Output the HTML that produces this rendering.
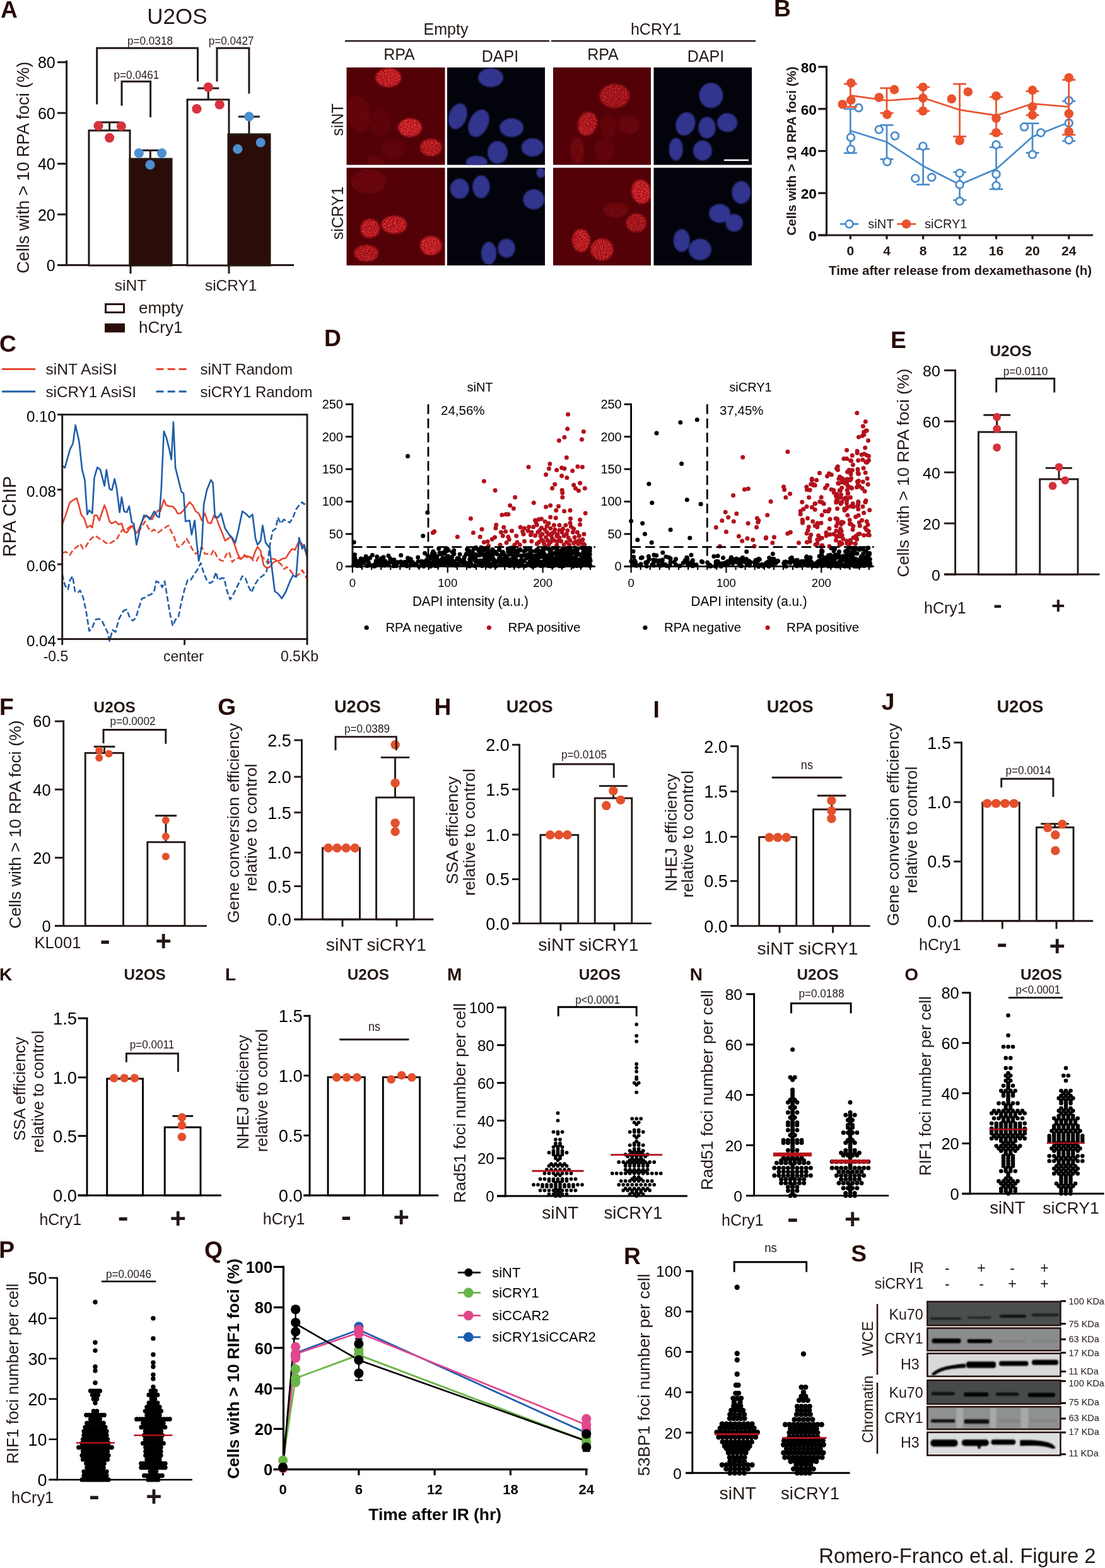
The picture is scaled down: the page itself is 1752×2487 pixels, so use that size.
<!DOCTYPE html>
<html><head><meta charset="utf-8"><title>Romero-Franco et al. Figure 2</title>
<style>html,body{margin:0;padding:0;background:#fff;}body{width:1752px;height:2487px;overflow:hidden;}
svg{display:block;font-family:'Liberation Sans',Arial,Helvetica,sans-serif;fill:#231815;}</style></head>
<body><svg xmlns="http://www.w3.org/2000/svg" width="1752" height="2487" viewBox="0 0 1752 2487">
<defs><filter id="blurN" x="-5%" y="-5%" width="110%" height="110%"><feGaussianBlur stdDeviation="1.6"/></filter><filter id="blurB" x="-5%" y="-5%" width="110%" height="110%"><feGaussianBlur stdDeviation="1.1"/></filter><filter id="speck" x="0" y="0" width="100%" height="100%"><feTurbulence type="fractalNoise" baseFrequency="0.9" numOctaves="1" seed="7"/><feColorMatrix type="matrix" values="0 0 0 0 0.55  0 0 0 0 0.05  0 0 0 0 0.05  3 0 0 0 -1.6"/></filter></defs>
<rect width="1752" height="2487" fill="#fff"/>
<text x="0.88" y="27.8" font-size="37.2" font-weight="bold" fill="#260a05">A</text>
<text x="281" y="38.08" font-size="35" text-anchor="middle">U2OS</text>
<line x1="105.6" y1="95.7" x2="105.6" y2="422.1" stroke="#231815" stroke-width="3"/>
<line x1="91" y1="98.7" x2="105.6" y2="98.7" stroke="#231815" stroke-width="3"/>
<text x="87.7" y="108.33" font-size="25" text-anchor="end" fill="#000">80</text>
<line x1="91" y1="179.2" x2="105.6" y2="179.2" stroke="#231815" stroke-width="3"/>
<text x="87.7" y="188.82" font-size="25" text-anchor="end" fill="#000">60</text>
<line x1="91" y1="259.7" x2="105.6" y2="259.7" stroke="#231815" stroke-width="3"/>
<text x="87.7" y="269.32" font-size="25" text-anchor="end" fill="#000">40</text>
<line x1="91" y1="340.1" x2="105.6" y2="340.1" stroke="#231815" stroke-width="3"/>
<text x="87.7" y="349.73" font-size="25" text-anchor="end" fill="#000">20</text>
<line x1="91" y1="420.6" x2="105.6" y2="420.6" stroke="#231815" stroke-width="3"/>
<text x="87.7" y="430.23" font-size="25" text-anchor="end" fill="#000">0</text>
<line x1="91" y1="420.6" x2="466" y2="420.6" stroke="#231815" stroke-width="3"/>
<rect x="141" y="207" width="65" height="214" fill="#fff" stroke="#231815" stroke-width="3"/>
<rect x="206" y="252" width="66" height="169" fill="#2a0d08" stroke="#231815" stroke-width="3"/>
<rect x="297" y="158" width="66" height="263" fill="#fff" stroke="#231815" stroke-width="3"/>
<rect x="362" y="213" width="66" height="208" fill="#2a0d08" stroke="#231815" stroke-width="3"/>
<line x1="207" y1="421" x2="207" y2="434" stroke="#231815" stroke-width="3"/>
<line x1="363" y1="421" x2="363" y2="434" stroke="#231815" stroke-width="3"/>
<line x1="173.6" y1="207" x2="173.6" y2="194" stroke="#231815" stroke-width="3"/>
<line x1="157.6" y1="194" x2="189.6" y2="194" stroke="#231815" stroke-width="3"/>
<line x1="238.3" y1="252" x2="238.3" y2="238.6" stroke="#231815" stroke-width="3"/>
<line x1="221.8" y1="238.6" x2="254.8" y2="238.6" stroke="#231815" stroke-width="3"/>
<line x1="330.2" y1="158" x2="330.2" y2="139.9" stroke="#231815" stroke-width="3"/>
<line x1="313.2" y1="139.9" x2="347.2" y2="139.9" stroke="#231815" stroke-width="3"/>
<line x1="394.9" y1="213" x2="394.9" y2="184.9" stroke="#231815" stroke-width="3"/>
<line x1="377.9" y1="184.9" x2="411.9" y2="184.9" stroke="#231815" stroke-width="3"/>
<circle cx="156" cy="199.4" r="7.6" fill="#d9313e"/>
<circle cx="192.3" cy="200" r="7.6" fill="#d9313e"/>
<circle cx="173.6" cy="218.6" r="7.6" fill="#d9313e"/>
<circle cx="330.2" cy="138.3" r="7.6" fill="#d9313e"/>
<circle cx="311.9" cy="172.7" r="7.6" fill="#d9313e"/>
<circle cx="348.2" cy="165.9" r="7.6" fill="#d9313e"/>
<circle cx="220.3" cy="242.8" r="7.6" fill="#4b8fce"/>
<circle cx="256.6" cy="242.8" r="7.6" fill="#4b8fce"/>
<circle cx="238" cy="261.4" r="7.6" fill="#4b8fce"/>
<circle cx="394.9" cy="184.9" r="7.6" fill="#4b8fce"/>
<circle cx="376.8" cy="236.3" r="7.6" fill="#4b8fce"/>
<circle cx="413.2" cy="226" r="7.6" fill="#4b8fce"/>
<path d="M153.7 165.6V76.2H313.5V129.3" fill="none" stroke="#231815" stroke-width="3"/>
<path d="M344 129.3V76.2H394.9V148.6" fill="none" stroke="#231815" stroke-width="3"/>
<path d="M193 167.8V129.3H238.6V185.9" fill="none" stroke="#231815" stroke-width="3"/>
<text x="238" y="70.74" font-size="18.4" text-anchor="middle" textLength="71.85" lengthAdjust="spacingAndGlyphs">p=0.0318</text>
<text x="366.6" y="70.74" font-size="18.4" text-anchor="middle" textLength="71.85" lengthAdjust="spacingAndGlyphs">p=0.0427</text>
<text x="216.4" y="124.74" font-size="18.4" text-anchor="middle" textLength="71.85" lengthAdjust="spacingAndGlyphs">p=0.0461</text>
<text x="207" y="460.55" font-size="24.5" text-anchor="middle">siNT</text>
<text x="366.2" y="460.55" font-size="24.5" text-anchor="middle">siCRY1</text>
<text x="45.9" y="265.7" font-size="27.3" text-anchor="middle" transform="rotate(-90 45.9 265.7)" textLength="336" lengthAdjust="spacingAndGlyphs">Cells with &gt; 10 RPA foci (%)</text>
<rect x="167.5" y="482.5" width="29" height="13" fill="#fff" stroke="#2a0d08" stroke-width="3"/>
<rect x="166" y="513" width="32" height="14.3" fill="#2a0d08"/>
<text x="220" y="497" font-size="26">empty</text>
<text x="220" y="527.5" font-size="26">hCry1</text>
<text x="707" y="54.62" font-size="25" text-anchor="middle">Empty</text>
<text x="1040" y="54.62" font-size="25" text-anchor="middle">hCRY1</text>
<line x1="547" y1="65" x2="871" y2="65" stroke="#231815" stroke-width="2.6"/>
<line x1="874" y1="65" x2="1198" y2="65" stroke="#231815" stroke-width="2.6"/>
<text x="633" y="94.62" font-size="25" text-anchor="middle">RPA</text>
<text x="956" y="94.62" font-size="25" text-anchor="middle">RPA</text>
<text x="793" y="97.62" font-size="25" text-anchor="middle">DAPI</text>
<text x="1119" y="97.62" font-size="25" text-anchor="middle">DAPI</text>
<text x="543.62" y="190" font-size="25" text-anchor="middle" transform="rotate(-90 543.62 190)">siNT</text>
<text x="543.62" y="338" font-size="25" text-anchor="middle" transform="rotate(-90 543.62 338)">siCRY1</text>
<rect x="549.5" y="107" width="156" height="154.5" fill="#530007"/>
<rect x="709" y="107" width="155" height="154.5" fill="#03030c"/>
<rect x="877" y="107" width="155" height="154.5" fill="#530007"/>
<rect x="1036.5" y="107" width="155.5" height="154.5" fill="#03030c"/>
<rect x="549.5" y="266" width="156" height="155" fill="#530007"/>
<rect x="709" y="266" width="155" height="155" fill="#03030c"/>
<rect x="877" y="266" width="155" height="155" fill="#530007"/>
<rect x="1036.5" y="266" width="155.5" height="155" fill="#03030c"/>
<filter id="nspeck00" x="-10%" y="-10%" width="120%" height="120%" color-interpolation-filters="sRGB"><feGaussianBlur in="SourceGraphic" stdDeviation="1.5" result="b"/><feTurbulence type="fractalNoise" baseFrequency="0.6" numOctaves="2" seed="3" result="n"/><feColorMatrix in="n" type="matrix" values="0 0 0 0 1  0 0 0 0 0.27  0 0 0 0 0.27  6 0 0 0 -2.9" result="s"/><feComposite in="s" in2="b" operator="in" result="s2"/><feMerge><feMergeNode in="b"/><feMergeNode in="s2"/></feMerge></filter>
<filter id="nspeck01" x="-10%" y="-10%" width="120%" height="120%" color-interpolation-filters="sRGB"><feGaussianBlur in="SourceGraphic" stdDeviation="1.5" result="b"/><feTurbulence type="fractalNoise" baseFrequency="0.6" numOctaves="2" seed="16" result="n"/><feColorMatrix in="n" type="matrix" values="0 0 0 0 1  0 0 0 0 0.27  0 0 0 0 0.27  6 0 0 0 -2.9" result="s"/><feComposite in="s" in2="b" operator="in" result="s2"/><feMerge><feMergeNode in="b"/><feMergeNode in="s2"/></feMerge></filter>
<filter id="nspeck20" x="-10%" y="-10%" width="120%" height="120%" color-interpolation-filters="sRGB"><feGaussianBlur in="SourceGraphic" stdDeviation="1.5" result="b"/><feTurbulence type="fractalNoise" baseFrequency="0.6" numOctaves="2" seed="17" result="n"/><feColorMatrix in="n" type="matrix" values="0 0 0 0 1  0 0 0 0 0.27  0 0 0 0 0.27  6 0 0 0 -2.9" result="s"/><feComposite in="s" in2="b" operator="in" result="s2"/><feMerge><feMergeNode in="b"/><feMergeNode in="s2"/></feMerge></filter>
<filter id="nspeck21" x="-10%" y="-10%" width="120%" height="120%" color-interpolation-filters="sRGB"><feGaussianBlur in="SourceGraphic" stdDeviation="1.5" result="b"/><feTurbulence type="fractalNoise" baseFrequency="0.6" numOctaves="2" seed="30" result="n"/><feColorMatrix in="n" type="matrix" values="0 0 0 0 1  0 0 0 0 0.27  0 0 0 0 0.27  6 0 0 0 -2.9" result="s"/><feComposite in="s" in2="b" operator="in" result="s2"/><feMerge><feMergeNode in="b"/><feMergeNode in="s2"/></feMerge></filter>
<clipPath id="mc00"><rect x="549.5" y="107" width="156" height="154.5"/></clipPath>
<clipPath id="mc10"><rect x="709" y="107" width="155" height="154.5"/></clipPath>
<clipPath id="mc20"><rect x="877" y="107" width="155" height="154.5"/></clipPath>
<clipPath id="mc30"><rect x="1036.5" y="107" width="155.5" height="154.5"/></clipPath>
<clipPath id="mc01"><rect x="549.5" y="266" width="156" height="155"/></clipPath>
<clipPath id="mc11"><rect x="709" y="266" width="155" height="155"/></clipPath>
<clipPath id="mc21"><rect x="877" y="266" width="155" height="155"/></clipPath>
<clipPath id="mc31"><rect x="1036.5" y="266" width="155.5" height="155"/></clipPath>
<g clip-path="url(#mc00)"><g filter="url(#nspeck00)">
<ellipse cx="615.9" cy="123.1" rx="20" ry="15" fill="#b0141c" fill-opacity="0.89" transform="rotate(0 615.9 123.1)"/>
<ellipse cx="650" cy="202.5" rx="18.6" ry="14.6" fill="#b0141c" fill-opacity="0.95" transform="rotate(0 650 202.5)"/>
<ellipse cx="683.2" cy="233.7" rx="17" ry="13.5" fill="#b0141c" fill-opacity="0.79" transform="rotate(0 683.2 233.7)"/>
<ellipse cx="568.6" cy="180.4" rx="18" ry="30" fill="#b0141c" fill-opacity="0.12" transform="rotate(-10 568.6 180.4)"/>
<ellipse cx="602.8" cy="194.5" rx="16" ry="22" fill="#b0141c" fill-opacity="0.08" transform="rotate(0 602.8 194.5)"/>
<ellipse cx="622.9" cy="236.7" rx="18" ry="16" fill="#b0141c" fill-opacity="0.09" transform="rotate(0 622.9 236.7)"/>
<ellipse cx="594.8" cy="254.8" rx="14" ry="9" fill="#b0141c" fill-opacity="0.10" transform="rotate(0 594.8 254.8)"/>
</g></g>
<g clip-path="url(#mc01)"><g filter="url(#nspeck01)">
<ellipse cx="584.7" cy="288.1" rx="28" ry="19" fill="#b0141c" fill-opacity="0.15" transform="rotate(0 584.7 288.1)"/>
<ellipse cx="586.7" cy="362.5" rx="15" ry="15" fill="#b0141c" fill-opacity="0.84" transform="rotate(0 586.7 362.5)"/>
<ellipse cx="624.9" cy="356.5" rx="20" ry="14" fill="#b0141c" fill-opacity="0.84" transform="rotate(0 624.9 356.5)"/>
<ellipse cx="683.2" cy="389.6" rx="17" ry="15" fill="#b0141c" fill-opacity="0.89" transform="rotate(0 683.2 389.6)"/>
<ellipse cx="580.7" cy="401.7" rx="19" ry="13" fill="#b0141c" fill-opacity="0.73" transform="rotate(0 580.7 401.7)"/>
</g></g>
<g clip-path="url(#mc20)"><g filter="url(#nspeck20)">
<ellipse cx="974.5" cy="152.3" rx="23.6" ry="19" fill="#b0141c" fill-opacity="0.63" transform="rotate(0 974.5 152.3)"/>
<ellipse cx="931.3" cy="196.5" rx="15" ry="19" fill="#b0141c" fill-opacity="0.73" transform="rotate(15 931.3 196.5)"/>
<ellipse cx="964.5" cy="200.5" rx="13" ry="19" fill="#b0141c" fill-opacity="0.11" transform="rotate(0 964.5 200.5)"/>
<ellipse cx="996.6" cy="198.5" rx="17" ry="15" fill="#b0141c" fill-opacity="0.14" transform="rotate(0 996.6 198.5)"/>
<ellipse cx="915.2" cy="238.7" rx="11" ry="22" fill="#b0141c" fill-opacity="0.19" transform="rotate(0 915.2 238.7)"/>
<ellipse cx="958.4" cy="238.7" rx="16" ry="19" fill="#b0141c" fill-opacity="0.11" transform="rotate(0 958.4 238.7)"/>
</g></g>
<g clip-path="url(#mc21)"><g filter="url(#nspeck21)">
<ellipse cx="1016.7" cy="304.2" rx="15" ry="19" fill="#b0141c" fill-opacity="0.89" transform="rotate(-10 1016.7 304.2)"/>
<ellipse cx="976.5" cy="333.4" rx="20" ry="12" fill="#b0141c" fill-opacity="0.19" transform="rotate(0 976.5 333.4)"/>
<ellipse cx="1008.7" cy="353.5" rx="16" ry="15" fill="#b0141c" fill-opacity="0.63" transform="rotate(0 1008.7 353.5)"/>
<ellipse cx="921.2" cy="381.6" rx="14" ry="18" fill="#b0141c" fill-opacity="0.84" transform="rotate(0 921.2 381.6)"/>
<ellipse cx="954.4" cy="395.7" rx="18" ry="17" fill="#b0141c" fill-opacity="0.79" transform="rotate(0 954.4 395.7)"/>
</g></g>
<g clip-path="url(#mc10)"><g filter="url(#blurB)">
<ellipse cx="778" cy="123.1" rx="20" ry="15" fill="#31348e" transform="rotate(0 778 123.1)"/>
<ellipse cx="725.7" cy="184.4" rx="14" ry="21" fill="#31348e" transform="rotate(20 725.7 184.4)"/>
<ellipse cx="759" cy="195.5" rx="15" ry="23" fill="#31348e" transform="rotate(25 759 195.5)"/>
<ellipse cx="811.1" cy="202.5" rx="19" ry="15" fill="#31348e" transform="rotate(0 811.1 202.5)"/>
<ellipse cx="789" cy="241.7" rx="16" ry="18" fill="#31348e" transform="rotate(0 789 241.7)"/>
<ellipse cx="844.3" cy="233.7" rx="17.7" ry="14.5" fill="#31348e" transform="rotate(0 844.3 233.7)"/>
<ellipse cx="755.8" cy="257" rx="17" ry="10" fill="#31348e" transform="rotate(0 755.8 257)"/>
</g></g>
<g clip-path="url(#mc11)"><g filter="url(#blurB)">
<ellipse cx="728.7" cy="299.2" rx="15" ry="16" fill="#31348e" transform="rotate(0 728.7 299.2)"/>
<ellipse cx="762.9" cy="296.2" rx="13.7" ry="18" fill="#31348e" transform="rotate(0 762.9 296.2)"/>
<ellipse cx="846.3" cy="316.3" rx="17" ry="16" fill="#31348e" transform="rotate(0 846.3 316.3)"/>
<ellipse cx="857.4" cy="274.1" rx="7" ry="8" fill="#31348e" transform="rotate(0 857.4 274.1)"/>
<ellipse cx="775" cy="401.7" rx="12" ry="18" fill="#31348e" transform="rotate(0 775 401.7)"/>
<ellipse cx="803.1" cy="393.7" rx="13.7" ry="15" fill="#31348e" transform="rotate(0 803.1 393.7)"/>
</g></g>
<g clip-path="url(#mc30)"><g filter="url(#blurB)">
<ellipse cx="1127.4" cy="151.3" rx="19" ry="20" fill="#31348e" transform="rotate(0 1127.4 151.3)"/>
<ellipse cx="1086.8" cy="196.5" rx="15" ry="19" fill="#31348e" transform="rotate(20 1086.8 196.5)"/>
<ellipse cx="1120.9" cy="202.5" rx="13.7" ry="17" fill="#31348e" transform="rotate(0 1120.9 202.5)"/>
<ellipse cx="1153.1" cy="194.5" rx="16" ry="15" fill="#31348e" transform="rotate(0 1153.1 194.5)"/>
<ellipse cx="1071.7" cy="236.7" rx="11" ry="18" fill="#31348e" transform="rotate(0 1071.7 236.7)"/>
<ellipse cx="1113.9" cy="238.7" rx="15" ry="16" fill="#31348e" transform="rotate(0 1113.9 238.7)"/>
</g></g>
<g clip-path="url(#mc31)"><g filter="url(#blurB)">
<ellipse cx="1175.2" cy="305.2" rx="15" ry="18" fill="#31348e" transform="rotate(0 1175.2 305.2)"/>
<ellipse cx="1141" cy="338.4" rx="17" ry="15" fill="#31348e" transform="rotate(0 1141 338.4)"/>
<ellipse cx="1164.2" cy="353.5" rx="13.7" ry="14" fill="#31348e" transform="rotate(0 1164.2 353.5)"/>
<ellipse cx="1080.7" cy="381.6" rx="13" ry="18" fill="#31348e" transform="rotate(0 1080.7 381.6)"/>
<ellipse cx="1109.9" cy="395.7" rx="18" ry="17" fill="#31348e" transform="rotate(0 1109.9 395.7)"/>
</g></g>
<line x1="1148" y1="254" x2="1187" y2="254" stroke="#ffffff" stroke-width="2.5"/>
<text x="1227.1" y="25.6" font-size="37.2" font-weight="bold" fill="#260a05">B</text>
<line x1="1310.5" y1="104.4" x2="1310.5" y2="374.6" stroke="#231815" stroke-width="3.2"/>
<line x1="1297.3" y1="106" x2="1310.5" y2="106" stroke="#231815" stroke-width="3.2"/>
<text x="1294.9" y="114.8" font-size="22.6" text-anchor="end" font-weight="bold" fill="#000">80</text>
<line x1="1297.3" y1="172.75" x2="1310.5" y2="172.75" stroke="#231815" stroke-width="3.2"/>
<text x="1294.9" y="181.55" font-size="22.6" text-anchor="end" font-weight="bold" fill="#000">60</text>
<line x1="1297.3" y1="239.5" x2="1310.5" y2="239.5" stroke="#231815" stroke-width="3.2"/>
<text x="1294.9" y="248.3" font-size="22.6" text-anchor="end" font-weight="bold" fill="#000">40</text>
<line x1="1297.3" y1="306.25" x2="1310.5" y2="306.25" stroke="#231815" stroke-width="3.2"/>
<text x="1294.9" y="315.05" font-size="22.6" text-anchor="end" font-weight="bold" fill="#000">20</text>
<line x1="1297.3" y1="373" x2="1310.5" y2="373" stroke="#231815" stroke-width="3.2"/>
<text x="1294.9" y="381.8" font-size="22.6" text-anchor="end" font-weight="bold" fill="#000">0</text>
<line x1="1297.3" y1="373" x2="1733" y2="373" stroke="#231815" stroke-width="3.2"/>
<line x1="1348.3" y1="373" x2="1348.3" y2="379.5" stroke="#231815" stroke-width="3.2"/>
<text x="1348.3" y="405.25" font-size="21" text-anchor="middle" font-weight="bold">0</text>
<line x1="1406" y1="373" x2="1406" y2="379.5" stroke="#231815" stroke-width="3.2"/>
<text x="1406" y="405.25" font-size="21" text-anchor="middle" font-weight="bold">4</text>
<line x1="1463.6" y1="373" x2="1463.6" y2="379.5" stroke="#231815" stroke-width="3.2"/>
<text x="1463.6" y="405.25" font-size="21" text-anchor="middle" font-weight="bold">8</text>
<line x1="1521.6" y1="373" x2="1521.6" y2="379.5" stroke="#231815" stroke-width="3.2"/>
<text x="1521.6" y="405.25" font-size="21" text-anchor="middle" font-weight="bold">12</text>
<line x1="1579.5" y1="373" x2="1579.5" y2="379.5" stroke="#231815" stroke-width="3.2"/>
<text x="1579.5" y="405.25" font-size="21" text-anchor="middle" font-weight="bold">16</text>
<line x1="1637" y1="373" x2="1637" y2="379.5" stroke="#231815" stroke-width="3.2"/>
<text x="1637" y="405.25" font-size="21" text-anchor="middle" font-weight="bold">20</text>
<line x1="1694.7" y1="373" x2="1694.7" y2="379.5" stroke="#231815" stroke-width="3.2"/>
<text x="1694.7" y="405.25" font-size="21" text-anchor="middle" font-weight="bold">24</text>
<text x="1522.5" y="436.25" font-size="21" text-anchor="middle" font-weight="bold" textLength="417" lengthAdjust="spacingAndGlyphs">Time after release from dexamethasone (h)</text>
<text x="1261.74" y="239.5" font-size="21" text-anchor="middle" font-weight="bold" transform="rotate(-90 1261.74 239.5)" textLength="268" lengthAdjust="spacingAndGlyphs">Cells with &gt; 10 RPA foci (%)</text>
<polyline points="1348.3,207.2 1406,225.3 1463.6,263.2 1521.6,292.8 1579.5,268.1 1637,217.1 1694.7,194.1" fill="none" stroke="#4a8bcb" stroke-width="2.7" stroke-linejoin="round"/>
<line x1="1348.3" y1="172.7" x2="1348.3" y2="242.8" stroke="#4a8bcb" stroke-width="2.7"/>
<line x1="1337.8" y1="172.7" x2="1358.8" y2="172.7" stroke="#4a8bcb" stroke-width="2.7"/>
<line x1="1337.8" y1="242.8" x2="1358.8" y2="242.8" stroke="#4a8bcb" stroke-width="2.7"/>
<line x1="1406" y1="198.4" x2="1406" y2="252.6" stroke="#4a8bcb" stroke-width="2.7"/>
<line x1="1395.5" y1="198.4" x2="1416.5" y2="198.4" stroke="#4a8bcb" stroke-width="2.7"/>
<line x1="1395.5" y1="252.6" x2="1416.5" y2="252.6" stroke="#4a8bcb" stroke-width="2.7"/>
<line x1="1463.6" y1="236.2" x2="1463.6" y2="292.8" stroke="#4a8bcb" stroke-width="2.7"/>
<line x1="1453.1" y1="236.2" x2="1474.1" y2="236.2" stroke="#4a8bcb" stroke-width="2.7"/>
<line x1="1453.1" y1="292.8" x2="1474.1" y2="292.8" stroke="#4a8bcb" stroke-width="2.7"/>
<line x1="1521.6" y1="273" x2="1521.6" y2="317.4" stroke="#4a8bcb" stroke-width="2.7"/>
<line x1="1511.1" y1="273" x2="1532.1" y2="273" stroke="#4a8bcb" stroke-width="2.7"/>
<line x1="1511.1" y1="317.4" x2="1532.1" y2="317.4" stroke="#4a8bcb" stroke-width="2.7"/>
<line x1="1579.5" y1="233.6" x2="1579.5" y2="300" stroke="#4a8bcb" stroke-width="2.7"/>
<line x1="1569" y1="233.6" x2="1590" y2="233.6" stroke="#4a8bcb" stroke-width="2.7"/>
<line x1="1569" y1="300" x2="1590" y2="300" stroke="#4a8bcb" stroke-width="2.7"/>
<line x1="1637" y1="195.7" x2="1637" y2="242.4" stroke="#4a8bcb" stroke-width="2.7"/>
<line x1="1626.5" y1="195.7" x2="1647.5" y2="195.7" stroke="#4a8bcb" stroke-width="2.7"/>
<line x1="1626.5" y1="242.4" x2="1647.5" y2="242.4" stroke="#4a8bcb" stroke-width="2.7"/>
<line x1="1694.7" y1="160.5" x2="1694.7" y2="223.7" stroke="#4a8bcb" stroke-width="2.7"/>
<line x1="1684.2" y1="160.5" x2="1705.2" y2="160.5" stroke="#4a8bcb" stroke-width="2.7"/>
<line x1="1684.2" y1="223.7" x2="1705.2" y2="223.7" stroke="#4a8bcb" stroke-width="2.7"/>
<circle cx="1361.4" cy="171.1" r="5.9" fill="#fff" stroke="#4a8bcb" stroke-width="2.7"/>
<circle cx="1349" cy="217.8" r="5.9" fill="#fff" stroke="#4a8bcb" stroke-width="2.7"/>
<circle cx="1349" cy="236.8" r="5.9" fill="#fff" stroke="#4a8bcb" stroke-width="2.7"/>
<circle cx="1393.7" cy="205.6" r="5.9" fill="#fff" stroke="#4a8bcb" stroke-width="2.7"/>
<circle cx="1419" cy="215.5" r="5.9" fill="#fff" stroke="#4a8bcb" stroke-width="2.7"/>
<circle cx="1406.5" cy="256.6" r="5.9" fill="#fff" stroke="#4a8bcb" stroke-width="2.7"/>
<circle cx="1463.4" cy="231.9" r="5.9" fill="#fff" stroke="#4a8bcb" stroke-width="2.7"/>
<circle cx="1451.3" cy="282.9" r="5.9" fill="#fff" stroke="#4a8bcb" stroke-width="2.7"/>
<circle cx="1477.2" cy="281.3" r="5.9" fill="#fff" stroke="#4a8bcb" stroke-width="2.7"/>
<circle cx="1521.6" cy="274.7" r="5.9" fill="#fff" stroke="#4a8bcb" stroke-width="2.7"/>
<circle cx="1521.6" cy="292.8" r="5.9" fill="#fff" stroke="#4a8bcb" stroke-width="2.7"/>
<circle cx="1521.6" cy="319.1" r="5.9" fill="#fff" stroke="#4a8bcb" stroke-width="2.7"/>
<circle cx="1579.5" cy="229.6" r="5.9" fill="#fff" stroke="#4a8bcb" stroke-width="2.7"/>
<circle cx="1579.5" cy="276.3" r="5.9" fill="#fff" stroke="#4a8bcb" stroke-width="2.7"/>
<circle cx="1579.5" cy="294.4" r="5.9" fill="#fff" stroke="#4a8bcb" stroke-width="2.7"/>
<circle cx="1624" cy="201.3" r="5.9" fill="#fff" stroke="#4a8bcb" stroke-width="2.7"/>
<circle cx="1637" cy="245.1" r="5.9" fill="#fff" stroke="#4a8bcb" stroke-width="2.7"/>
<circle cx="1650.3" cy="210.5" r="5.9" fill="#fff" stroke="#4a8bcb" stroke-width="2.7"/>
<circle cx="1694.7" cy="159.5" r="5.9" fill="#fff" stroke="#4a8bcb" stroke-width="2.7"/>
<circle cx="1694.7" cy="195.1" r="5.9" fill="#fff" stroke="#4a8bcb" stroke-width="2.7"/>
<circle cx="1694.7" cy="222" r="5.9" fill="#fff" stroke="#4a8bcb" stroke-width="2.7"/>
<polyline points="1348.3,151.3 1406,159.5 1463.6,155.3 1521.6,174.3 1579.5,183.2 1637,164.5 1694.7,169.4" fill="none" stroke="#e9522c" stroke-width="2.7" stroke-linejoin="round"/>
<line x1="1348.3" y1="133.2" x2="1348.3" y2="169.4" stroke="#e9522c" stroke-width="2.7"/>
<line x1="1337.8" y1="133.2" x2="1358.8" y2="133.2" stroke="#e9522c" stroke-width="2.7"/>
<line x1="1337.8" y1="169.4" x2="1358.8" y2="169.4" stroke="#e9522c" stroke-width="2.7"/>
<line x1="1406" y1="139.8" x2="1406" y2="179.3" stroke="#e9522c" stroke-width="2.7"/>
<line x1="1395.5" y1="139.8" x2="1416.5" y2="139.8" stroke="#e9522c" stroke-width="2.7"/>
<line x1="1395.5" y1="179.3" x2="1416.5" y2="179.3" stroke="#e9522c" stroke-width="2.7"/>
<line x1="1463.6" y1="138.2" x2="1463.6" y2="176" stroke="#e9522c" stroke-width="2.7"/>
<line x1="1453.1" y1="138.2" x2="1474.1" y2="138.2" stroke="#e9522c" stroke-width="2.7"/>
<line x1="1453.1" y1="176" x2="1474.1" y2="176" stroke="#e9522c" stroke-width="2.7"/>
<line x1="1521.6" y1="133.2" x2="1521.6" y2="216.4" stroke="#e9522c" stroke-width="2.7"/>
<line x1="1511.1" y1="133.2" x2="1532.1" y2="133.2" stroke="#e9522c" stroke-width="2.7"/>
<line x1="1511.1" y1="216.4" x2="1532.1" y2="216.4" stroke="#e9522c" stroke-width="2.7"/>
<line x1="1579.5" y1="154" x2="1579.5" y2="212.2" stroke="#e9522c" stroke-width="2.7"/>
<line x1="1569" y1="154" x2="1590" y2="154" stroke="#e9522c" stroke-width="2.7"/>
<line x1="1569" y1="212.2" x2="1590" y2="212.2" stroke="#e9522c" stroke-width="2.7"/>
<line x1="1637" y1="144.7" x2="1637" y2="182.6" stroke="#e9522c" stroke-width="2.7"/>
<line x1="1626.5" y1="144.7" x2="1647.5" y2="144.7" stroke="#e9522c" stroke-width="2.7"/>
<line x1="1626.5" y1="182.6" x2="1647.5" y2="182.6" stroke="#e9522c" stroke-width="2.7"/>
<line x1="1694.7" y1="126.6" x2="1694.7" y2="213.8" stroke="#e9522c" stroke-width="2.7"/>
<line x1="1684.2" y1="126.6" x2="1705.2" y2="126.6" stroke="#e9522c" stroke-width="2.7"/>
<line x1="1684.2" y1="213.8" x2="1705.2" y2="213.8" stroke="#e9522c" stroke-width="2.7"/>
<circle cx="1335.8" cy="165.5" r="7.3" fill="#e9522c"/>
<circle cx="1349.3" cy="131.6" r="7.3" fill="#e9522c"/>
<circle cx="1349.3" cy="158.9" r="7.3" fill="#e9522c"/>
<circle cx="1393.7" cy="154.6" r="7.3" fill="#e9522c"/>
<circle cx="1418" cy="142.1" r="7.3" fill="#e9522c"/>
<circle cx="1406.5" cy="181.6" r="7.3" fill="#e9522c"/>
<circle cx="1463.4" cy="138.2" r="7.3" fill="#e9522c"/>
<circle cx="1463.4" cy="155.6" r="7.3" fill="#e9522c"/>
<circle cx="1463.4" cy="176" r="7.3" fill="#e9522c"/>
<circle cx="1508.8" cy="156.9" r="7.3" fill="#e9522c"/>
<circle cx="1534.8" cy="145.7" r="7.3" fill="#e9522c"/>
<circle cx="1521.6" cy="223" r="7.3" fill="#e9522c"/>
<circle cx="1579.5" cy="152.3" r="7.3" fill="#e9522c"/>
<circle cx="1579.5" cy="187.5" r="7.3" fill="#e9522c"/>
<circle cx="1579.5" cy="210.5" r="7.3" fill="#e9522c"/>
<circle cx="1637" cy="143.1" r="7.3" fill="#e9522c"/>
<circle cx="1637" cy="169.4" r="7.3" fill="#e9522c"/>
<circle cx="1637" cy="182.6" r="7.3" fill="#e9522c"/>
<circle cx="1694.7" cy="123.4" r="7.3" fill="#e9522c"/>
<circle cx="1694.7" cy="180.3" r="7.3" fill="#e9522c"/>
<circle cx="1694.7" cy="208.9" r="7.3" fill="#e9522c"/>
<line x1="1331.8" y1="355.3" x2="1361.4" y2="355.3" stroke="#4a8bcb" stroke-width="2.7"/>
<circle cx="1346.6" cy="355.3" r="5.9" fill="#fff" stroke="#4a8bcb" stroke-width="2.7"/>
<text x="1376.3" y="362.2" font-size="20">siNT</text>
<line x1="1422.3" y1="355.3" x2="1451.9" y2="355.3" stroke="#e9522c" stroke-width="2.7"/>
<circle cx="1437.1" cy="355.3" r="7.3" fill="#e9522c"/>
<text x="1466" y="362.2" font-size="20">siCRY1</text>
<text x="-0.99" y="557.5" font-size="37.2" font-weight="bold" fill="#260a05">C</text>
<line x1="3" y1="585.5" x2="56" y2="585.5" stroke="#e7462f" stroke-width="3"/>
<line x1="3" y1="621" x2="56" y2="621" stroke="#1f5ea8" stroke-width="3"/>
<line x1="247.6" y1="585.5" x2="296" y2="585.5" stroke="#e7462f" stroke-width="3" stroke-dasharray="12 6"/>
<line x1="247.6" y1="621" x2="296" y2="621" stroke="#1f5ea8" stroke-width="3" stroke-dasharray="12 6"/>
<text x="72.5" y="594" font-size="24.6" textLength="113" lengthAdjust="spacingAndGlyphs">siNT AsiSI</text>
<text x="317.5" y="594" font-size="24.6" textLength="146.5" lengthAdjust="spacingAndGlyphs">siNT Random</text>
<text x="72.5" y="629.5" font-size="24.6" textLength="143.5" lengthAdjust="spacingAndGlyphs">siCRY1 AsiSI</text>
<text x="317.5" y="629.5" font-size="24.6" textLength="178" lengthAdjust="spacingAndGlyphs">siCRY1 Random</text>
<clipPath id="clipC"><rect x="98.7" y="640" width="388.3" height="380"/></clipPath>
<g clip-path="url(#clipC)">
<polyline points="98.71,876.91 104.5,875.31 110.93,880.13 115.76,872.09 122.19,867.27 127.01,862.44 131.83,870.48 135.05,868.87 141.48,857.62 146.3,852.8 151.13,849.58 157.56,854.41 162.38,856.01 167.2,860.84 173.63,862.44 178.46,859.23 184.89,856.01 189.71,846.37 194.53,839.94 199.36,841.54 204.18,836.72 209,833.5 213.83,841.54 218.65,844.76 225.08,835.11 229.9,827.07 234.73,836.72 239.55,843.15 244.37,839.94 250.8,844.76 257.23,839.94 262.06,836.72 266.88,833.5 271.7,843.15 276.53,852.8 281.35,867.27 286.17,867.27 291,860.84 295.82,854.41 300.64,862.44 305.47,872.09 310.29,878.52 315.11,873.7 319.94,867.27 324.76,878.52 329.58,878.52 334.41,880.13 339.23,872.09 344.05,883.34 348.87,888.17 353.7,889.77 358.52,880.13 363.34,875.31 368.17,891.38 372.99,886.56 377.81,884.95 382.64,886.56 387.46,880.13 392.28,884.95 397.11,883.34 401.93,889.77 406.75,889.77 411.58,880.13 416.4,883.34 421.22,889.77 426.05,892.99 430.87,886.56 435.69,886.56 440.51,891.38 445.34,894.6 450.16,902.64 454.98,899.42 459.81,904.24 464.63,910.68 469.45,913.89 474.28,910.68 479.1,904.24 483.92,912.28 487.14,918.71" fill="none" stroke="#e7462f" stroke-width="2.6" stroke-linejoin="round" stroke-dasharray="9 4"/>
<polyline points="98.71,910.68 102.89,928.36 107.72,934.79 110.93,920.32 115.11,913.89 118.97,938.01 123.79,939.61 127.01,936.4 131.83,947.65 136.66,970.16 141.48,1000.71 146.3,995.88 151.13,983.02 155.95,981.41 160.77,983.02 165.59,992.67 170.42,1002.32 173.63,1016.78 178.46,999.1 183.28,1002.32 188.1,983.02 192.93,973.38 196.14,968.55 200.96,966.95 205.79,979.81 210.61,984.63 215.43,979.81 220.26,963.73 225.08,949.26 229.9,947.65 234.73,944.44 239.55,942.83 244.37,938.01 247.59,921.93 254.02,925.14 257.23,931.58 261.09,921.93 265.27,947.65 270.1,976.59 273.95,992.67 278.14,983.02 282.96,978.2 287.78,954.08 292.6,934.79 297.43,920.32 302.25,920.32 307.07,912.28 313.5,902.64 318.33,892.99 323.15,909.07 327.97,920.32 332.8,925.14 337.62,921.93 342.44,907.46 345.66,920.32 350.48,917.11 355.31,917.11 360.13,938.01 364.95,950.87 369.77,942.83 374.6,933.18 379.42,923.54 384.24,913.89 389.07,917.11 393.89,929.97 398.71,939.61 403.54,928.36 408.36,920.32 413.18,915.5 418.01,912.28 422.83,905.85 427.65,865.66 432.48,841.54 437.3,838.33 440.51,820.64 445.34,830.29 450.16,823.86 454.98,827.07 459.81,828.68 464.63,820.64 469.45,807.78 474.28,801.35 479.1,796.53 482.32,799.74 487.14,796.53" fill="none" stroke="#1f5ea8" stroke-width="2.6" stroke-linejoin="round" stroke-dasharray="9 4"/>
<polyline points="98.71,831.9 104.5,815.82 110.93,796.53 115.76,793.31 121.54,790.1 125.4,802.96 128.62,815.82 133.44,822.25 138.26,836.72 143.09,833.5 146.3,836.72 149.52,817.43 153.7,817.43 157.56,825.47 162.38,811 165.59,801.35 168.81,809.39 173.63,827.07 176.85,830.29 183.28,827.07 188.1,831.9 192.93,830.29 196.78,843.15 200.96,844.76 205.79,838.33 210.61,833.5 215.43,846.37 218.65,843.15 221.86,835.11 226.69,823.86 231.51,817.43 236.33,820.64 241.16,823.86 245.98,814.21 250.8,809.39 254.02,811 257.23,801.35 259.81,792.67 263.67,801.35 268.49,802.96 273.31,802.96 278.14,807.78 281.35,814.21 286.17,814.21 291,809.39 295.82,802.96 300.64,796.53 305.47,801.35 310.29,811 315.11,814.21 319.94,825.47 324.76,814.21 329.58,828.68 334.41,830.29 339.23,817.43 342.44,819.04 347.27,833.5 352.09,844.76 356.91,857.62 361.74,854.41 366.56,851.19 371.38,862.44 376.21,876.91 381.03,886.56 385.85,883.34 390.68,881.74 395.5,883.34 400.32,886.56 405.14,873.7 408.36,867.27 413.18,873.7 418.01,896.21 422.83,901.03 427.65,899.42 432.48,892.99 437.3,889.77 442.12,889.77 446.95,886.56 453.38,884.95 458.2,876.91 463.02,870.48 467.85,872.09 472.67,860.84 477.49,860.84 482.32,868.87 487.14,883.34" fill="none" stroke="#e7462f" stroke-width="2.6" stroke-linejoin="round"/>
<polyline points="98.71,738.65 102.89,741.86 110.93,712.93 115.76,703.28 119.61,674.34 125.4,700.06 130.23,745.08 134.41,761.16 138.26,815.82 141.48,809.39 146.3,814.21 149.52,757.94 154.34,741.22 159.16,745.08 162.38,757.94 165.59,770.8 168.81,745.08 173.63,775.63 177.49,777.23 181.67,759.55 184.89,774.02 189.71,812.6 192.93,788.49 196.78,811 200.96,812.6 204.82,802.96 209,828.68 212.22,830.29 216.4,864.05 221.86,838.33 228.3,817.43 233.12,819.04 237.94,823.86 244.37,811 249.2,819.04 252.41,820.64 255.63,777.23 259.81,683.99 263.67,693.63 268.49,712.93 271.7,729 274.92,669.52 278.14,741.86 282.96,761.16 287.78,780.45 291,782.06 294.21,827.07 300.64,825.47 303.86,847.97 308.68,825.47 311.9,860.84 315.11,889.77 319.94,867.27 323.15,799.74 327.97,777.23 334.41,761.16 337.62,765.98 340.84,820.64 345.66,820.64 350.48,814.21 356.91,838.33 363.34,847.97 368.17,852.8 372.99,860.84 377.81,841.54 384.24,811 389.07,814.21 395.5,820.64 400.32,815.82 405.14,854.41 408.36,864.05 413.18,857.62 416.4,833.5 421.22,860.84 427.65,868.87 430.87,899.42 435.69,938.01 440.51,941.22 446.95,949.26 453.38,938.01 459.81,921.93 464.63,912.28 469.45,915.5 474.28,852.8 479.1,870.48 482.32,864.05 487.14,883.34" fill="none" stroke="#1f5ea8" stroke-width="2.6" stroke-linejoin="round"/>
</g>
<rect x="98.7" y="657.6" width="388.3" height="356" fill="none" stroke="#231815" stroke-width="2.9"/>
<line x1="91" y1="657.6" x2="98.7" y2="657.6" stroke="#231815" stroke-width="2.9"/>
<text x="89" y="668.65" font-size="24.2" text-anchor="end" fill="#000">0.10</text>
<line x1="91" y1="776.6" x2="98.7" y2="776.6" stroke="#231815" stroke-width="2.9"/>
<text x="89" y="787.65" font-size="24.2" text-anchor="end" fill="#000">0.08</text>
<line x1="91" y1="895" x2="98.7" y2="895" stroke="#231815" stroke-width="2.9"/>
<text x="89" y="906.05" font-size="24.2" text-anchor="end" fill="#000">0.06</text>
<line x1="91" y1="1013.6" x2="98.7" y2="1013.6" stroke="#231815" stroke-width="2.9"/>
<text x="89" y="1024.65" font-size="24.2" text-anchor="end" fill="#000">0.04</text>
<line x1="98.7" y1="1013.6" x2="98.7" y2="1023" stroke="#231815" stroke-width="2.9"/>
<line x1="292.6" y1="1013.6" x2="292.6" y2="1023" stroke="#231815" stroke-width="2.9"/>
<line x1="487" y1="1013.6" x2="487" y2="1023" stroke="#231815" stroke-width="2.9"/>
<text x="88.5" y="1048.93" font-size="23" text-anchor="middle">-0.5</text>
<text x="291" y="1048.93" font-size="23" text-anchor="middle">center</text>
<text x="475" y="1048.93" font-size="23" text-anchor="middle">0.5Kb</text>
<text x="25.3" y="819" font-size="29" text-anchor="middle" transform="rotate(-90 25.3 819)">RPA ChIP</text>
<text x="514.1" y="548.8" font-size="37.2" font-weight="bold" fill="#260a05">D</text>
<g fill="#000"><circle cx="811.86" cy="887.63" r="3.5"/><circle cx="904.98" cy="879.61" r="3.5"/><circle cx="922.66" cy="895.69" r="3.5"/><circle cx="773.75" cy="869.1" r="3.5"/><circle cx="785.22" cy="896.04" r="3.5"/><circle cx="560.71" cy="895.92" r="3.5"/><circle cx="892.51" cy="884.56" r="3.5"/><circle cx="729.05" cy="879.3" r="3.5"/><circle cx="782.76" cy="890.1" r="3.5"/><circle cx="680.96" cy="897.82" r="3.5"/><circle cx="875.44" cy="889.78" r="3.5"/><circle cx="651.38" cy="887.1" r="3.5"/><circle cx="692.96" cy="887.9" r="3.5"/><circle cx="584.21" cy="891.54" r="3.5"/><circle cx="855.1" cy="879.62" r="3.5"/><circle cx="886.17" cy="888.48" r="3.5"/><circle cx="754.64" cy="891.05" r="3.5"/><circle cx="566.13" cy="894.06" r="3.5"/><circle cx="906.44" cy="885.05" r="3.5"/><circle cx="762.42" cy="879.19" r="3.5"/><circle cx="609.68" cy="897.08" r="3.5"/><circle cx="740.97" cy="872" r="3.5"/><circle cx="855.9" cy="891.26" r="3.5"/><circle cx="921.54" cy="896.76" r="3.5"/><circle cx="872.14" cy="896.21" r="3.5"/><circle cx="629.22" cy="892.98" r="3.5"/><circle cx="800.24" cy="884.88" r="3.5"/><circle cx="832.57" cy="872.55" r="3.5"/><circle cx="911.26" cy="895.5" r="3.5"/><circle cx="760.19" cy="892.01" r="3.5"/><circle cx="695.46" cy="890.69" r="3.5"/><circle cx="563.57" cy="893.84" r="3.5"/><circle cx="893.3" cy="897.64" r="3.5"/><circle cx="880.64" cy="876.91" r="3.5"/><circle cx="586.46" cy="885" r="3.5"/><circle cx="725.99" cy="894.5" r="3.5"/><circle cx="934.5" cy="885.1" r="3.5"/><circle cx="580.17" cy="882.61" r="3.5"/><circle cx="808.41" cy="887.6" r="3.5"/><circle cx="685.82" cy="893.97" r="3.5"/><circle cx="563.13" cy="889.5" r="3.5"/><circle cx="668.74" cy="892.8" r="3.5"/><circle cx="635.67" cy="880.79" r="3.5"/><circle cx="762.84" cy="868.58" r="3.5"/><circle cx="624.8" cy="897.14" r="3.5"/><circle cx="770.74" cy="878.59" r="3.5"/><circle cx="866.54" cy="883.18" r="3.5"/><circle cx="744.87" cy="887.46" r="3.5"/><circle cx="793.53" cy="881.02" r="3.5"/><circle cx="925.08" cy="879.36" r="3.5"/><circle cx="857.38" cy="897.6" r="3.5"/><circle cx="843.99" cy="885.07" r="3.5"/><circle cx="631.46" cy="892.37" r="3.5"/><circle cx="895.13" cy="885.62" r="3.5"/><circle cx="889.37" cy="889.42" r="3.5"/><circle cx="901.17" cy="871.38" r="3.5"/><circle cx="843.62" cy="898.18" r="3.5"/><circle cx="781.76" cy="885.54" r="3.5"/><circle cx="706.78" cy="889.24" r="3.5"/><circle cx="914.81" cy="873.43" r="3.5"/><circle cx="768.53" cy="890.27" r="3.5"/><circle cx="908.21" cy="890.19" r="3.5"/><circle cx="850.87" cy="890.35" r="3.5"/><circle cx="685.33" cy="896.17" r="3.5"/><circle cx="664.23" cy="898.16" r="3.5"/><circle cx="644.42" cy="892.81" r="3.5"/><circle cx="934.2" cy="884.83" r="3.5"/><circle cx="659.02" cy="895.74" r="3.5"/><circle cx="913.89" cy="879.63" r="3.5"/><circle cx="792.1" cy="890.16" r="3.5"/><circle cx="901.87" cy="893.07" r="3.5"/><circle cx="615.89" cy="881.4" r="3.5"/><circle cx="906.15" cy="888.08" r="3.5"/><circle cx="822.67" cy="898.04" r="3.5"/><circle cx="709.28" cy="870.58" r="3.5"/><circle cx="916.02" cy="879.74" r="3.5"/><circle cx="860.32" cy="872.17" r="3.5"/><circle cx="697.32" cy="878.97" r="3.5"/><circle cx="765.37" cy="889.15" r="3.5"/><circle cx="766.63" cy="871.55" r="3.5"/><circle cx="686.82" cy="874.81" r="3.5"/><circle cx="708.1" cy="896.17" r="3.5"/><circle cx="814.48" cy="895.27" r="3.5"/><circle cx="933.03" cy="883.12" r="3.5"/><circle cx="870.67" cy="891.89" r="3.5"/><circle cx="576.84" cy="886.91" r="3.5"/><circle cx="774.94" cy="896.86" r="3.5"/><circle cx="695.77" cy="891.79" r="3.5"/><circle cx="881.41" cy="891.16" r="3.5"/><circle cx="811.8" cy="887.03" r="3.5"/><circle cx="711.06" cy="873.02" r="3.5"/><circle cx="821.63" cy="892.4" r="3.5"/><circle cx="827.35" cy="889.77" r="3.5"/><circle cx="675.89" cy="891.15" r="3.5"/><circle cx="811" cy="877.78" r="3.5"/><circle cx="623.91" cy="897.67" r="3.5"/><circle cx="693.33" cy="897.14" r="3.5"/><circle cx="611.24" cy="890.31" r="3.5"/><circle cx="711.05" cy="888.94" r="3.5"/><circle cx="795.54" cy="887.34" r="3.5"/><circle cx="582.32" cy="889.3" r="3.5"/><circle cx="775.62" cy="887.8" r="3.5"/><circle cx="920.72" cy="890.47" r="3.5"/><circle cx="902.21" cy="885.37" r="3.5"/><circle cx="851.02" cy="893.63" r="3.5"/><circle cx="791.71" cy="890.68" r="3.5"/><circle cx="726.34" cy="894.21" r="3.5"/><circle cx="738.81" cy="893.12" r="3.5"/><circle cx="875.51" cy="891.81" r="3.5"/><circle cx="915.25" cy="876.72" r="3.5"/><circle cx="922.14" cy="868.56" r="3.5"/><circle cx="745.05" cy="886.38" r="3.5"/><circle cx="934.36" cy="878.04" r="3.5"/><circle cx="689.68" cy="883.31" r="3.5"/><circle cx="827.45" cy="897.08" r="3.5"/><circle cx="563.42" cy="895.85" r="3.5"/><circle cx="824.19" cy="894.03" r="3.5"/><circle cx="900.88" cy="877.26" r="3.5"/><circle cx="566.38" cy="897.4" r="3.5"/><circle cx="838.33" cy="893.58" r="3.5"/><circle cx="846.71" cy="889.2" r="3.5"/><circle cx="643.5" cy="895.86" r="3.5"/><circle cx="760.21" cy="892.58" r="3.5"/><circle cx="824.81" cy="871.75" r="3.5"/><circle cx="770.46" cy="893.54" r="3.5"/><circle cx="853.3" cy="883.35" r="3.5"/><circle cx="740.54" cy="871.21" r="3.5"/><circle cx="748.65" cy="882.04" r="3.5"/><circle cx="773.35" cy="887.38" r="3.5"/><circle cx="852.98" cy="890.75" r="3.5"/><circle cx="935.15" cy="879.34" r="3.5"/><circle cx="894.71" cy="894.77" r="3.5"/><circle cx="869.98" cy="888.05" r="3.5"/><circle cx="679.62" cy="893.56" r="3.5"/><circle cx="753.53" cy="885.73" r="3.5"/><circle cx="889.18" cy="896.89" r="3.5"/><circle cx="860.6" cy="890.91" r="3.5"/><circle cx="814.55" cy="869.55" r="3.5"/><circle cx="681.15" cy="896.57" r="3.5"/><circle cx="925.76" cy="875.75" r="3.5"/><circle cx="671.15" cy="894.04" r="3.5"/><circle cx="829.41" cy="889.57" r="3.5"/><circle cx="672.98" cy="890.66" r="3.5"/><circle cx="863.13" cy="878.85" r="3.5"/><circle cx="882.97" cy="892.99" r="3.5"/><circle cx="934.79" cy="897.12" r="3.5"/><circle cx="649.97" cy="886.56" r="3.5"/><circle cx="929.94" cy="885.8" r="3.5"/><circle cx="926.21" cy="888.87" r="3.5"/><circle cx="892.11" cy="870.44" r="3.5"/><circle cx="836.67" cy="893.88" r="3.5"/><circle cx="799.58" cy="879.78" r="3.5"/><circle cx="900.94" cy="882.64" r="3.5"/><circle cx="612.34" cy="894.48" r="3.5"/><circle cx="805.6" cy="875.19" r="3.5"/><circle cx="680.34" cy="889.52" r="3.5"/><circle cx="893.3" cy="871.77" r="3.5"/><circle cx="793.52" cy="890.3" r="3.5"/><circle cx="810.44" cy="879.51" r="3.5"/><circle cx="903.9" cy="869.17" r="3.5"/><circle cx="717.83" cy="896.59" r="3.5"/><circle cx="847.98" cy="889.15" r="3.5"/><circle cx="569.33" cy="893" r="3.5"/><circle cx="814.39" cy="891.01" r="3.5"/><circle cx="868.54" cy="890.84" r="3.5"/><circle cx="926.07" cy="874.26" r="3.5"/><circle cx="751.43" cy="885.74" r="3.5"/><circle cx="739" cy="878.9" r="3.5"/><circle cx="873" cy="876.14" r="3.5"/><circle cx="847.34" cy="895.51" r="3.5"/><circle cx="925.37" cy="881.57" r="3.5"/><circle cx="776.12" cy="875.26" r="3.5"/><circle cx="584.64" cy="896.84" r="3.5"/><circle cx="764.47" cy="895.15" r="3.5"/><circle cx="913.49" cy="876.74" r="3.5"/><circle cx="918.41" cy="879.6" r="3.5"/><circle cx="707.04" cy="874.44" r="3.5"/><circle cx="874.88" cy="870.51" r="3.5"/><circle cx="891.08" cy="887.49" r="3.5"/><circle cx="855.57" cy="892.58" r="3.5"/><circle cx="742.88" cy="873.45" r="3.5"/><circle cx="906.67" cy="889.66" r="3.5"/><circle cx="883.45" cy="883.02" r="3.5"/><circle cx="809.72" cy="888.67" r="3.5"/><circle cx="624.89" cy="887.82" r="3.5"/><circle cx="924.42" cy="876.41" r="3.5"/><circle cx="924.31" cy="888.92" r="3.5"/><circle cx="891.72" cy="875.57" r="3.5"/><circle cx="752.64" cy="888.32" r="3.5"/><circle cx="779.88" cy="882.37" r="3.5"/><circle cx="769.44" cy="886.36" r="3.5"/><circle cx="734.02" cy="888.25" r="3.5"/><circle cx="714.76" cy="885.06" r="3.5"/><circle cx="821.73" cy="895.28" r="3.5"/><circle cx="912.84" cy="889.23" r="3.5"/><circle cx="860.64" cy="892.3" r="3.5"/><circle cx="880.97" cy="890.99" r="3.5"/><circle cx="637.1" cy="896.15" r="3.5"/><circle cx="906.08" cy="884.71" r="3.5"/><circle cx="708.32" cy="895.16" r="3.5"/><circle cx="897.96" cy="877" r="3.5"/><circle cx="896.52" cy="890.01" r="3.5"/><circle cx="754.8" cy="882.04" r="3.5"/><circle cx="833.7" cy="871.92" r="3.5"/><circle cx="868.94" cy="869.85" r="3.5"/><circle cx="897.17" cy="870.13" r="3.5"/><circle cx="858.26" cy="883.01" r="3.5"/><circle cx="682.7" cy="898.29" r="3.5"/><circle cx="861.63" cy="897.03" r="3.5"/><circle cx="798.89" cy="893.72" r="3.5"/><circle cx="888.55" cy="885.29" r="3.5"/><circle cx="886.92" cy="893.91" r="3.5"/><circle cx="935.96" cy="897.07" r="3.5"/><circle cx="735.28" cy="890.35" r="3.5"/><circle cx="922.11" cy="884.42" r="3.5"/><circle cx="804.37" cy="893" r="3.5"/><circle cx="705.98" cy="873.75" r="3.5"/><circle cx="816.39" cy="893.7" r="3.5"/><circle cx="876.37" cy="896.13" r="3.5"/><circle cx="836.96" cy="882.98" r="3.5"/><circle cx="775.6" cy="886.64" r="3.5"/><circle cx="690.14" cy="897.57" r="3.5"/><circle cx="768.89" cy="881.57" r="3.5"/><circle cx="935.17" cy="897.2" r="3.5"/><circle cx="900.28" cy="896.14" r="3.5"/><circle cx="879.51" cy="886.7" r="3.5"/><circle cx="889.23" cy="876.58" r="3.5"/><circle cx="697.08" cy="876.81" r="3.5"/><circle cx="733.82" cy="894.2" r="3.5"/><circle cx="640.68" cy="891.63" r="3.5"/><circle cx="905.99" cy="873.43" r="3.5"/><circle cx="923.37" cy="893.71" r="3.5"/><circle cx="608" cy="883.85" r="3.5"/><circle cx="825.08" cy="889.21" r="3.5"/><circle cx="735.58" cy="888.51" r="3.5"/><circle cx="934.63" cy="877.52" r="3.5"/><circle cx="745.13" cy="897.01" r="3.5"/><circle cx="868.9" cy="897.27" r="3.5"/><circle cx="604.47" cy="885.73" r="3.5"/><circle cx="797.37" cy="875.53" r="3.5"/><circle cx="815.04" cy="883.47" r="3.5"/><circle cx="645" cy="897.65" r="3.5"/><circle cx="823.86" cy="895.26" r="3.5"/><circle cx="792.91" cy="895.92" r="3.5"/><circle cx="807.21" cy="893.13" r="3.5"/><circle cx="702.11" cy="884.59" r="3.5"/><circle cx="676.39" cy="888.13" r="3.5"/><circle cx="811.59" cy="890.51" r="3.5"/><circle cx="682.1" cy="883.31" r="3.5"/><circle cx="917.41" cy="893.66" r="3.5"/><circle cx="808.02" cy="879.23" r="3.5"/><circle cx="815.15" cy="897.44" r="3.5"/><circle cx="683.74" cy="894.08" r="3.5"/><circle cx="760.71" cy="880.74" r="3.5"/><circle cx="934.53" cy="884.44" r="3.5"/><circle cx="605.53" cy="893.22" r="3.5"/><circle cx="907.27" cy="890.53" r="3.5"/><circle cx="871.37" cy="884.98" r="3.5"/><circle cx="674.67" cy="895.87" r="3.5"/><circle cx="836.25" cy="879.79" r="3.5"/><circle cx="754.64" cy="868.59" r="3.5"/><circle cx="725.17" cy="885.45" r="3.5"/><circle cx="709.58" cy="882.74" r="3.5"/><circle cx="709.89" cy="896.77" r="3.5"/><circle cx="711.18" cy="895.73" r="3.5"/><circle cx="756.48" cy="880.69" r="3.5"/><circle cx="573.92" cy="890.36" r="3.5"/><circle cx="929.66" cy="894.82" r="3.5"/><circle cx="893.14" cy="886.6" r="3.5"/><circle cx="927.05" cy="885" r="3.5"/><circle cx="848.96" cy="895.53" r="3.5"/><circle cx="758.05" cy="871.45" r="3.5"/><circle cx="654.52" cy="892.03" r="3.5"/><circle cx="936" cy="889.47" r="3.5"/><circle cx="927.99" cy="890.33" r="3.5"/><circle cx="855.15" cy="880.93" r="3.5"/><circle cx="562.66" cy="893.44" r="3.5"/><circle cx="700.58" cy="893.67" r="3.5"/><circle cx="900.33" cy="870.87" r="3.5"/><circle cx="902.69" cy="892.03" r="3.5"/><circle cx="717.54" cy="890.09" r="3.5"/><circle cx="791.4" cy="872.14" r="3.5"/><circle cx="571.7" cy="897.45" r="3.5"/><circle cx="720.68" cy="890.47" r="3.5"/><circle cx="642.89" cy="891.17" r="3.5"/><circle cx="585.84" cy="895.42" r="3.5"/><circle cx="768.73" cy="893" r="3.5"/><circle cx="782.14" cy="888.91" r="3.5"/><circle cx="803.45" cy="889.42" r="3.5"/><circle cx="781.44" cy="879.31" r="3.5"/><circle cx="677.53" cy="890.78" r="3.5"/><circle cx="820.52" cy="897.05" r="3.5"/><circle cx="882.73" cy="874.44" r="3.5"/><circle cx="593.31" cy="898.21" r="3.5"/><circle cx="815.08" cy="871.64" r="3.5"/><circle cx="932.33" cy="876.01" r="3.5"/><circle cx="702.05" cy="893.03" r="3.5"/><circle cx="787.8" cy="878.76" r="3.5"/><circle cx="823.67" cy="873.18" r="3.5"/><circle cx="822.64" cy="891.45" r="3.5"/><circle cx="748.15" cy="880.26" r="3.5"/><circle cx="844.01" cy="894.67" r="3.5"/><circle cx="831.13" cy="881.09" r="3.5"/><circle cx="932.1" cy="877.08" r="3.5"/><circle cx="719.66" cy="893.87" r="3.5"/><circle cx="618.77" cy="885.99" r="3.5"/><circle cx="843.69" cy="874.58" r="3.5"/><circle cx="668.39" cy="890.22" r="3.5"/><circle cx="893.4" cy="889.12" r="3.5"/><circle cx="596.84" cy="894.62" r="3.5"/><circle cx="821.3" cy="880.84" r="3.5"/><circle cx="657.93" cy="895.79" r="3.5"/><circle cx="642.25" cy="893.53" r="3.5"/><circle cx="746.02" cy="886.15" r="3.5"/><circle cx="898.19" cy="888.04" r="3.5"/><circle cx="684" cy="884.82" r="3.5"/><circle cx="931.55" cy="871.84" r="3.5"/><circle cx="606.32" cy="896.22" r="3.5"/><circle cx="848.17" cy="897.38" r="3.5"/><circle cx="753.07" cy="897.51" r="3.5"/><circle cx="892.57" cy="870.58" r="3.5"/><circle cx="870.17" cy="891.38" r="3.5"/><circle cx="931.48" cy="879.01" r="3.5"/><circle cx="600.32" cy="893.5" r="3.5"/><circle cx="715.47" cy="886.68" r="3.5"/><circle cx="859.23" cy="881" r="3.5"/><circle cx="867.63" cy="882" r="3.5"/><circle cx="900.94" cy="884.45" r="3.5"/><circle cx="842.27" cy="890.46" r="3.5"/><circle cx="858.77" cy="877.77" r="3.5"/><circle cx="885.07" cy="892.97" r="3.5"/><circle cx="856.24" cy="881.74" r="3.5"/><circle cx="886.43" cy="893.82" r="3.5"/><circle cx="864.58" cy="895.05" r="3.5"/><circle cx="597.77" cy="882.92" r="3.5"/><circle cx="924.57" cy="891.16" r="3.5"/><circle cx="929.21" cy="891.29" r="3.5"/><circle cx="577.11" cy="887.4" r="3.5"/><circle cx="932.58" cy="885.75" r="3.5"/><circle cx="914.84" cy="897.43" r="3.5"/><circle cx="912.64" cy="890.04" r="3.5"/><circle cx="853.09" cy="872.56" r="3.5"/><circle cx="880.96" cy="891.96" r="3.5"/><circle cx="561.86" cy="886.84" r="3.5"/><circle cx="810.15" cy="890.7" r="3.5"/><circle cx="705.25" cy="877.84" r="3.5"/><circle cx="693.88" cy="897.21" r="3.5"/><circle cx="791.37" cy="885.64" r="3.5"/><circle cx="928.39" cy="888.61" r="3.5"/><circle cx="883.84" cy="886.39" r="3.5"/><circle cx="908.71" cy="898.14" r="3.5"/><circle cx="848.72" cy="881.02" r="3.5"/><circle cx="813.68" cy="894.32" r="3.5"/><circle cx="606.13" cy="896.69" r="3.5"/><circle cx="929.25" cy="880.92" r="3.5"/><circle cx="872.97" cy="897.7" r="3.5"/><circle cx="713.79" cy="890.59" r="3.5"/><circle cx="904.7" cy="880.04" r="3.5"/><circle cx="863.86" cy="870.28" r="3.5"/><circle cx="792.85" cy="895.89" r="3.5"/><circle cx="850.46" cy="873.65" r="3.5"/><circle cx="859.04" cy="893.54" r="3.5"/><circle cx="877.04" cy="869.25" r="3.5"/><circle cx="582.13" cy="897.48" r="3.5"/><circle cx="777.62" cy="898.37" r="3.5"/><circle cx="856" cy="883.67" r="3.5"/><circle cx="815.08" cy="882.19" r="3.5"/><circle cx="871.03" cy="871.96" r="3.5"/><circle cx="767.14" cy="891.89" r="3.5"/><circle cx="691.1" cy="891.45" r="3.5"/><circle cx="810.74" cy="889.88" r="3.5"/><circle cx="818.97" cy="890.96" r="3.5"/><circle cx="906.42" cy="894.64" r="3.5"/><circle cx="567.19" cy="889.94" r="3.5"/><circle cx="643.95" cy="892.41" r="3.5"/><circle cx="833.38" cy="872.55" r="3.5"/><circle cx="929.44" cy="883.26" r="3.5"/><circle cx="856.41" cy="891.8" r="3.5"/><circle cx="767.2" cy="888.44" r="3.5"/><circle cx="728.97" cy="889.58" r="3.5"/><circle cx="794.09" cy="894.42" r="3.5"/><circle cx="916.92" cy="878.43" r="3.5"/><circle cx="904.99" cy="880.93" r="3.5"/><circle cx="689.02" cy="877.89" r="3.5"/><circle cx="791.67" cy="870.55" r="3.5"/><circle cx="930.16" cy="896.39" r="3.5"/><circle cx="762.62" cy="896.55" r="3.5"/><circle cx="598.73" cy="889.52" r="3.5"/><circle cx="861.16" cy="874.52" r="3.5"/><circle cx="882.92" cy="879.97" r="3.5"/><circle cx="685.66" cy="877.69" r="3.5"/><circle cx="741.95" cy="893.18" r="3.5"/><circle cx="671.56" cy="896.91" r="3.5"/><circle cx="831.36" cy="888.74" r="3.5"/><circle cx="627.2" cy="892.15" r="3.5"/><circle cx="895.72" cy="887.48" r="3.5"/><circle cx="929.77" cy="871.77" r="3.5"/><circle cx="925.38" cy="883.98" r="3.5"/><circle cx="901.25" cy="888.22" r="3.5"/><circle cx="850.72" cy="895.87" r="3.5"/><circle cx="784.37" cy="896.46" r="3.5"/><circle cx="699.02" cy="888.39" r="3.5"/><circle cx="764.47" cy="897.6" r="3.5"/><circle cx="918.14" cy="887.69" r="3.5"/><circle cx="876.7" cy="898.09" r="3.5"/><circle cx="692.57" cy="882.67" r="3.5"/><circle cx="744.34" cy="898.04" r="3.5"/><circle cx="741.07" cy="895.4" r="3.5"/><circle cx="673.59" cy="877.5" r="3.5"/><circle cx="770.28" cy="871.26" r="3.5"/><circle cx="628.51" cy="897.38" r="3.5"/><circle cx="784.35" cy="889.31" r="3.5"/><circle cx="789.79" cy="890.07" r="3.5"/><circle cx="873.91" cy="888.41" r="3.5"/><circle cx="899.28" cy="885" r="3.5"/><circle cx="920.55" cy="887.95" r="3.5"/><circle cx="935.27" cy="886.37" r="3.5"/><circle cx="818.1" cy="894.39" r="3.5"/><circle cx="717.3" cy="875.9" r="3.5"/><circle cx="678.07" cy="881.69" r="3.5"/><circle cx="852.35" cy="888.31" r="3.5"/><circle cx="885.33" cy="890.67" r="3.5"/><circle cx="865.21" cy="895.76" r="3.5"/><circle cx="635.5" cy="890.94" r="3.5"/><circle cx="796" cy="889.18" r="3.5"/><circle cx="792.48" cy="881.46" r="3.5"/><circle cx="659.97" cy="895.48" r="3.5"/><circle cx="849.48" cy="891.54" r="3.5"/><circle cx="808.25" cy="897.44" r="3.5"/><circle cx="842.34" cy="880.66" r="3.5"/><circle cx="911.7" cy="868.78" r="3.5"/><circle cx="876" cy="888.94" r="3.5"/><circle cx="853.91" cy="878.73" r="3.5"/><circle cx="894.26" cy="878.3" r="3.5"/><circle cx="699.39" cy="895.13" r="3.5"/><circle cx="927.64" cy="887.81" r="3.5"/><circle cx="890.53" cy="887.4" r="3.5"/><circle cx="902.58" cy="879.19" r="3.5"/><circle cx="625.88" cy="895.86" r="3.5"/><circle cx="830.69" cy="874.53" r="3.5"/><circle cx="750.81" cy="871.38" r="3.5"/><circle cx="911.73" cy="895.41" r="3.5"/><circle cx="600.63" cy="889.39" r="3.5"/><circle cx="580.83" cy="888.16" r="3.5"/><circle cx="726.97" cy="895.48" r="3.5"/><circle cx="900.28" cy="896.33" r="3.5"/><circle cx="763.68" cy="878.46" r="3.5"/><circle cx="934.64" cy="888.99" r="3.5"/><circle cx="884.13" cy="896.41" r="3.5"/><circle cx="642.62" cy="894.12" r="3.5"/><circle cx="916.18" cy="870.32" r="3.5"/><circle cx="865.12" cy="868.72" r="3.5"/><circle cx="761.13" cy="889.14" r="3.5"/><circle cx="912.83" cy="883.13" r="3.5"/><circle cx="839.72" cy="870.31" r="3.5"/><circle cx="770.76" cy="881.12" r="3.5"/><circle cx="719.73" cy="872.91" r="3.5"/><circle cx="840.21" cy="890.59" r="3.5"/><circle cx="759.04" cy="895.2" r="3.5"/><circle cx="883.49" cy="869.92" r="3.5"/><circle cx="773.32" cy="897.33" r="3.5"/><circle cx="851.5" cy="871.69" r="3.5"/><circle cx="849.15" cy="873.92" r="3.5"/><circle cx="803.22" cy="895.43" r="3.5"/><circle cx="923.67" cy="887.23" r="3.5"/><circle cx="780.81" cy="871.61" r="3.5"/><circle cx="933.7" cy="889.79" r="3.5"/><circle cx="875.26" cy="896.71" r="3.5"/><circle cx="689.03" cy="889.13" r="3.5"/><circle cx="786.37" cy="897.97" r="3.5"/><circle cx="927.36" cy="886.43" r="3.5"/><circle cx="897.81" cy="896.16" r="3.5"/><circle cx="606.53" cy="891.7" r="3.5"/><circle cx="924.51" cy="879.04" r="3.5"/><circle cx="759.41" cy="874.2" r="3.5"/><circle cx="749.25" cy="884.42" r="3.5"/><circle cx="662.65" cy="884" r="3.5"/><circle cx="601.27" cy="893.17" r="3.5"/><circle cx="819.05" cy="874.85" r="3.5"/><circle cx="826.23" cy="881.46" r="3.5"/><circle cx="569.56" cy="892.41" r="3.5"/><circle cx="891.42" cy="896.78" r="3.5"/><circle cx="841.06" cy="884.69" r="3.5"/><circle cx="920.82" cy="897.81" r="3.5"/><circle cx="676" cy="891.13" r="3.5"/><circle cx="722.45" cy="896.92" r="3.5"/><circle cx="935.14" cy="873.98" r="3.5"/><circle cx="768.12" cy="882.56" r="3.5"/><circle cx="572.21" cy="892.52" r="3.5"/><circle cx="727.44" cy="885.98" r="3.5"/><circle cx="590.38" cy="880.6" r="3.5"/><circle cx="669.78" cy="894.44" r="3.5"/><circle cx="715.37" cy="888.96" r="3.5"/><circle cx="827.95" cy="892.25" r="3.5"/><circle cx="888.81" cy="885.59" r="3.5"/><circle cx="864.89" cy="884.95" r="3.5"/><circle cx="659.75" cy="894.66" r="3.5"/><circle cx="622.6" cy="891.45" r="3.5"/><circle cx="921.75" cy="889.02" r="3.5"/><circle cx="895.11" cy="895.65" r="3.5"/><circle cx="935.32" cy="869.57" r="3.5"/><circle cx="630.51" cy="891.74" r="3.5"/><circle cx="862.3" cy="880.22" r="3.5"/><circle cx="875.48" cy="883" r="3.5"/><circle cx="929.5" cy="890.88" r="3.5"/><circle cx="743.32" cy="872.74" r="3.5"/><circle cx="882.44" cy="896.25" r="3.5"/><circle cx="677.66" cy="895.25" r="3.5"/><circle cx="736.11" cy="891.2" r="3.5"/><circle cx="928.92" cy="886.02" r="3.5"/><circle cx="702.66" cy="894.55" r="3.5"/><circle cx="671.65" cy="898.24" r="3.5"/><circle cx="647.83" cy="888.92" r="3.5"/><circle cx="777.77" cy="895.23" r="3.5"/><circle cx="843.99" cy="896.57" r="3.5"/><circle cx="842.12" cy="894.88" r="3.5"/><circle cx="761.59" cy="894.94" r="3.5"/><circle cx="781.66" cy="895.02" r="3.5"/><circle cx="596.32" cy="889.55" r="3.5"/><circle cx="899.32" cy="882.4" r="3.5"/><circle cx="917.28" cy="895.01" r="3.5"/><circle cx="932.64" cy="887.14" r="3.5"/><circle cx="702.39" cy="877.83" r="3.5"/><circle cx="748.47" cy="876.25" r="3.5"/><circle cx="804.59" cy="888.07" r="3.5"/><circle cx="867.05" cy="882.89" r="3.5"/><circle cx="807.82" cy="890.69" r="3.5"/><circle cx="685.78" cy="877.59" r="3.5"/><circle cx="888.12" cy="888.87" r="3.5"/><circle cx="889.09" cy="873.79" r="3.5"/><circle cx="766.98" cy="879.97" r="3.5"/><circle cx="687.33" cy="888.12" r="3.5"/><circle cx="756.11" cy="889.25" r="3.5"/><circle cx="932.13" cy="895.47" r="3.5"/><circle cx="814.15" cy="893.88" r="3.5"/><circle cx="752.63" cy="885.15" r="3.5"/><circle cx="901.88" cy="880.21" r="3.5"/><circle cx="651.21" cy="891.14" r="3.5"/><circle cx="711.42" cy="895.12" r="3.5"/><circle cx="766.37" cy="872.81" r="3.5"/><circle cx="887.33" cy="897.79" r="3.5"/><circle cx="889.88" cy="890.86" r="3.5"/><circle cx="617.41" cy="892.04" r="3.5"/><circle cx="882.61" cy="883.21" r="3.5"/><circle cx="910.05" cy="890.64" r="3.5"/><circle cx="761.82" cy="878.71" r="3.5"/><circle cx="749.49" cy="896.78" r="3.5"/><circle cx="863.85" cy="888.36" r="3.5"/><circle cx="840.76" cy="876.64" r="3.5"/><circle cx="826.68" cy="887.99" r="3.5"/><circle cx="695.55" cy="870.34" r="3.5"/><circle cx="926.5" cy="888.82" r="3.5"/><circle cx="678.23" cy="892.84" r="3.5"/><circle cx="719.9" cy="878.52" r="3.5"/><circle cx="562.48" cy="879.87" r="3.5"/><circle cx="725.09" cy="887.02" r="3.5"/><circle cx="925.59" cy="892.89" r="3.5"/><circle cx="865.94" cy="892.51" r="3.5"/><circle cx="850.02" cy="896.05" r="3.5"/><circle cx="812.47" cy="893.78" r="3.5"/><circle cx="870.51" cy="896.52" r="3.5"/><circle cx="687.24" cy="882.06" r="3.5"/><circle cx="934.07" cy="880.78" r="3.5"/><circle cx="797" cy="890.12" r="3.5"/><circle cx="924.01" cy="869.77" r="3.5"/><circle cx="572.38" cy="886.1" r="3.5"/><circle cx="562.76" cy="885.15" r="3.5"/><circle cx="775.2" cy="881.09" r="3.5"/><circle cx="739.63" cy="896.37" r="3.5"/><circle cx="687.44" cy="891.4" r="3.5"/><circle cx="934.68" cy="893.81" r="3.5"/><circle cx="804.65" cy="888.39" r="3.5"/><circle cx="840.22" cy="872.09" r="3.5"/><circle cx="912.09" cy="884.11" r="3.5"/><circle cx="871.18" cy="878.88" r="3.5"/><circle cx="822.03" cy="872.23" r="3.5"/><circle cx="894.69" cy="888.57" r="3.5"/><circle cx="779.38" cy="894.77" r="3.5"/><circle cx="891.95" cy="886.04" r="3.5"/><circle cx="861.84" cy="871.22" r="3.5"/><circle cx="857.71" cy="874.84" r="3.5"/><circle cx="869.9" cy="897.47" r="3.5"/><circle cx="882.14" cy="876.28" r="3.5"/><circle cx="736.43" cy="883.51" r="3.5"/><circle cx="927.59" cy="894.5" r="3.5"/><circle cx="692.18" cy="893.47" r="3.5"/><circle cx="701.59" cy="877.08" r="3.5"/><circle cx="903.29" cy="878.17" r="3.5"/><circle cx="764.03" cy="889.84" r="3.5"/><circle cx="591.85" cy="896.41" r="3.5"/><circle cx="926.52" cy="888.03" r="3.5"/><circle cx="595.94" cy="896.89" r="3.5"/><circle cx="817.23" cy="875.66" r="3.5"/><circle cx="696.42" cy="891.75" r="3.5"/><circle cx="596.24" cy="895.04" r="3.5"/><circle cx="703.65" cy="893.62" r="3.5"/><circle cx="809.45" cy="874.75" r="3.5"/><circle cx="838.94" cy="892.52" r="3.5"/><circle cx="697.38" cy="889.87" r="3.5"/><circle cx="650.94" cy="896.49" r="3.5"/><circle cx="907.41" cy="896.63" r="3.5"/><circle cx="934.14" cy="874.56" r="3.5"/><circle cx="785.55" cy="892.95" r="3.5"/><circle cx="595.62" cy="892.99" r="3.5"/><circle cx="862.18" cy="879.79" r="3.5"/><circle cx="865.36" cy="896.54" r="3.5"/><circle cx="850.1" cy="884.67" r="3.5"/><circle cx="706.94" cy="870.48" r="3.5"/><circle cx="716.83" cy="883.22" r="3.5"/><circle cx="881.77" cy="876.82" r="3.5"/><circle cx="805.21" cy="870.13" r="3.5"/><circle cx="922.15" cy="891.61" r="3.5"/><circle cx="704.16" cy="887.09" r="3.5"/><circle cx="618.82" cy="890.84" r="3.5"/><circle cx="807.84" cy="894.49" r="3.5"/><circle cx="833.09" cy="897.46" r="3.5"/><circle cx="883.76" cy="895.88" r="3.5"/><circle cx="894.18" cy="896.29" r="3.5"/><circle cx="827.14" cy="881.84" r="3.5"/><circle cx="830.93" cy="889.73" r="3.5"/><circle cx="827.39" cy="892.54" r="3.5"/><circle cx="731.59" cy="891.62" r="3.5"/><circle cx="705.87" cy="894.11" r="3.5"/><circle cx="741.61" cy="874.09" r="3.5"/><circle cx="892.03" cy="884.44" r="3.5"/><circle cx="620.67" cy="891.35" r="3.5"/><circle cx="707.77" cy="884.73" r="3.5"/><circle cx="927.69" cy="878.09" r="3.5"/><circle cx="876.55" cy="877.69" r="3.5"/><circle cx="684.37" cy="881.73" r="3.5"/><circle cx="646.6" cy="884.88" r="3.5"/><circle cx="746.43" cy="891.7" r="3.5"/><circle cx="697.59" cy="889.29" r="3.5"/><circle cx="933.74" cy="874.66" r="3.5"/><circle cx="785.31" cy="897.94" r="3.5"/><circle cx="823.92" cy="890.26" r="3.5"/><circle cx="786.98" cy="890.65" r="3.5"/><circle cx="707.62" cy="870" r="3.5"/><circle cx="691.53" cy="895.45" r="3.5"/><circle cx="883.96" cy="883.84" r="3.5"/><circle cx="662.99" cy="890.45" r="3.5"/><circle cx="890.74" cy="881.07" r="3.5"/><circle cx="872.49" cy="896.84" r="3.5"/><circle cx="820.9" cy="896.08" r="3.5"/><circle cx="850.76" cy="891.38" r="3.5"/><circle cx="692.63" cy="885.48" r="3.5"/><circle cx="753.33" cy="879.27" r="3.5"/><circle cx="710.43" cy="882.25" r="3.5"/><circle cx="820.68" cy="875.54" r="3.5"/><circle cx="577.04" cy="892.95" r="3.5"/><circle cx="763.94" cy="875.52" r="3.5"/><circle cx="770.07" cy="885.5" r="3.5"/><circle cx="616.2" cy="896.58" r="3.5"/><circle cx="714.83" cy="896.28" r="3.5"/><circle cx="773.45" cy="894.59" r="3.5"/><circle cx="808.13" cy="887.4" r="3.5"/><circle cx="796.17" cy="877.2" r="3.5"/><circle cx="565.51" cy="892.43" r="3.5"/><circle cx="934.47" cy="886.73" r="3.5"/><circle cx="920.59" cy="892" r="3.5"/><circle cx="875.36" cy="889.83" r="3.5"/><circle cx="595.61" cy="895.78" r="3.5"/><circle cx="851.78" cy="871.93" r="3.5"/><circle cx="744.64" cy="880.16" r="3.5"/><circle cx="863.07" cy="884.88" r="3.5"/><circle cx="793.85" cy="889.34" r="3.5"/><circle cx="840.16" cy="872.16" r="3.5"/><circle cx="860.52" cy="882.33" r="3.5"/><circle cx="780.24" cy="896" r="3.5"/><circle cx="764.76" cy="890.72" r="3.5"/><circle cx="785.37" cy="875.42" r="3.5"/><circle cx="685.99" cy="877.17" r="3.5"/><circle cx="609.12" cy="889.52" r="3.5"/><circle cx="888.53" cy="896.7" r="3.5"/><circle cx="902.45" cy="889.22" r="3.5"/><circle cx="629.25" cy="892.46" r="3.5"/><circle cx="803.32" cy="882.49" r="3.5"/><circle cx="758.04" cy="890.89" r="3.5"/><circle cx="811.44" cy="868.95" r="3.5"/><circle cx="653.11" cy="893.15" r="3.5"/><circle cx="885.09" cy="882.64" r="3.5"/><circle cx="908.64" cy="885.1" r="3.5"/><circle cx="782.52" cy="874.35" r="3.5"/><circle cx="913.04" cy="887.38" r="3.5"/><circle cx="809.17" cy="895.6" r="3.5"/><circle cx="754.37" cy="889.44" r="3.5"/><circle cx="774.69" cy="893" r="3.5"/><circle cx="818.05" cy="887.23" r="3.5"/><circle cx="912.36" cy="872.37" r="3.5"/><circle cx="890.75" cy="894.89" r="3.5"/><circle cx="654.73" cy="894.46" r="3.5"/><circle cx="887.41" cy="877.65" r="3.5"/><circle cx="657.72" cy="895.25" r="3.5"/><circle cx="772.04" cy="872.19" r="3.5"/><circle cx="835.19" cy="885.22" r="3.5"/><circle cx="809.02" cy="893.47" r="3.5"/><circle cx="896.64" cy="879.91" r="3.5"/><circle cx="675.27" cy="894.19" r="3.5"/><circle cx="733.58" cy="890.02" r="3.5"/><circle cx="907.74" cy="877.32" r="3.5"/><circle cx="646.5" cy="723.4" r="3.5"/><circle cx="677.8" cy="813" r="3.5"/><circle cx="670.7" cy="850" r="3.5"/><circle cx="561.2" cy="860" r="3.5"/></g>
<g fill="#b3111c"><circle cx="900.57" cy="657.13" r="3.5"/><circle cx="899.72" cy="680.17" r="3.5"/><circle cx="886.34" cy="698.66" r="3.5"/><circle cx="894.88" cy="693.54" r="3.5"/><circle cx="925.32" cy="684.44" r="3.5"/><circle cx="922.48" cy="696.96" r="3.5"/><circle cx="898.29" cy="725.69" r="3.5"/><circle cx="837.98" cy="740.77" r="3.5"/><circle cx="871.83" cy="735.65" r="3.5"/><circle cx="870.41" cy="743.33" r="3.5"/><circle cx="882.65" cy="745.6" r="3.5"/><circle cx="890.61" cy="741.91" r="3.5"/><circle cx="894.88" cy="743.33" r="3.5"/><circle cx="907.68" cy="746.74" r="3.5"/><circle cx="915.93" cy="739.91" r="3.5"/><circle cx="923.33" cy="740.77" r="3.5"/><circle cx="865.58" cy="752.72" r="3.5"/><circle cx="890.61" cy="754.71" r="3.5"/><circle cx="898.86" cy="757.84" r="3.5"/><circle cx="767.43" cy="763.24" r="3.5"/><circle cx="879.8" cy="768.36" r="3.5"/><circle cx="909.67" cy="769.22" r="3.5"/><circle cx="919.63" cy="766.37" r="3.5"/><circle cx="912.52" cy="774.62" r="3.5"/><circle cx="917.35" cy="778.32" r="3.5"/><circle cx="927.31" cy="774.62" r="3.5"/><circle cx="875.53" cy="774.62" r="3.5"/><circle cx="785.06" cy="777.75" r="3.5"/><circle cx="891.18" cy="777.47" r="3.5"/><circle cx="891.75" cy="781.74" r="3.5"/><circle cx="891.75" cy="788.85" r="3.5"/><circle cx="816.64" cy="788.85" r="3.5"/><circle cx="846.23" cy="797.38" r="3.5"/><circle cx="865.58" cy="803.93" r="3.5"/><circle cx="872.69" cy="801.65" r="3.5"/><circle cx="885.49" cy="803.07" r="3.5"/><circle cx="808.68" cy="801.65" r="3.5"/><circle cx="814.37" cy="806.49" r="3.5"/><circle cx="881.79" cy="809.62" r="3.5"/><circle cx="894.59" cy="810.75" r="3.5"/><circle cx="903.98" cy="809.62" r="3.5"/><circle cx="928.17" cy="813.88" r="3.5"/><circle cx="746.37" cy="822.42" r="3.5"/><circle cx="795.87" cy="816.73" r="3.5"/><circle cx="802.13" cy="815.87" r="3.5"/><circle cx="805.83" cy="815.87" r="3.5"/><circle cx="854.2" cy="823.84" r="3.5"/><circle cx="848.51" cy="825.26" r="3.5"/><circle cx="858.46" cy="822.99" r="3.5"/><circle cx="872.69" cy="820.14" r="3.5"/><circle cx="881.22" cy="821.56" r="3.5"/><circle cx="904.55" cy="822.42" r="3.5"/><circle cx="919.63" cy="824.41" r="3.5"/><circle cx="786.77" cy="832.38" r="3.5"/><circle cx="798.72" cy="836.36" r="3.5"/><circle cx="785.92" cy="837.78" r="3.5"/><circle cx="764.01" cy="839.49" r="3.5"/><circle cx="811.52" cy="842.05" r="3.5"/><circle cx="825.18" cy="836.36" r="3.5"/><circle cx="831.44" cy="838.07" r="3.5"/><circle cx="838.55" cy="835.79" r="3.5"/><circle cx="845.66" cy="835.79" r="3.5"/><circle cx="851.35" cy="832.38" r="3.5"/><circle cx="858.46" cy="837.21" r="3.5"/><circle cx="867" cy="834.37" r="3.5"/><circle cx="872.69" cy="838.07" r="3.5"/><circle cx="879.8" cy="840.06" r="3.5"/><circle cx="886.91" cy="840.91" r="3.5"/><circle cx="896.87" cy="832.94" r="3.5"/><circle cx="905.41" cy="835.22" r="3.5"/><circle cx="903.98" cy="829.53" r="3.5"/><circle cx="919.63" cy="832.09" r="3.5"/><circle cx="794.45" cy="844.32" r="3.5"/><circle cx="801.56" cy="842.9" r="3.5"/><circle cx="828.59" cy="842.9" r="3.5"/><circle cx="837.13" cy="842.05" r="3.5"/><circle cx="842.82" cy="844.32" r="3.5"/><circle cx="852.77" cy="844.32" r="3.5"/><circle cx="859.89" cy="847.17" r="3.5"/><circle cx="867" cy="844.32" r="3.5"/><circle cx="875.53" cy="845.75" r="3.5"/><circle cx="884.07" cy="847.17" r="3.5"/><circle cx="891.18" cy="844.32" r="3.5"/><circle cx="898.29" cy="847.17" r="3.5"/><circle cx="908.25" cy="844.32" r="3.5"/><circle cx="925.89" cy="847.17" r="3.5"/><circle cx="688.62" cy="842.9" r="3.5"/><circle cx="686.34" cy="844.89" r="3.5"/><circle cx="750.36" cy="844.89" r="3.5"/><circle cx="725.32" cy="851.44" r="3.5"/><circle cx="761.17" cy="851.44" r="3.5"/><circle cx="780.23" cy="855.14" r="3.5"/><circle cx="784.5" cy="852.29" r="3.5"/><circle cx="797.3" cy="850.01" r="3.5"/><circle cx="805.83" cy="851.44" r="3.5"/><circle cx="818.63" cy="850.01" r="3.5"/><circle cx="830.01" cy="847.17" r="3.5"/><circle cx="841.39" cy="848.59" r="3.5"/><circle cx="848.51" cy="849.45" r="3.5"/><circle cx="857.04" cy="850.01" r="3.5"/><circle cx="865.58" cy="852.29" r="3.5"/><circle cx="874.11" cy="849.45" r="3.5"/><circle cx="882.65" cy="850.58" r="3.5"/><circle cx="886.91" cy="852.86" r="3.5"/><circle cx="894.03" cy="850.01" r="3.5"/><circle cx="901.14" cy="852.86" r="3.5"/><circle cx="911.1" cy="852.29" r="3.5"/><circle cx="918.21" cy="850.01" r="3.5"/><circle cx="767.43" cy="859.97" r="3.5"/><circle cx="773.12" cy="859.12" r="3.5"/><circle cx="802.99" cy="860.83" r="3.5"/><circle cx="807.25" cy="855.7" r="3.5"/><circle cx="820.06" cy="859.97" r="3.5"/><circle cx="831.44" cy="858.55" r="3.5"/><circle cx="842.82" cy="858.55" r="3.5"/><circle cx="854.2" cy="859.97" r="3.5"/><circle cx="861.31" cy="858.55" r="3.5"/><circle cx="868.42" cy="857.13" r="3.5"/><circle cx="872.69" cy="859.97" r="3.5"/><circle cx="878.38" cy="857.13" r="3.5"/><circle cx="889.76" cy="858.55" r="3.5"/><circle cx="898.29" cy="859.97" r="3.5"/><circle cx="903.98" cy="857.13" r="3.5"/><circle cx="912.52" cy="859.12" r="3.5"/><circle cx="921.05" cy="860.83" r="3.5"/><circle cx="925.32" cy="862.82" r="3.5"/><circle cx="926.74" cy="864.24" r="3.5"/><circle cx="774.54" cy="865.66" r="3.5"/><circle cx="793.03" cy="864.24" r="3.5"/><circle cx="815.79" cy="864.24" r="3.5"/><circle cx="824.32" cy="864.24" r="3.5"/><circle cx="851.35" cy="862.82" r="3.5"/><circle cx="862.73" cy="862.82" r="3.5"/><circle cx="869.84" cy="864.24" r="3.5"/><circle cx="882.65" cy="864.24" r="3.5"/><circle cx="894.03" cy="864.24" r="3.5"/><circle cx="902.56" cy="864.24" r="3.5"/><circle cx="916.79" cy="862.82" r="3.5"/><circle cx="849.93" cy="828.68" r="3.5"/><circle cx="864.15" cy="827.25" r="3.5"/><circle cx="869.84" cy="830.1" r="3.5"/><circle cx="878.38" cy="832.94" r="3.5"/><circle cx="855.62" cy="841.48" r="3.5"/><circle cx="864.15" cy="840.06" r="3.5"/><circle cx="869.84" cy="847.17" r="3.5"/><circle cx="878.38" cy="844.32" r="3.5"/><circle cx="886.91" cy="832.94" r="3.5"/><circle cx="892.6" cy="838.63" r="3.5"/><circle cx="899.72" cy="841.48" r="3.5"/><circle cx="909.67" cy="838.63" r="3.5"/><circle cx="915.36" cy="844.32" r="3.5"/><circle cx="923.9" cy="855.7" r="3.5"/><circle cx="858.46" cy="855.7" r="3.5"/><circle cx="875.53" cy="854.28" r="3.5"/><circle cx="884.07" cy="858.55" r="3.5"/><circle cx="909.67" cy="861.39" r="3.5"/><circle cx="918.21" cy="857.13" r="3.5"/></g>
<line x1="558.9" y1="639.8" x2="558.9" y2="899.8" stroke="#000" stroke-width="2.8"/>
<line x1="547.9" y1="898.4" x2="558.9" y2="898.4" stroke="#000" stroke-width="2.8"/>
<text x="543.9" y="905.27" font-size="19.9" text-anchor="end" fill="#000">0</text>
<line x1="547.9" y1="846.96" x2="558.9" y2="846.96" stroke="#000" stroke-width="2.8"/>
<text x="543.9" y="853.83" font-size="19.9" text-anchor="end" fill="#000">50</text>
<line x1="547.9" y1="795.52" x2="558.9" y2="795.52" stroke="#000" stroke-width="2.8"/>
<text x="543.9" y="802.39" font-size="19.9" text-anchor="end" fill="#000">100</text>
<line x1="547.9" y1="744.08" x2="558.9" y2="744.08" stroke="#000" stroke-width="2.8"/>
<text x="543.9" y="750.95" font-size="19.9" text-anchor="end" fill="#000">150</text>
<line x1="547.9" y1="692.64" x2="558.9" y2="692.64" stroke="#000" stroke-width="2.8"/>
<text x="543.9" y="699.51" font-size="19.9" text-anchor="end" fill="#000">200</text>
<line x1="547.9" y1="641.2" x2="558.9" y2="641.2" stroke="#000" stroke-width="2.8"/>
<text x="543.9" y="648.07" font-size="19.9" text-anchor="end" fill="#000">250</text>
<line x1="547.9" y1="898.4" x2="943.9" y2="898.4" stroke="#000" stroke-width="2.8"/>
<line x1="558.9" y1="898.4" x2="558.9" y2="908.4" stroke="#000" stroke-width="2.2"/>
<line x1="573.99" y1="898.4" x2="573.99" y2="903.9" stroke="#000" stroke-width="2.2"/>
<line x1="589.07" y1="898.4" x2="589.07" y2="903.9" stroke="#000" stroke-width="2.2"/>
<line x1="604.15" y1="898.4" x2="604.15" y2="903.9" stroke="#000" stroke-width="2.2"/>
<line x1="619.24" y1="898.4" x2="619.24" y2="903.9" stroke="#000" stroke-width="2.2"/>
<line x1="634.32" y1="898.4" x2="634.32" y2="903.9" stroke="#000" stroke-width="2.2"/>
<line x1="649.41" y1="898.4" x2="649.41" y2="903.9" stroke="#000" stroke-width="2.2"/>
<line x1="664.5" y1="898.4" x2="664.5" y2="903.9" stroke="#000" stroke-width="2.2"/>
<line x1="679.58" y1="898.4" x2="679.58" y2="903.9" stroke="#000" stroke-width="2.2"/>
<line x1="694.66" y1="898.4" x2="694.66" y2="903.9" stroke="#000" stroke-width="2.2"/>
<line x1="709.75" y1="898.4" x2="709.75" y2="908.4" stroke="#000" stroke-width="2.2"/>
<line x1="724.84" y1="898.4" x2="724.84" y2="903.9" stroke="#000" stroke-width="2.2"/>
<line x1="739.92" y1="898.4" x2="739.92" y2="903.9" stroke="#000" stroke-width="2.2"/>
<line x1="755" y1="898.4" x2="755" y2="903.9" stroke="#000" stroke-width="2.2"/>
<line x1="770.09" y1="898.4" x2="770.09" y2="903.9" stroke="#000" stroke-width="2.2"/>
<line x1="785.17" y1="898.4" x2="785.17" y2="903.9" stroke="#000" stroke-width="2.2"/>
<line x1="800.26" y1="898.4" x2="800.26" y2="903.9" stroke="#000" stroke-width="2.2"/>
<line x1="815.35" y1="898.4" x2="815.35" y2="903.9" stroke="#000" stroke-width="2.2"/>
<line x1="830.43" y1="898.4" x2="830.43" y2="903.9" stroke="#000" stroke-width="2.2"/>
<line x1="845.51" y1="898.4" x2="845.51" y2="903.9" stroke="#000" stroke-width="2.2"/>
<line x1="860.6" y1="898.4" x2="860.6" y2="908.4" stroke="#000" stroke-width="2.2"/>
<line x1="875.68" y1="898.4" x2="875.68" y2="903.9" stroke="#000" stroke-width="2.2"/>
<line x1="890.77" y1="898.4" x2="890.77" y2="903.9" stroke="#000" stroke-width="2.2"/>
<line x1="905.86" y1="898.4" x2="905.86" y2="903.9" stroke="#000" stroke-width="2.2"/>
<line x1="920.94" y1="898.4" x2="920.94" y2="903.9" stroke="#000" stroke-width="2.2"/>
<line x1="936.02" y1="898.4" x2="936.02" y2="903.9" stroke="#000" stroke-width="2.2"/>
<text x="558.9" y="930.88" font-size="18.5" text-anchor="middle" fill="#000">0</text>
<text x="709.75" y="930.88" font-size="18.5" text-anchor="middle" fill="#000">100</text>
<text x="860.6" y="930.88" font-size="18.5" text-anchor="middle" fill="#000">200</text>
<text x="745.9" y="961.45" font-size="21.6" text-anchor="middle" fill="#000" textLength="184" lengthAdjust="spacingAndGlyphs">DAPI intensity (a.u.)</text>
<text x="761" y="620.9" font-size="20" text-anchor="middle" fill="#000">siNT</text>
<text x="699" y="658.07" font-size="20.5" fill="#000">24,56%</text>
<line x1="679" y1="641.2" x2="679" y2="898.4" stroke="#000" stroke-width="2.8" stroke-dasharray="15.5 7"/>
<line x1="558.9" y1="867.54" x2="943.9" y2="867.54" stroke="#000" stroke-width="2.8" stroke-dasharray="15.5 7"/>
<circle cx="581.2" cy="995.5" r="3.6" fill="#000"/>
<text x="611.4" y="1002.4" font-size="20" fill="#000" textLength="122" lengthAdjust="spacingAndGlyphs">RPA negative</text>
<circle cx="775.4" cy="995.5" r="3.6" fill="#b3111c"/>
<text x="805.4" y="1002.4" font-size="20" fill="#000" textLength="115" lengthAdjust="spacingAndGlyphs">RPA positive</text>
<g fill="#000"><circle cx="1376.71" cy="888.86" r="3.5"/><circle cx="1217.24" cy="892.88" r="3.5"/><circle cx="1023.77" cy="892.25" r="3.5"/><circle cx="1125.76" cy="896.41" r="3.5"/><circle cx="1086.28" cy="888.63" r="3.5"/><circle cx="1330.46" cy="875.04" r="3.5"/><circle cx="1353.91" cy="893.71" r="3.5"/><circle cx="1330.76" cy="891.12" r="3.5"/><circle cx="1326.96" cy="884.26" r="3.5"/><circle cx="1348.63" cy="879.23" r="3.5"/><circle cx="1153.6" cy="890.52" r="3.5"/><circle cx="1268.97" cy="897.04" r="3.5"/><circle cx="1005.3" cy="894.1" r="3.5"/><circle cx="1224.97" cy="895.23" r="3.5"/><circle cx="1173.5" cy="891.74" r="3.5"/><circle cx="1262.04" cy="892.33" r="3.5"/><circle cx="1095.19" cy="896.23" r="3.5"/><circle cx="1367.29" cy="882.13" r="3.5"/><circle cx="1348.79" cy="887.29" r="3.5"/><circle cx="1050.83" cy="876.57" r="3.5"/><circle cx="1098.3" cy="888.8" r="3.5"/><circle cx="1376.73" cy="868.92" r="3.5"/><circle cx="1329.45" cy="877.9" r="3.5"/><circle cx="1156.27" cy="890.21" r="3.5"/><circle cx="1290.28" cy="894.17" r="3.5"/><circle cx="1319.24" cy="882.62" r="3.5"/><circle cx="1219.69" cy="895.98" r="3.5"/><circle cx="1284.36" cy="892.6" r="3.5"/><circle cx="1183.33" cy="886.63" r="3.5"/><circle cx="1356.25" cy="877.72" r="3.5"/><circle cx="1352.46" cy="889.59" r="3.5"/><circle cx="1260.97" cy="888.95" r="3.5"/><circle cx="1345.44" cy="889.37" r="3.5"/><circle cx="1222.53" cy="891.08" r="3.5"/><circle cx="1321.78" cy="889.09" r="3.5"/><circle cx="1320.74" cy="893.39" r="3.5"/><circle cx="1202.67" cy="898.26" r="3.5"/><circle cx="1263.49" cy="897.68" r="3.5"/><circle cx="1278.3" cy="894.82" r="3.5"/><circle cx="1202.62" cy="886.48" r="3.5"/><circle cx="1136.09" cy="895.47" r="3.5"/><circle cx="1344.59" cy="889.45" r="3.5"/><circle cx="1325.66" cy="883.98" r="3.5"/><circle cx="1341.35" cy="889.7" r="3.5"/><circle cx="1349.76" cy="888.86" r="3.5"/><circle cx="1175.98" cy="891.12" r="3.5"/><circle cx="1197.23" cy="896.52" r="3.5"/><circle cx="1339.78" cy="898.17" r="3.5"/><circle cx="1026.82" cy="890.93" r="3.5"/><circle cx="1275.56" cy="894.42" r="3.5"/><circle cx="1143.17" cy="898.34" r="3.5"/><circle cx="1336.98" cy="897.47" r="3.5"/><circle cx="1299.15" cy="882.37" r="3.5"/><circle cx="1305.65" cy="897.15" r="3.5"/><circle cx="1272.87" cy="890.69" r="3.5"/><circle cx="1089.69" cy="887.33" r="3.5"/><circle cx="1135.45" cy="890.84" r="3.5"/><circle cx="1353.66" cy="869.28" r="3.5"/><circle cx="1316.62" cy="880.17" r="3.5"/><circle cx="1088.92" cy="884.13" r="3.5"/><circle cx="1362.76" cy="895.89" r="3.5"/><circle cx="1348.69" cy="894.4" r="3.5"/><circle cx="1104.02" cy="895.74" r="3.5"/><circle cx="1233.45" cy="890.05" r="3.5"/><circle cx="1369.68" cy="887.6" r="3.5"/><circle cx="1360.72" cy="891.9" r="3.5"/><circle cx="1379.36" cy="887.06" r="3.5"/><circle cx="1367.49" cy="886.61" r="3.5"/><circle cx="1361.78" cy="892.12" r="3.5"/><circle cx="1131.88" cy="882.51" r="3.5"/><circle cx="1198.64" cy="893.54" r="3.5"/><circle cx="1165.8" cy="888.55" r="3.5"/><circle cx="1242.7" cy="893.62" r="3.5"/><circle cx="1347.45" cy="896.69" r="3.5"/><circle cx="1351.17" cy="880.25" r="3.5"/><circle cx="1379.27" cy="895.72" r="3.5"/><circle cx="1333" cy="896.7" r="3.5"/><circle cx="1047.73" cy="896.99" r="3.5"/><circle cx="1360.39" cy="895.18" r="3.5"/><circle cx="1230.32" cy="892.67" r="3.5"/><circle cx="1071.57" cy="886.87" r="3.5"/><circle cx="1008.76" cy="897.35" r="3.5"/><circle cx="1147.63" cy="893.93" r="3.5"/><circle cx="1361.15" cy="892.9" r="3.5"/><circle cx="1317.78" cy="869.22" r="3.5"/><circle cx="1172.75" cy="888.07" r="3.5"/><circle cx="1325.46" cy="897.96" r="3.5"/><circle cx="1095.98" cy="880.36" r="3.5"/><circle cx="1246.04" cy="890.89" r="3.5"/><circle cx="1354.63" cy="870.92" r="3.5"/><circle cx="1310.99" cy="895.42" r="3.5"/><circle cx="1358.77" cy="896.78" r="3.5"/><circle cx="1342.44" cy="881.31" r="3.5"/><circle cx="1353.03" cy="894.05" r="3.5"/><circle cx="1307.86" cy="885.71" r="3.5"/><circle cx="1160.62" cy="887.15" r="3.5"/><circle cx="1297.9" cy="893.85" r="3.5"/><circle cx="1098.29" cy="897.71" r="3.5"/><circle cx="1364.9" cy="887.74" r="3.5"/><circle cx="1096.76" cy="890.95" r="3.5"/><circle cx="1373.21" cy="872.94" r="3.5"/><circle cx="1039.96" cy="888.66" r="3.5"/><circle cx="1350.3" cy="894.51" r="3.5"/><circle cx="1313.51" cy="881" r="3.5"/><circle cx="1350.44" cy="883.28" r="3.5"/><circle cx="1343.27" cy="880.7" r="3.5"/><circle cx="1365.08" cy="884.05" r="3.5"/><circle cx="1229.92" cy="892.59" r="3.5"/><circle cx="1374.09" cy="883.24" r="3.5"/><circle cx="1158.41" cy="886.66" r="3.5"/><circle cx="1379.46" cy="893.36" r="3.5"/><circle cx="1281.51" cy="894.78" r="3.5"/><circle cx="1150.16" cy="892.5" r="3.5"/><circle cx="1072.12" cy="896.24" r="3.5"/><circle cx="1363.16" cy="892.33" r="3.5"/><circle cx="1361.85" cy="896.81" r="3.5"/><circle cx="1323.13" cy="889.75" r="3.5"/><circle cx="1262.33" cy="896.5" r="3.5"/><circle cx="1208.17" cy="895.31" r="3.5"/><circle cx="1333.97" cy="888.87" r="3.5"/><circle cx="1280.59" cy="889.02" r="3.5"/><circle cx="1304.16" cy="896.18" r="3.5"/><circle cx="1089.04" cy="884.39" r="3.5"/><circle cx="1351.43" cy="887.38" r="3.5"/><circle cx="1313.58" cy="882.59" r="3.5"/><circle cx="1377.04" cy="894.58" r="3.5"/><circle cx="1351.03" cy="887.46" r="3.5"/><circle cx="1333.87" cy="893.82" r="3.5"/><circle cx="1041.15" cy="889.51" r="3.5"/><circle cx="1135.98" cy="890.78" r="3.5"/><circle cx="1363.53" cy="897.7" r="3.5"/><circle cx="1323.85" cy="880.21" r="3.5"/><circle cx="1299.59" cy="883.11" r="3.5"/><circle cx="1138.25" cy="890.61" r="3.5"/><circle cx="1356.65" cy="870.75" r="3.5"/><circle cx="1356.21" cy="893.77" r="3.5"/><circle cx="1360.82" cy="897.91" r="3.5"/><circle cx="1219.63" cy="884.76" r="3.5"/><circle cx="1045.88" cy="888.92" r="3.5"/><circle cx="1264.57" cy="896.22" r="3.5"/><circle cx="1014.6" cy="896.19" r="3.5"/><circle cx="1277.99" cy="896.07" r="3.5"/><circle cx="1328.4" cy="895.4" r="3.5"/><circle cx="1338.06" cy="886.65" r="3.5"/><circle cx="1372.99" cy="887.42" r="3.5"/><circle cx="1212.62" cy="896.39" r="3.5"/><circle cx="1368.43" cy="884.12" r="3.5"/><circle cx="1352.54" cy="884.16" r="3.5"/><circle cx="1373.96" cy="892.88" r="3.5"/><circle cx="1353.86" cy="897.28" r="3.5"/><circle cx="1347.54" cy="868.87" r="3.5"/><circle cx="1361.81" cy="896.19" r="3.5"/><circle cx="1215.84" cy="893.08" r="3.5"/><circle cx="1264.29" cy="888.4" r="3.5"/><circle cx="1025.4" cy="898.01" r="3.5"/><circle cx="1295.52" cy="898.1" r="3.5"/><circle cx="1316.42" cy="897.45" r="3.5"/><circle cx="1325.37" cy="895.85" r="3.5"/><circle cx="1156.12" cy="892.38" r="3.5"/><circle cx="1305.59" cy="892.07" r="3.5"/><circle cx="1302.54" cy="876.39" r="3.5"/><circle cx="1050.24" cy="893.5" r="3.5"/><circle cx="1308.57" cy="889.99" r="3.5"/><circle cx="1261.04" cy="895.95" r="3.5"/><circle cx="1136.46" cy="895.69" r="3.5"/><circle cx="1146.54" cy="884.63" r="3.5"/><circle cx="1341.25" cy="874.22" r="3.5"/><circle cx="1006.07" cy="889.04" r="3.5"/><circle cx="1302.85" cy="879.76" r="3.5"/><circle cx="1302.35" cy="889.06" r="3.5"/><circle cx="1304.89" cy="888.39" r="3.5"/><circle cx="1367.81" cy="895.63" r="3.5"/><circle cx="1340.52" cy="874.7" r="3.5"/><circle cx="1357.28" cy="869.31" r="3.5"/><circle cx="1326.81" cy="897.41" r="3.5"/><circle cx="1306.63" cy="892.37" r="3.5"/><circle cx="1224.83" cy="891.96" r="3.5"/><circle cx="1138.1" cy="881.85" r="3.5"/><circle cx="1319.88" cy="895.11" r="3.5"/><circle cx="1069.08" cy="891.49" r="3.5"/><circle cx="1138.47" cy="896.33" r="3.5"/><circle cx="1373.02" cy="874.33" r="3.5"/><circle cx="1253.34" cy="885.76" r="3.5"/><circle cx="1322.62" cy="888.24" r="3.5"/><circle cx="1363.5" cy="871.49" r="3.5"/><circle cx="1377.38" cy="893.33" r="3.5"/><circle cx="1252.99" cy="893.09" r="3.5"/><circle cx="1320.59" cy="887.73" r="3.5"/><circle cx="1287.43" cy="897.58" r="3.5"/><circle cx="1345.92" cy="892.8" r="3.5"/><circle cx="1366.17" cy="882.23" r="3.5"/><circle cx="1055.93" cy="882.94" r="3.5"/><circle cx="1376.81" cy="891.05" r="3.5"/><circle cx="1377.71" cy="886.69" r="3.5"/><circle cx="1279.41" cy="887.8" r="3.5"/><circle cx="1281.08" cy="897.31" r="3.5"/><circle cx="1318.04" cy="897.32" r="3.5"/><circle cx="1363.74" cy="891.73" r="3.5"/><circle cx="1317.63" cy="888.15" r="3.5"/><circle cx="1246.39" cy="898.34" r="3.5"/><circle cx="1376.18" cy="889.26" r="3.5"/><circle cx="1178.3" cy="891.01" r="3.5"/><circle cx="1269.77" cy="892.91" r="3.5"/><circle cx="1224.82" cy="886.49" r="3.5"/><circle cx="1349.6" cy="880.02" r="3.5"/><circle cx="1263.22" cy="891.45" r="3.5"/><circle cx="1316.34" cy="894.72" r="3.5"/><circle cx="1309.51" cy="893.63" r="3.5"/><circle cx="1036.48" cy="897.04" r="3.5"/><circle cx="1302.18" cy="897.23" r="3.5"/><circle cx="1332.83" cy="884.78" r="3.5"/><circle cx="1190.36" cy="892.07" r="3.5"/><circle cx="1361.99" cy="893.35" r="3.5"/><circle cx="1163.18" cy="891.42" r="3.5"/><circle cx="1090.9" cy="892.95" r="3.5"/><circle cx="1085.65" cy="891.68" r="3.5"/><circle cx="1308.43" cy="884.7" r="3.5"/><circle cx="1357.49" cy="890.25" r="3.5"/><circle cx="1125.19" cy="897.97" r="3.5"/><circle cx="1348.68" cy="876.08" r="3.5"/><circle cx="1172.11" cy="893.88" r="3.5"/><circle cx="1340.74" cy="894.41" r="3.5"/><circle cx="1354.57" cy="869.54" r="3.5"/><circle cx="1050.45" cy="887.88" r="3.5"/><circle cx="1271.01" cy="890.16" r="3.5"/><circle cx="1359.05" cy="878.11" r="3.5"/><circle cx="1368.19" cy="870.67" r="3.5"/><circle cx="1318.73" cy="894.62" r="3.5"/><circle cx="1301.93" cy="887.63" r="3.5"/><circle cx="1264.25" cy="894.31" r="3.5"/><circle cx="1320.56" cy="885.3" r="3.5"/><circle cx="1342.16" cy="879.04" r="3.5"/><circle cx="1343.49" cy="872.54" r="3.5"/><circle cx="1354.2" cy="886.41" r="3.5"/><circle cx="1244.16" cy="891.57" r="3.5"/><circle cx="1133.86" cy="897.9" r="3.5"/><circle cx="1043.95" cy="895.38" r="3.5"/><circle cx="1203.9" cy="896.59" r="3.5"/><circle cx="1173.85" cy="892.68" r="3.5"/><circle cx="1210.27" cy="898.15" r="3.5"/><circle cx="1054.66" cy="895.13" r="3.5"/><circle cx="1351.87" cy="869.38" r="3.5"/><circle cx="1367.05" cy="893.14" r="3.5"/><circle cx="1332.98" cy="897.09" r="3.5"/><circle cx="1113.79" cy="891.48" r="3.5"/><circle cx="1344.31" cy="892.9" r="3.5"/><circle cx="1313.77" cy="895.77" r="3.5"/><circle cx="1036.45" cy="891.85" r="3.5"/><circle cx="1057.23" cy="897.39" r="3.5"/><circle cx="1173.12" cy="897.11" r="3.5"/><circle cx="1219.24" cy="897.03" r="3.5"/><circle cx="1378.52" cy="878.73" r="3.5"/><circle cx="1321.8" cy="890.48" r="3.5"/><circle cx="1203.36" cy="896.01" r="3.5"/><circle cx="1028.36" cy="882.6" r="3.5"/><circle cx="1301.7" cy="896.96" r="3.5"/><circle cx="1275.37" cy="890.73" r="3.5"/><circle cx="1279.1" cy="882.74" r="3.5"/><circle cx="1048.2" cy="889.35" r="3.5"/><circle cx="1312.94" cy="893.25" r="3.5"/><circle cx="1016.3" cy="885.02" r="3.5"/><circle cx="1037.02" cy="880.2" r="3.5"/><circle cx="1361.98" cy="888.8" r="3.5"/><circle cx="1163.41" cy="890.88" r="3.5"/><circle cx="1033.83" cy="895.7" r="3.5"/><circle cx="1320.49" cy="897.24" r="3.5"/><circle cx="1062.18" cy="896.78" r="3.5"/><circle cx="1282.19" cy="889.34" r="3.5"/><circle cx="1112.43" cy="890.42" r="3.5"/><circle cx="1331.3" cy="882.86" r="3.5"/><circle cx="1227.17" cy="886.63" r="3.5"/><circle cx="1222.87" cy="887.32" r="3.5"/><circle cx="1007.67" cy="891.87" r="3.5"/><circle cx="1299.7" cy="893.29" r="3.5"/><circle cx="1314.49" cy="883.99" r="3.5"/><circle cx="1323.69" cy="870.21" r="3.5"/><circle cx="1345.51" cy="898.33" r="3.5"/><circle cx="1340.17" cy="888.96" r="3.5"/><circle cx="1368.59" cy="893.23" r="3.5"/><circle cx="1352.21" cy="876.48" r="3.5"/><circle cx="1330.35" cy="896.04" r="3.5"/><circle cx="1309.82" cy="884.88" r="3.5"/><circle cx="1202.61" cy="898.39" r="3.5"/><circle cx="1217.24" cy="891.18" r="3.5"/><circle cx="1029.22" cy="886.9" r="3.5"/><circle cx="1040.77" cy="880.97" r="3.5"/><circle cx="1098.38" cy="893.56" r="3.5"/><circle cx="1255.35" cy="884.44" r="3.5"/><circle cx="1306.64" cy="885.4" r="3.5"/><circle cx="1378.28" cy="878.79" r="3.5"/><circle cx="1016.13" cy="894.74" r="3.5"/><circle cx="1342.24" cy="887.98" r="3.5"/><circle cx="1325.32" cy="893.58" r="3.5"/><circle cx="1145.33" cy="893.83" r="3.5"/><circle cx="1303.91" cy="874.29" r="3.5"/><circle cx="1328.95" cy="894.01" r="3.5"/><circle cx="1361.43" cy="888.52" r="3.5"/><circle cx="1163.08" cy="887.31" r="3.5"/><circle cx="1344.6" cy="895.85" r="3.5"/><circle cx="1026.32" cy="891.22" r="3.5"/><circle cx="1344.22" cy="888.87" r="3.5"/><circle cx="1134.76" cy="898.15" r="3.5"/><circle cx="1177.48" cy="884.38" r="3.5"/><circle cx="1357.66" cy="886.85" r="3.5"/><circle cx="1220.08" cy="896.42" r="3.5"/><circle cx="1288.3" cy="894.21" r="3.5"/><circle cx="1153.26" cy="895.82" r="3.5"/><circle cx="1204.27" cy="887.18" r="3.5"/><circle cx="1077.95" cy="897.49" r="3.5"/><circle cx="1341.2" cy="887.88" r="3.5"/><circle cx="1233.14" cy="889.56" r="3.5"/><circle cx="1311.34" cy="886.62" r="3.5"/><circle cx="1229.66" cy="893.22" r="3.5"/><circle cx="1297.45" cy="890.14" r="3.5"/><circle cx="1168.73" cy="892.09" r="3.5"/><circle cx="1165.04" cy="888.1" r="3.5"/><circle cx="1343.84" cy="873.15" r="3.5"/><circle cx="1036.36" cy="888.6" r="3.5"/><circle cx="1313.93" cy="895.8" r="3.5"/><circle cx="1142.33" cy="893.9" r="3.5"/><circle cx="1004.62" cy="883.2" r="3.5"/><circle cx="1225.31" cy="878.62" r="3.5"/><circle cx="1090.16" cy="893.91" r="3.5"/><circle cx="1332.44" cy="891.98" r="3.5"/><circle cx="1369.08" cy="885.72" r="3.5"/><circle cx="1370.06" cy="897.46" r="3.5"/><circle cx="1256.57" cy="888.86" r="3.5"/><circle cx="1125.82" cy="897.33" r="3.5"/><circle cx="1346.93" cy="881.3" r="3.5"/><circle cx="1218.84" cy="897.79" r="3.5"/><circle cx="1313.93" cy="893.15" r="3.5"/><circle cx="1214.53" cy="893.18" r="3.5"/><circle cx="1121.62" cy="892.23" r="3.5"/><circle cx="1362.11" cy="871.13" r="3.5"/><circle cx="1167.93" cy="886.21" r="3.5"/><circle cx="1243.97" cy="896.1" r="3.5"/><circle cx="1303.39" cy="896.74" r="3.5"/><circle cx="1295.04" cy="892.58" r="3.5"/><circle cx="1356.97" cy="897.82" r="3.5"/><circle cx="1344.94" cy="891.29" r="3.5"/><circle cx="1308.26" cy="891.4" r="3.5"/><circle cx="1366.3" cy="885.08" r="3.5"/><circle cx="1341.95" cy="882.63" r="3.5"/><circle cx="1224.37" cy="889.42" r="3.5"/><circle cx="1005.34" cy="893.51" r="3.5"/><circle cx="1341.92" cy="886.5" r="3.5"/><circle cx="1330.62" cy="884.07" r="3.5"/><circle cx="1350.62" cy="879.67" r="3.5"/><circle cx="1290.45" cy="897.59" r="3.5"/><circle cx="1266.26" cy="892.67" r="3.5"/><circle cx="1354.12" cy="874.55" r="3.5"/><circle cx="1312.17" cy="891.88" r="3.5"/><circle cx="1018.17" cy="884.14" r="3.5"/><circle cx="1219.09" cy="898.24" r="3.5"/><circle cx="1367.01" cy="895.78" r="3.5"/><circle cx="1036.13" cy="887.96" r="3.5"/><circle cx="1294.93" cy="897.8" r="3.5"/><circle cx="1197.63" cy="894.13" r="3.5"/><circle cx="1378.72" cy="877.55" r="3.5"/><circle cx="1284.97" cy="884.36" r="3.5"/><circle cx="1358.76" cy="898.3" r="3.5"/><circle cx="1202.07" cy="888.93" r="3.5"/><circle cx="1330.5" cy="883.19" r="3.5"/><circle cx="1179.42" cy="889.45" r="3.5"/><circle cx="1008.62" cy="896.19" r="3.5"/><circle cx="1296.7" cy="895.48" r="3.5"/><circle cx="1286.45" cy="891.23" r="3.5"/><circle cx="1377.41" cy="880.79" r="3.5"/><circle cx="1000.91" cy="890.19" r="3.5"/><circle cx="1377.09" cy="896.59" r="3.5"/><circle cx="1328.08" cy="897.21" r="3.5"/><circle cx="1302.59" cy="873.23" r="3.5"/><circle cx="1369.91" cy="894.95" r="3.5"/><circle cx="1198.18" cy="888.56" r="3.5"/><circle cx="1188.51" cy="897.06" r="3.5"/><circle cx="1124.66" cy="895.7" r="3.5"/><circle cx="1306.95" cy="884.73" r="3.5"/><circle cx="1379.84" cy="897.09" r="3.5"/><circle cx="1336.45" cy="882.09" r="3.5"/><circle cx="1368.83" cy="877.81" r="3.5"/><circle cx="1372.18" cy="891.63" r="3.5"/><circle cx="1156.08" cy="893.23" r="3.5"/><circle cx="1360.5" cy="892.19" r="3.5"/><circle cx="1060.74" cy="884.31" r="3.5"/><circle cx="1175.66" cy="897.74" r="3.5"/><circle cx="1354.72" cy="898.35" r="3.5"/><circle cx="1284.15" cy="888.18" r="3.5"/><circle cx="1322.82" cy="894.96" r="3.5"/><circle cx="1127.16" cy="898.05" r="3.5"/><circle cx="1320.08" cy="896.52" r="3.5"/><circle cx="1250.8" cy="891.71" r="3.5"/><circle cx="1162.59" cy="887.63" r="3.5"/><circle cx="1299.11" cy="891.77" r="3.5"/><circle cx="1375.63" cy="879.94" r="3.5"/><circle cx="1183.67" cy="893.69" r="3.5"/><circle cx="1161.81" cy="893.47" r="3.5"/><circle cx="1146.8" cy="895.42" r="3.5"/><circle cx="1261.47" cy="893.39" r="3.5"/><circle cx="1003.94" cy="874.62" r="3.5"/><circle cx="1214.46" cy="895.31" r="3.5"/><circle cx="1354.28" cy="872.16" r="3.5"/><circle cx="1224.62" cy="890.67" r="3.5"/><circle cx="1258.28" cy="889.88" r="3.5"/><circle cx="1135.22" cy="893.83" r="3.5"/><circle cx="1275.16" cy="890.91" r="3.5"/><circle cx="1024.6" cy="894.13" r="3.5"/><circle cx="1312.37" cy="896.24" r="3.5"/><circle cx="1183.67" cy="874.99" r="3.5"/><circle cx="1367.83" cy="895.99" r="3.5"/><circle cx="1260.78" cy="893.52" r="3.5"/><circle cx="1342.9" cy="897.33" r="3.5"/><circle cx="1368.31" cy="893.12" r="3.5"/><circle cx="1278.4" cy="884.43" r="3.5"/><circle cx="1329.17" cy="898.05" r="3.5"/><circle cx="1342.3" cy="884.35" r="3.5"/><circle cx="1159.41" cy="883.89" r="3.5"/><circle cx="1196.87" cy="891.15" r="3.5"/><circle cx="1174.91" cy="886.52" r="3.5"/><circle cx="1062.95" cy="891.73" r="3.5"/><circle cx="1187.41" cy="889.8" r="3.5"/><circle cx="1243.92" cy="891.25" r="3.5"/><circle cx="1063.08" cy="886" r="3.5"/><circle cx="1095.66" cy="893.81" r="3.5"/><circle cx="1322.03" cy="874.12" r="3.5"/><circle cx="1071.36" cy="895.42" r="3.5"/><circle cx="1313.15" cy="898.06" r="3.5"/><circle cx="1135" cy="891.33" r="3.5"/><circle cx="1083.08" cy="893.12" r="3.5"/><circle cx="1377.87" cy="893.78" r="3.5"/><circle cx="1306.38" cy="896.7" r="3.5"/><circle cx="1078.8" cy="670.1" r="3.5"/><circle cx="1105.3" cy="665.8" r="3.5"/><circle cx="1041" cy="687" r="3.5"/><circle cx="1080.6" cy="735.5" r="3.5"/><circle cx="1028.8" cy="767.5" r="3.5"/><circle cx="1033.8" cy="797.4" r="3.5"/><circle cx="1089.3" cy="792.8" r="3.5"/><circle cx="1111.1" cy="799.5" r="3.5"/><circle cx="1000.6" cy="826.5" r="3.5"/><circle cx="1018.7" cy="830" r="3.5"/><circle cx="1010.8" cy="856.2" r="3.5"/><circle cx="1022.4" cy="846.9" r="3.5"/><circle cx="1063.1" cy="840.2" r="3.5"/><circle cx="1093.7" cy="853.3" r="3.5"/><circle cx="1033.2" cy="860.5" r="3.5"/></g>
<g fill="#b3111c"><circle cx="1245.82" cy="789.09" r="3.5"/><circle cx="1144.79" cy="825.73" r="3.5"/><circle cx="1199.53" cy="836.14" r="3.5"/><circle cx="1154.62" cy="820.61" r="3.5"/><circle cx="1150.19" cy="812.3" r="3.5"/><circle cx="1141.32" cy="866.5" r="3.5"/><circle cx="1248.78" cy="846.32" r="3.5"/><circle cx="1186.16" cy="830.12" r="3.5"/><circle cx="1196" cy="866.19" r="3.5"/><circle cx="1243.69" cy="776.71" r="3.5"/><circle cx="1171.4" cy="850.43" r="3.5"/><circle cx="1167.82" cy="814.73" r="3.5"/><circle cx="1202.78" cy="825.49" r="3.5"/><circle cx="1214.58" cy="852.5" r="3.5"/><circle cx="1201.76" cy="828.19" r="3.5"/><circle cx="1216.66" cy="816.96" r="3.5"/><circle cx="1266.48" cy="861.09" r="3.5"/><circle cx="1200.44" cy="821.96" r="3.5"/><circle cx="1151.43" cy="843.44" r="3.5"/><circle cx="1163.3" cy="827.02" r="3.5"/><circle cx="1227.38" cy="852.07" r="3.5"/><circle cx="1193.7" cy="856.31" r="3.5"/><circle cx="1186.28" cy="775.14" r="3.5"/><circle cx="1253.31" cy="844.19" r="3.5"/><circle cx="1176.63" cy="857.99" r="3.5"/><circle cx="1252.59" cy="783.36" r="3.5"/><circle cx="1135.3" cy="836.47" r="3.5"/><circle cx="1184.94" cy="854.01" r="3.5"/><circle cx="1222.08" cy="795.54" r="3.5"/><circle cx="1180.47" cy="776.29" r="3.5"/><circle cx="1214.24" cy="853.8" r="3.5"/><circle cx="1224.8" cy="860.99" r="3.5"/><circle cx="1292.16" cy="808.34" r="3.5"/><circle cx="1279.41" cy="860.06" r="3.5"/><circle cx="1290.28" cy="769.71" r="3.5"/><circle cx="1280.47" cy="821.88" r="3.5"/><circle cx="1303.17" cy="853.24" r="3.5"/><circle cx="1290" cy="768.24" r="3.5"/><circle cx="1313.25" cy="810.99" r="3.5"/><circle cx="1304.07" cy="866.34" r="3.5"/><circle cx="1282.3" cy="835.65" r="3.5"/><circle cx="1272.3" cy="824.56" r="3.5"/><circle cx="1303.35" cy="796.86" r="3.5"/><circle cx="1303.07" cy="817.02" r="3.5"/><circle cx="1315.88" cy="847.82" r="3.5"/><circle cx="1285.73" cy="848.22" r="3.5"/><circle cx="1285.63" cy="767.94" r="3.5"/><circle cx="1294.61" cy="761.55" r="3.5"/><circle cx="1296.23" cy="832.03" r="3.5"/><circle cx="1303.51" cy="865.02" r="3.5"/><circle cx="1295.87" cy="836.09" r="3.5"/><circle cx="1296.09" cy="829.72" r="3.5"/><circle cx="1306.16" cy="798.93" r="3.5"/><circle cx="1269.18" cy="815.54" r="3.5"/><circle cx="1292.3" cy="833.8" r="3.5"/><circle cx="1279.48" cy="776.69" r="3.5"/><circle cx="1279.1" cy="846.09" r="3.5"/><circle cx="1287.38" cy="761.38" r="3.5"/><circle cx="1295.88" cy="855.99" r="3.5"/><circle cx="1280.99" cy="841" r="3.5"/><circle cx="1314.99" cy="866.42" r="3.5"/><circle cx="1282.64" cy="788.95" r="3.5"/><circle cx="1273.9" cy="807.5" r="3.5"/><circle cx="1315.95" cy="823.39" r="3.5"/><circle cx="1307.97" cy="810.66" r="3.5"/><circle cx="1318.34" cy="752.91" r="3.5"/><circle cx="1302.16" cy="788.79" r="3.5"/><circle cx="1308.44" cy="773.99" r="3.5"/><circle cx="1291.82" cy="799.1" r="3.5"/><circle cx="1292.26" cy="769.63" r="3.5"/><circle cx="1314.82" cy="838.26" r="3.5"/><circle cx="1299.41" cy="750.24" r="3.5"/><circle cx="1310.09" cy="849.65" r="3.5"/><circle cx="1295.92" cy="862.09" r="3.5"/><circle cx="1284.13" cy="777.36" r="3.5"/><circle cx="1279.07" cy="803.54" r="3.5"/><circle cx="1311.49" cy="755.19" r="3.5"/><circle cx="1292.91" cy="863.66" r="3.5"/><circle cx="1292.63" cy="798.77" r="3.5"/><circle cx="1311.58" cy="769.82" r="3.5"/><circle cx="1272.77" cy="826.52" r="3.5"/><circle cx="1309.85" cy="844.65" r="3.5"/><circle cx="1314.38" cy="750.9" r="3.5"/><circle cx="1287.48" cy="804.48" r="3.5"/><circle cx="1271.72" cy="796.19" r="3.5"/><circle cx="1322.27" cy="781.29" r="3.5"/><circle cx="1287.29" cy="759.42" r="3.5"/><circle cx="1269.28" cy="810.45" r="3.5"/><circle cx="1272.5" cy="829.3" r="3.5"/><circle cx="1284.19" cy="858.61" r="3.5"/><circle cx="1318.07" cy="776.23" r="3.5"/><circle cx="1298.96" cy="855.24" r="3.5"/><circle cx="1297.57" cy="849.44" r="3.5"/><circle cx="1299.73" cy="795.83" r="3.5"/><circle cx="1321.84" cy="847.36" r="3.5"/><circle cx="1284" cy="853.18" r="3.5"/><circle cx="1321.77" cy="777.52" r="3.5"/><circle cx="1288.71" cy="826.9" r="3.5"/><circle cx="1314.95" cy="807.85" r="3.5"/><circle cx="1301.89" cy="829.48" r="3.5"/><circle cx="1302.22" cy="866.5" r="3.5"/><circle cx="1278.85" cy="772.26" r="3.5"/><circle cx="1375.05" cy="758.89" r="3.5"/><circle cx="1360.71" cy="795.7" r="3.5"/><circle cx="1344.47" cy="782.13" r="3.5"/><circle cx="1367.37" cy="691.19" r="3.5"/><circle cx="1338.74" cy="807.03" r="3.5"/><circle cx="1348.85" cy="748.89" r="3.5"/><circle cx="1372.28" cy="668.74" r="3.5"/><circle cx="1361.29" cy="762.74" r="3.5"/><circle cx="1331.03" cy="861.22" r="3.5"/><circle cx="1326.09" cy="794.11" r="3.5"/><circle cx="1356.25" cy="862.34" r="3.5"/><circle cx="1372.91" cy="732.47" r="3.5"/><circle cx="1362.32" cy="828.77" r="3.5"/><circle cx="1341.4" cy="789.71" r="3.5"/><circle cx="1343.04" cy="790.2" r="3.5"/><circle cx="1360.42" cy="764.14" r="3.5"/><circle cx="1342.57" cy="714.02" r="3.5"/><circle cx="1338.78" cy="791.16" r="3.5"/><circle cx="1345.7" cy="863.01" r="3.5"/><circle cx="1344.08" cy="770.66" r="3.5"/><circle cx="1372.16" cy="796.09" r="3.5"/><circle cx="1333.56" cy="784.75" r="3.5"/><circle cx="1327.57" cy="806.72" r="3.5"/><circle cx="1331.25" cy="777.71" r="3.5"/><circle cx="1366.19" cy="721.3" r="3.5"/><circle cx="1343.53" cy="748.38" r="3.5"/><circle cx="1352.86" cy="834.44" r="3.5"/><circle cx="1363.35" cy="833.93" r="3.5"/><circle cx="1376.52" cy="698.72" r="3.5"/><circle cx="1325.52" cy="785.29" r="3.5"/><circle cx="1349.49" cy="861.01" r="3.5"/><circle cx="1350.61" cy="774.27" r="3.5"/><circle cx="1326.3" cy="851.48" r="3.5"/><circle cx="1366.57" cy="825.25" r="3.5"/><circle cx="1371.91" cy="796.59" r="3.5"/><circle cx="1360.74" cy="807.38" r="3.5"/><circle cx="1325.88" cy="787.41" r="3.5"/><circle cx="1340.71" cy="789.65" r="3.5"/><circle cx="1363" cy="771.54" r="3.5"/><circle cx="1335.2" cy="849.03" r="3.5"/><circle cx="1369.9" cy="689.53" r="3.5"/><circle cx="1343.19" cy="777.54" r="3.5"/><circle cx="1377.17" cy="842.46" r="3.5"/><circle cx="1352.39" cy="737.35" r="3.5"/><circle cx="1360.41" cy="769.52" r="3.5"/><circle cx="1367.88" cy="803.52" r="3.5"/><circle cx="1337.09" cy="828.63" r="3.5"/><circle cx="1342.07" cy="806.8" r="3.5"/><circle cx="1331.46" cy="756.16" r="3.5"/><circle cx="1359.97" cy="744.31" r="3.5"/><circle cx="1360.67" cy="730.14" r="3.5"/><circle cx="1349.2" cy="831.26" r="3.5"/><circle cx="1336.82" cy="854.74" r="3.5"/><circle cx="1377.4" cy="730.14" r="3.5"/><circle cx="1359.4" cy="764.02" r="3.5"/><circle cx="1348.38" cy="789.12" r="3.5"/><circle cx="1327.14" cy="783.73" r="3.5"/><circle cx="1348.13" cy="856.78" r="3.5"/><circle cx="1376.1" cy="768.18" r="3.5"/><circle cx="1325.79" cy="841.95" r="3.5"/><circle cx="1342.33" cy="798.05" r="3.5"/><circle cx="1324.97" cy="822.6" r="3.5"/><circle cx="1360.81" cy="751.31" r="3.5"/><circle cx="1343.39" cy="759.92" r="3.5"/><circle cx="1332.86" cy="862.84" r="3.5"/><circle cx="1326.06" cy="850.01" r="3.5"/><circle cx="1369.6" cy="813.57" r="3.5"/><circle cx="1374.16" cy="721.93" r="3.5"/><circle cx="1368.44" cy="675.9" r="3.5"/><circle cx="1360.22" cy="749.7" r="3.5"/><circle cx="1369.01" cy="742.55" r="3.5"/><circle cx="1348.15" cy="761.33" r="3.5"/><circle cx="1329.44" cy="767.01" r="3.5"/><circle cx="1328.35" cy="745.33" r="3.5"/><circle cx="1361.47" cy="693.29" r="3.5"/><circle cx="1359.65" cy="802.39" r="3.5"/><circle cx="1352.21" cy="798.64" r="3.5"/><circle cx="1330.01" cy="759.22" r="3.5"/><circle cx="1334.12" cy="842.22" r="3.5"/><circle cx="1342.77" cy="765.43" r="3.5"/><circle cx="1347.19" cy="824.76" r="3.5"/><circle cx="1356.68" cy="819.79" r="3.5"/><circle cx="1334.8" cy="758.37" r="3.5"/><circle cx="1349.54" cy="758.61" r="3.5"/><circle cx="1326.47" cy="742.88" r="3.5"/><circle cx="1334.77" cy="796.15" r="3.5"/><circle cx="1334.38" cy="828.1" r="3.5"/><circle cx="1367.24" cy="774.66" r="3.5"/><circle cx="1378.29" cy="848.84" r="3.5"/><circle cx="1372.43" cy="683.56" r="3.5"/><circle cx="1342.52" cy="727.46" r="3.5"/><circle cx="1339.88" cy="766.61" r="3.5"/><circle cx="1342.85" cy="793.07" r="3.5"/><circle cx="1359.09" cy="715.45" r="3.5"/><circle cx="1342.5" cy="857.91" r="3.5"/><circle cx="1340.14" cy="760.69" r="3.5"/><circle cx="1343.36" cy="803.87" r="3.5"/><circle cx="1360.44" cy="800.87" r="3.5"/><circle cx="1372.88" cy="794.1" r="3.5"/><circle cx="1351.19" cy="722.57" r="3.5"/><circle cx="1327.86" cy="823.8" r="3.5"/><circle cx="1361.38" cy="751.45" r="3.5"/><circle cx="1348.86" cy="802.99" r="3.5"/><circle cx="1374.25" cy="682.95" r="3.5"/><circle cx="1339.12" cy="809.42" r="3.5"/><circle cx="1325.42" cy="856.95" r="3.5"/><circle cx="1343.86" cy="817.2" r="3.5"/><circle cx="1363.03" cy="846.83" r="3.5"/><circle cx="1349.47" cy="730.78" r="3.5"/><circle cx="1331.48" cy="843.33" r="3.5"/><circle cx="1344.16" cy="783.06" r="3.5"/><circle cx="1376.05" cy="832.3" r="3.5"/><circle cx="1349.63" cy="773.93" r="3.5"/><circle cx="1369.56" cy="685.38" r="3.5"/><circle cx="1373.8" cy="840.33" r="3.5"/><circle cx="1343.08" cy="862.04" r="3.5"/><circle cx="1326.75" cy="822.67" r="3.5"/><circle cx="1348.62" cy="773.19" r="3.5"/><circle cx="1376.13" cy="848.52" r="3.5"/><circle cx="1377.39" cy="723.42" r="3.5"/><circle cx="1332.24" cy="778.3" r="3.5"/><circle cx="1331.52" cy="859.91" r="3.5"/><circle cx="1360.67" cy="847.29" r="3.5"/><circle cx="1360.98" cy="797.09" r="3.5"/><circle cx="1361.08" cy="817.42" r="3.5"/><circle cx="1358.18" cy="854.31" r="3.5"/><circle cx="1371.71" cy="710.22" r="3.5"/><circle cx="1344.65" cy="771.01" r="3.5"/><circle cx="1330.02" cy="789.27" r="3.5"/><circle cx="1337.88" cy="727.44" r="3.5"/><circle cx="1331.41" cy="864.18" r="3.5"/><circle cx="1373.3" cy="733.26" r="3.5"/><circle cx="1358.58" cy="855.47" r="3.5"/><circle cx="1348.87" cy="752.12" r="3.5"/><circle cx="1328.79" cy="766.45" r="3.5"/><circle cx="1357.05" cy="850.27" r="3.5"/><circle cx="1353.23" cy="803.74" r="3.5"/><circle cx="1368.25" cy="764.22" r="3.5"/><circle cx="1370.3" cy="720.04" r="3.5"/><circle cx="1352.01" cy="840.05" r="3.5"/><circle cx="1378.74" cy="808.92" r="3.5"/><circle cx="1359.13" cy="718.6" r="3.5"/><circle cx="1335.04" cy="861.97" r="3.5"/><circle cx="1367.75" cy="729.33" r="3.5"/><circle cx="1333.72" cy="831.4" r="3.5"/><circle cx="1358.56" cy="772.65" r="3.5"/><circle cx="1371.12" cy="779.28" r="3.5"/><circle cx="1335.17" cy="763" r="3.5"/><circle cx="1347.48" cy="831" r="3.5"/><circle cx="1332.59" cy="838.71" r="3.5"/><circle cx="1331.68" cy="850.71" r="3.5"/><circle cx="1353.04" cy="852.77" r="3.5"/><circle cx="1334.63" cy="773.85" r="3.5"/><circle cx="1334.71" cy="765.04" r="3.5"/><circle cx="1326.03" cy="834.24" r="3.5"/><circle cx="1332.97" cy="798.97" r="3.5"/><circle cx="1351.31" cy="745.77" r="3.5"/><circle cx="1348.56" cy="730.38" r="3.5"/><circle cx="1328.11" cy="795.28" r="3.5"/><circle cx="1328.14" cy="829.18" r="3.5"/><circle cx="1374.2" cy="827.1" r="3.5"/><circle cx="1328.22" cy="740.12" r="3.5"/><circle cx="1325.62" cy="796.89" r="3.5"/><circle cx="1333.02" cy="789.01" r="3.5"/><circle cx="1369.7" cy="848.95" r="3.5"/><circle cx="1374.87" cy="733.13" r="3.5"/><circle cx="1331.48" cy="846.66" r="3.5"/><circle cx="1346.14" cy="745.58" r="3.5"/><circle cx="1371.92" cy="837.26" r="3.5"/><circle cx="1372.16" cy="749.82" r="3.5"/><circle cx="1177.7" cy="725.3" r="3.5"/><circle cx="1248.9" cy="716.6" r="3.5"/><circle cx="1162.6" cy="785.8" r="3.5"/><circle cx="1242.5" cy="771.9" r="3.5"/><circle cx="1358.8" cy="655" r="3.5"/></g>
<line x1="1000.6" y1="639.8" x2="1000.6" y2="899.8" stroke="#000" stroke-width="2.8"/>
<line x1="989.6" y1="898.4" x2="1000.6" y2="898.4" stroke="#000" stroke-width="2.8"/>
<text x="985.6" y="905.27" font-size="19.9" text-anchor="end" fill="#000">0</text>
<line x1="989.6" y1="846.96" x2="1000.6" y2="846.96" stroke="#000" stroke-width="2.8"/>
<text x="985.6" y="853.83" font-size="19.9" text-anchor="end" fill="#000">50</text>
<line x1="989.6" y1="795.52" x2="1000.6" y2="795.52" stroke="#000" stroke-width="2.8"/>
<text x="985.6" y="802.39" font-size="19.9" text-anchor="end" fill="#000">100</text>
<line x1="989.6" y1="744.08" x2="1000.6" y2="744.08" stroke="#000" stroke-width="2.8"/>
<text x="985.6" y="750.95" font-size="19.9" text-anchor="end" fill="#000">150</text>
<line x1="989.6" y1="692.64" x2="1000.6" y2="692.64" stroke="#000" stroke-width="2.8"/>
<text x="985.6" y="699.51" font-size="19.9" text-anchor="end" fill="#000">200</text>
<line x1="989.6" y1="641.2" x2="1000.6" y2="641.2" stroke="#000" stroke-width="2.8"/>
<text x="985.6" y="648.07" font-size="19.9" text-anchor="end" fill="#000">250</text>
<line x1="989.6" y1="898.4" x2="1385.6" y2="898.4" stroke="#000" stroke-width="2.8"/>
<line x1="1000.6" y1="898.4" x2="1000.6" y2="908.4" stroke="#000" stroke-width="2.2"/>
<line x1="1015.69" y1="898.4" x2="1015.69" y2="903.9" stroke="#000" stroke-width="2.2"/>
<line x1="1030.77" y1="898.4" x2="1030.77" y2="903.9" stroke="#000" stroke-width="2.2"/>
<line x1="1045.86" y1="898.4" x2="1045.86" y2="903.9" stroke="#000" stroke-width="2.2"/>
<line x1="1060.94" y1="898.4" x2="1060.94" y2="903.9" stroke="#000" stroke-width="2.2"/>
<line x1="1076.03" y1="898.4" x2="1076.03" y2="903.9" stroke="#000" stroke-width="2.2"/>
<line x1="1091.11" y1="898.4" x2="1091.11" y2="903.9" stroke="#000" stroke-width="2.2"/>
<line x1="1106.19" y1="898.4" x2="1106.19" y2="903.9" stroke="#000" stroke-width="2.2"/>
<line x1="1121.28" y1="898.4" x2="1121.28" y2="903.9" stroke="#000" stroke-width="2.2"/>
<line x1="1136.37" y1="898.4" x2="1136.37" y2="903.9" stroke="#000" stroke-width="2.2"/>
<line x1="1151.45" y1="898.4" x2="1151.45" y2="908.4" stroke="#000" stroke-width="2.2"/>
<line x1="1166.54" y1="898.4" x2="1166.54" y2="903.9" stroke="#000" stroke-width="2.2"/>
<line x1="1181.62" y1="898.4" x2="1181.62" y2="903.9" stroke="#000" stroke-width="2.2"/>
<line x1="1196.7" y1="898.4" x2="1196.7" y2="903.9" stroke="#000" stroke-width="2.2"/>
<line x1="1211.79" y1="898.4" x2="1211.79" y2="903.9" stroke="#000" stroke-width="2.2"/>
<line x1="1226.88" y1="898.4" x2="1226.88" y2="903.9" stroke="#000" stroke-width="2.2"/>
<line x1="1241.96" y1="898.4" x2="1241.96" y2="903.9" stroke="#000" stroke-width="2.2"/>
<line x1="1257.05" y1="898.4" x2="1257.05" y2="903.9" stroke="#000" stroke-width="2.2"/>
<line x1="1272.13" y1="898.4" x2="1272.13" y2="903.9" stroke="#000" stroke-width="2.2"/>
<line x1="1287.22" y1="898.4" x2="1287.22" y2="903.9" stroke="#000" stroke-width="2.2"/>
<line x1="1302.3" y1="898.4" x2="1302.3" y2="908.4" stroke="#000" stroke-width="2.2"/>
<line x1="1317.38" y1="898.4" x2="1317.38" y2="903.9" stroke="#000" stroke-width="2.2"/>
<line x1="1332.47" y1="898.4" x2="1332.47" y2="903.9" stroke="#000" stroke-width="2.2"/>
<line x1="1347.56" y1="898.4" x2="1347.56" y2="903.9" stroke="#000" stroke-width="2.2"/>
<line x1="1362.64" y1="898.4" x2="1362.64" y2="903.9" stroke="#000" stroke-width="2.2"/>
<line x1="1377.72" y1="898.4" x2="1377.72" y2="903.9" stroke="#000" stroke-width="2.2"/>
<text x="1000.6" y="930.88" font-size="18.5" text-anchor="middle" fill="#000">0</text>
<text x="1151.45" y="930.88" font-size="18.5" text-anchor="middle" fill="#000">100</text>
<text x="1302.3" y="930.88" font-size="18.5" text-anchor="middle" fill="#000">200</text>
<text x="1187.6" y="961.45" font-size="21.6" text-anchor="middle" fill="#000" textLength="184" lengthAdjust="spacingAndGlyphs">DAPI intensity (a.u.)</text>
<text x="1190" y="620.9" font-size="20" text-anchor="middle" fill="#000">siCRY1</text>
<text x="1141" y="658.07" font-size="20.5" fill="#000">37,45%</text>
<line x1="1121.3" y1="641.2" x2="1121.3" y2="898.4" stroke="#000" stroke-width="2.8" stroke-dasharray="15.5 7"/>
<line x1="1000.6" y1="867.54" x2="1385.6" y2="867.54" stroke="#000" stroke-width="2.8" stroke-dasharray="15.5 7"/>
<circle cx="1022.9" cy="995.5" r="3.6" fill="#000"/>
<text x="1053.1" y="1002.4" font-size="20" fill="#000" textLength="122" lengthAdjust="spacingAndGlyphs">RPA negative</text>
<circle cx="1217.1" cy="995.5" r="3.6" fill="#b3111c"/>
<text x="1247.1" y="1002.4" font-size="20" fill="#000" textLength="115" lengthAdjust="spacingAndGlyphs">RPA positive</text>
<text x="1411.9" y="552" font-size="37.2" font-weight="bold" fill="#260a05">E</text>
<text x="1602.6" y="564.98" font-size="24.3" text-anchor="middle" font-weight="bold">U2OS</text>
<line x1="1514.6" y1="585.95" x2="1514.6" y2="912.45" stroke="#231815" stroke-width="2.9"/>
<line x1="1497" y1="587.4" x2="1514.6" y2="587.4" stroke="#231815" stroke-width="2.9"/>
<text x="1490.7" y="596.96" font-size="24.8" text-anchor="end" fill="#000">80</text>
<line x1="1497" y1="668.3" x2="1514.6" y2="668.3" stroke="#231815" stroke-width="2.9"/>
<text x="1490.7" y="677.86" font-size="24.8" text-anchor="end" fill="#000">60</text>
<line x1="1497" y1="749.2" x2="1514.6" y2="749.2" stroke="#231815" stroke-width="2.9"/>
<text x="1490.7" y="758.76" font-size="24.8" text-anchor="end" fill="#000">40</text>
<line x1="1497" y1="830.1" x2="1514.6" y2="830.1" stroke="#231815" stroke-width="2.9"/>
<text x="1490.7" y="839.66" font-size="24.8" text-anchor="end" fill="#000">20</text>
<line x1="1497" y1="911" x2="1514.6" y2="911" stroke="#231815" stroke-width="2.9"/>
<text x="1490.7" y="920.56" font-size="24.8" text-anchor="end" fill="#000">0</text>
<line x1="1497" y1="911" x2="1743.5" y2="911" stroke="#231815" stroke-width="2.9"/>
<rect x="1551.4" y="685.2" width="59.8" height="225.8" fill="#fff" stroke="#231815" stroke-width="2.9"/>
<rect x="1648.7" y="760" width="60.3" height="151" fill="#fff" stroke="#231815" stroke-width="2.9"/>
<line x1="1580.6" y1="685.2" x2="1580.6" y2="658.3" stroke="#231815" stroke-width="2.9"/>
<line x1="1559.4" y1="658.3" x2="1602" y2="658.3" stroke="#231815" stroke-width="2.9"/>
<line x1="1679" y1="760" x2="1679" y2="742.4" stroke="#231815" stroke-width="2.9"/>
<line x1="1657.7" y1="742.4" x2="1699.8" y2="742.4" stroke="#231815" stroke-width="2.9"/>
<path d="M1579.7 622.4V600.5H1671.7V622.4" fill="none" stroke="#231815" stroke-width="2.9"/>
<text x="1626" y="594.94" font-size="18.4" text-anchor="middle" textLength="70.58" lengthAdjust="spacingAndGlyphs">p=0.0110</text>
<circle cx="1580.6" cy="661.5" r="6.4" fill="#d5303c"/>
<circle cx="1580.6" cy="680.3" r="6.4" fill="#d5303c"/>
<circle cx="1580.6" cy="709.8" r="6.4" fill="#d5303c"/>
<circle cx="1679" cy="740.8" r="6.4" fill="#d5303c"/>
<circle cx="1688.7" cy="762" r="6.4" fill="#d5303c"/>
<circle cx="1669" cy="770.7" r="6.4" fill="#d5303c"/>
<text x="1465" y="972.62" font-size="25">hCry1</text>
<text x="1581.9" y="971.32" font-size="37" text-anchor="middle" font-weight="bold" textLength="13.72" lengthAdjust="spacingAndGlyphs">-</text>
<text x="1677.9" y="973" font-size="37" text-anchor="middle" font-weight="bold">+</text>
<text x="1441.14" y="750" font-size="26.5" text-anchor="middle" transform="rotate(-90 1441.14 750)" textLength="331" lengthAdjust="spacingAndGlyphs">Cells with &gt; 10 RPA foci (%)</text>
<text x="-0.9" y="1133.8" font-size="37.2" font-weight="bold" fill="#260a05">F</text>
<text x="181.7" y="1129.98" font-size="24.3" text-anchor="middle" font-weight="bold">U2OS</text>
<rect x="135.2" y="1194.3" width="60.3" height="274.3" fill="#fff" stroke="#231815" stroke-width="2.9"/>
<rect x="233.8" y="1335.7" width="59.1" height="132.9" fill="#fff" stroke="#231815" stroke-width="2.9"/>
<line x1="100.7" y1="1142.55" x2="100.7" y2="1470.05" stroke="#231815" stroke-width="2.9"/>
<line x1="86.9" y1="1144" x2="100.7" y2="1144" stroke="#231815" stroke-width="2.9"/>
<text x="80.5" y="1153.33" font-size="25.3" text-anchor="end" fill="#000">60</text>
<line x1="86.9" y1="1252.2" x2="100.7" y2="1252.2" stroke="#231815" stroke-width="2.9"/>
<text x="80.5" y="1261.53" font-size="25.3" text-anchor="end" fill="#000">40</text>
<line x1="86.9" y1="1360.4" x2="100.7" y2="1360.4" stroke="#231815" stroke-width="2.9"/>
<text x="80.5" y="1369.73" font-size="25.3" text-anchor="end" fill="#000">20</text>
<line x1="86.9" y1="1468.6" x2="100.7" y2="1468.6" stroke="#231815" stroke-width="2.9"/>
<text x="80.5" y="1477.93" font-size="25.3" text-anchor="end" fill="#000">0</text>
<line x1="86.9" y1="1468.6" x2="327.8" y2="1468.6" stroke="#231815" stroke-width="2.9"/>
<line x1="165.5" y1="1194.3" x2="165.5" y2="1184.2" stroke="#231815" stroke-width="2.9"/>
<line x1="148.8" y1="1184.2" x2="182.2" y2="1184.2" stroke="#231815" stroke-width="2.9"/>
<line x1="263" y1="1335.7" x2="263" y2="1293.8" stroke="#231815" stroke-width="2.9"/>
<line x1="246" y1="1293.8" x2="280" y2="1293.8" stroke="#231815" stroke-width="2.9"/>
<circle cx="157.2" cy="1190.2" r="6" fill="#e4502c"/>
<circle cx="172.6" cy="1195.4" r="6" fill="#e4502c"/>
<circle cx="157.2" cy="1202" r="6" fill="#e4502c"/>
<circle cx="262.8" cy="1301" r="6" fill="#e4502c"/>
<circle cx="262.8" cy="1326.8" r="6" fill="#e4502c"/>
<circle cx="262.8" cy="1358.4" r="6" fill="#e4502c"/>
<path d="M164 1179V1157.5H262.8V1179.8" fill="none" stroke="#231815" stroke-width="2.9"/>
<text x="210.5" y="1149.94" font-size="18.4" text-anchor="middle" textLength="71.85" lengthAdjust="spacingAndGlyphs">p=0.0002</text>
<text x="54.6" y="1504.2" font-size="25.5">KL001</text>
<text x="166.5" y="1506.11" font-size="43.5" text-anchor="middle" font-weight="bold" textLength="16.25" lengthAdjust="spacingAndGlyphs">-</text>
<text x="259.2" y="1508.27" font-size="43.5" text-anchor="middle" font-weight="bold">+</text>
<text x="32.61" y="1307.7" font-size="26.7" text-anchor="middle" transform="rotate(-90 32.61 1307.7)" textLength="330.7" lengthAdjust="spacingAndGlyphs">Cells with &gt; 10 RPA foci (%)</text>
<text x="345.21" y="1133.8" font-size="37.2" font-weight="bold" fill="#260a05">G</text>
<text x="567" y="1129.68" font-size="27.2" text-anchor="middle" font-weight="bold">U2OS</text>
<rect x="511.5" y="1345" width="59" height="113.2" fill="#fff" stroke="#231815" stroke-width="2.9"/>
<rect x="596.6" y="1264.9" width="59.7" height="193.3" fill="#fff" stroke="#231815" stroke-width="2.9"/>
<line x1="478.5" y1="1172.55" x2="478.5" y2="1459.65" stroke="#231815" stroke-width="2.9"/>
<line x1="466.3" y1="1174" x2="478.5" y2="1174" stroke="#231815" stroke-width="2.9"/>
<text x="461.9" y="1183.91" font-size="27" text-anchor="end" fill="#000">2.5</text>
<line x1="466.3" y1="1232.1" x2="478.5" y2="1232.1" stroke="#231815" stroke-width="2.9"/>
<text x="461.9" y="1242.01" font-size="27" text-anchor="end" fill="#000">2.0</text>
<line x1="466.3" y1="1288.7" x2="478.5" y2="1288.7" stroke="#231815" stroke-width="2.9"/>
<text x="461.9" y="1298.62" font-size="27" text-anchor="end" fill="#000">1.5</text>
<line x1="466.3" y1="1352.2" x2="478.5" y2="1352.2" stroke="#231815" stroke-width="2.9"/>
<text x="461.9" y="1362.12" font-size="27" text-anchor="end" fill="#000">1.0</text>
<line x1="466.3" y1="1405.6" x2="478.5" y2="1405.6" stroke="#231815" stroke-width="2.9"/>
<text x="461.9" y="1415.51" font-size="27" text-anchor="end" fill="#000">0.5</text>
<line x1="466.3" y1="1458.2" x2="478.5" y2="1458.2" stroke="#231815" stroke-width="2.9"/>
<text x="461.9" y="1468.12" font-size="27" text-anchor="end" fill="#000">0.0</text>
<line x1="466.3" y1="1458.2" x2="687.4" y2="1458.2" stroke="#231815" stroke-width="2.9"/>
<line x1="626.5" y1="1264.9" x2="626.5" y2="1201.4" stroke="#231815" stroke-width="2.9"/>
<line x1="603.8" y1="1201.4" x2="649.2" y2="1201.4" stroke="#231815" stroke-width="2.9"/>
<circle cx="520.4" cy="1345" r="7.2" fill="#e4502c"/>
<circle cx="534.4" cy="1345" r="7.2" fill="#e4502c"/>
<circle cx="548.7" cy="1345" r="7.2" fill="#e4502c"/>
<circle cx="562.7" cy="1345" r="7.2" fill="#e4502c"/>
<circle cx="626.6" cy="1181.3" r="7.2" fill="#e4502c"/>
<circle cx="626.6" cy="1241.9" r="7.2" fill="#e4502c"/>
<circle cx="626.6" cy="1305.4" r="7.2" fill="#e4502c"/>
<circle cx="626.6" cy="1319" r="7.2" fill="#e4502c"/>
<line x1="543" y1="1458.2" x2="543" y2="1469.8" stroke="#231815" stroke-width="2.9"/>
<line x1="628.9" y1="1458.2" x2="628.9" y2="1469.8" stroke="#231815" stroke-width="2.9"/>
<text x="546.1" y="1508.13" font-size="28.5" text-anchor="middle">siNT</text>
<text x="628.7" y="1507.96" font-size="28" text-anchor="middle">siCRY1</text>
<path d="M532 1190V1168.6H628.4V1190" fill="none" stroke="#231815" stroke-width="2.9"/>
<text x="582" y="1162.04" font-size="18.4" text-anchor="middle" textLength="71.85" lengthAdjust="spacingAndGlyphs">p=0.0389</text>
<text x="379.14" y="1305.4" font-size="26.5" text-anchor="middle" transform="rotate(-90 379.14 1305.4)" textLength="317.4" lengthAdjust="spacingAndGlyphs">Gene conversion efficiency</text>
<text x="406.64" y="1312.7" font-size="26.5" text-anchor="middle" transform="rotate(-90 406.64 1312.7)" textLength="202.7" lengthAdjust="spacingAndGlyphs">relative to control</text>
<text x="688.4" y="1133.8" font-size="37.2" font-weight="bold" fill="#260a05">H</text>
<text x="839.7" y="1129.68" font-size="27.2" text-anchor="middle" font-weight="bold">U2OS</text>
<rect x="857" y="1324.3" width="59.7" height="140.3" fill="#fff" stroke="#231815" stroke-width="2.9"/>
<rect x="943.2" y="1266" width="58.6" height="198.6" fill="#fff" stroke="#231815" stroke-width="2.9"/>
<line x1="823.6" y1="1179.85" x2="823.6" y2="1466.05" stroke="#231815" stroke-width="2.9"/>
<line x1="812" y1="1181.3" x2="823.6" y2="1181.3" stroke="#231815" stroke-width="2.9"/>
<text x="807.8" y="1191.21" font-size="27" text-anchor="end" fill="#000">2.0</text>
<line x1="812" y1="1252" x2="823.6" y2="1252" stroke="#231815" stroke-width="2.9"/>
<text x="807.8" y="1261.91" font-size="27" text-anchor="end" fill="#000">1.5</text>
<line x1="812" y1="1323.9" x2="823.6" y2="1323.9" stroke="#231815" stroke-width="2.9"/>
<text x="807.8" y="1333.82" font-size="27" text-anchor="end" fill="#000">1.0</text>
<line x1="812" y1="1394.5" x2="823.6" y2="1394.5" stroke="#231815" stroke-width="2.9"/>
<text x="807.8" y="1404.41" font-size="27" text-anchor="end" fill="#000">0.5</text>
<line x1="812" y1="1464.6" x2="823.6" y2="1464.6" stroke="#231815" stroke-width="2.9"/>
<text x="807.8" y="1474.51" font-size="27" text-anchor="end" fill="#000">0.0</text>
<line x1="812" y1="1464.6" x2="1033" y2="1464.6" stroke="#231815" stroke-width="2.9"/>
<line x1="972.5" y1="1266" x2="972.5" y2="1246.6" stroke="#231815" stroke-width="2.9"/>
<line x1="949.9" y1="1246.6" x2="995.1" y2="1246.6" stroke="#231815" stroke-width="2.9"/>
<circle cx="872.2" cy="1324.3" r="7.2" fill="#e4502c"/>
<circle cx="886" cy="1324.3" r="7.2" fill="#e4502c"/>
<circle cx="899.4" cy="1324.3" r="7.2" fill="#e4502c"/>
<circle cx="972.4" cy="1254.4" r="7.2" fill="#e4502c"/>
<circle cx="984" cy="1268.9" r="7.2" fill="#e4502c"/>
<circle cx="961.3" cy="1277.8" r="7.2" fill="#e4502c"/>
<line x1="888.9" y1="1464.6" x2="888.9" y2="1476.4" stroke="#231815" stroke-width="2.9"/>
<line x1="974" y1="1464.6" x2="974" y2="1476.4" stroke="#231815" stroke-width="2.9"/>
<text x="882.6" y="1508.13" font-size="28.5" text-anchor="middle">siNT</text>
<text x="965.2" y="1507.96" font-size="28" text-anchor="middle">siCRY1</text>
<path d="M877.7 1233.7V1212H973.3V1233.7" fill="none" stroke="#231815" stroke-width="2.9"/>
<text x="926" y="1203.44" font-size="18.4" text-anchor="middle" textLength="71.85" lengthAdjust="spacingAndGlyphs">p=0.0105</text>
<text x="725.84" y="1317" font-size="26.5" text-anchor="middle" transform="rotate(-90 725.84 1317)" textLength="171.5" lengthAdjust="spacingAndGlyphs">SSA efficiency</text>
<text x="752.64" y="1320" font-size="26.5" text-anchor="middle" transform="rotate(-90 752.64 1320)" textLength="201.6" lengthAdjust="spacingAndGlyphs">relative to control</text>
<text x="1035.6" y="1137.7" font-size="37.2" font-weight="bold" fill="#260a05">I</text>
<text x="1252.7" y="1129.68" font-size="27.2" text-anchor="middle" font-weight="bold">U2OS</text>
<rect x="1203.7" y="1327.7" width="59" height="140.9" fill="#fff" stroke="#231815" stroke-width="2.9"/>
<rect x="1289.5" y="1283.8" width="58.5" height="184.8" fill="#fff" stroke="#231815" stroke-width="2.9"/>
<line x1="1169.9" y1="1182.15" x2="1169.9" y2="1470.05" stroke="#231815" stroke-width="2.9"/>
<line x1="1158" y1="1183.6" x2="1169.9" y2="1183.6" stroke="#231815" stroke-width="2.9"/>
<text x="1153.8" y="1193.51" font-size="27" text-anchor="end" fill="#000">2.0</text>
<line x1="1158" y1="1255.3" x2="1169.9" y2="1255.3" stroke="#231815" stroke-width="2.9"/>
<text x="1153.8" y="1265.21" font-size="27" text-anchor="end" fill="#000">1.5</text>
<line x1="1158" y1="1327.2" x2="1169.9" y2="1327.2" stroke="#231815" stroke-width="2.9"/>
<text x="1153.8" y="1337.12" font-size="27" text-anchor="end" fill="#000">1.0</text>
<line x1="1158" y1="1397.4" x2="1169.9" y2="1397.4" stroke="#231815" stroke-width="2.9"/>
<text x="1153.8" y="1407.32" font-size="27" text-anchor="end" fill="#000">0.5</text>
<line x1="1158" y1="1468.6" x2="1169.9" y2="1468.6" stroke="#231815" stroke-width="2.9"/>
<text x="1153.8" y="1478.51" font-size="27" text-anchor="end" fill="#000">0.0</text>
<line x1="1158" y1="1468.6" x2="1379.7" y2="1468.6" stroke="#231815" stroke-width="2.9"/>
<line x1="1318.7" y1="1283.8" x2="1318.7" y2="1262" stroke="#231815" stroke-width="2.9"/>
<line x1="1296" y1="1262" x2="1341.4" y2="1262" stroke="#231815" stroke-width="2.9"/>
<circle cx="1219.8" cy="1328.3" r="7.2" fill="#e4502c"/>
<circle cx="1233.1" cy="1328.3" r="7.2" fill="#e4502c"/>
<circle cx="1246.7" cy="1328.3" r="7.2" fill="#e4502c"/>
<circle cx="1318.4" cy="1269.8" r="7.2" fill="#e4502c"/>
<circle cx="1318.4" cy="1286" r="7.2" fill="#e4502c"/>
<circle cx="1318.4" cy="1298.3" r="7.2" fill="#e4502c"/>
<line x1="1236" y1="1468.6" x2="1236" y2="1479.8" stroke="#231815" stroke-width="2.9"/>
<line x1="1320.6" y1="1468.6" x2="1320.6" y2="1479.8" stroke="#231815" stroke-width="2.9"/>
<text x="1229.9" y="1513.73" font-size="28.5" text-anchor="middle">siNT</text>
<text x="1313.2" y="1513.56" font-size="28" text-anchor="middle">siCRY1</text>
<line x1="1224.9" y1="1233.2" x2="1334" y2="1233.2" stroke="#231815" stroke-width="2.9" stroke-linecap="round"/>
<text x="1279.4" y="1219.62" font-size="19.5" text-anchor="middle" textLength="19.15" lengthAdjust="spacingAndGlyphs">ns</text>
<text x="1072.54" y="1320.5" font-size="26.5" text-anchor="middle" transform="rotate(-90 1072.54 1320.5)" textLength="187" lengthAdjust="spacingAndGlyphs">NHEJ efficiency</text>
<text x="1098.84" y="1323" font-size="26.5" text-anchor="middle" transform="rotate(-90 1098.84 1323)" textLength="201.6" lengthAdjust="spacingAndGlyphs">relative to control</text>
<text x="1397.76" y="1125.8" font-size="37.2" font-weight="bold" fill="#260a05">J</text>
<text x="1617.4" y="1129.68" font-size="27.2" text-anchor="middle" font-weight="bold">U2OS</text>
<rect x="1557.8" y="1273.2" width="58.5" height="187.5" fill="#fff" stroke="#231815" stroke-width="2.9"/>
<rect x="1643.4" y="1312.3" width="58.6" height="148.4" fill="#fff" stroke="#231815" stroke-width="2.9"/>
<line x1="1524.5" y1="1176.35" x2="1524.5" y2="1462.15" stroke="#231815" stroke-width="2.9"/>
<line x1="1512.3" y1="1177.8" x2="1524.5" y2="1177.8" stroke="#231815" stroke-width="2.9"/>
<text x="1507.8" y="1187.71" font-size="27" text-anchor="end" fill="#000">1.5</text>
<line x1="1512.3" y1="1272.1" x2="1524.5" y2="1272.1" stroke="#231815" stroke-width="2.9"/>
<text x="1507.8" y="1282.01" font-size="27" text-anchor="end" fill="#000">1.0</text>
<line x1="1512.3" y1="1366.4" x2="1524.5" y2="1366.4" stroke="#231815" stroke-width="2.9"/>
<text x="1507.8" y="1376.32" font-size="27" text-anchor="end" fill="#000">0.5</text>
<line x1="1512.3" y1="1460.7" x2="1524.5" y2="1460.7" stroke="#231815" stroke-width="2.9"/>
<text x="1507.8" y="1470.62" font-size="27" text-anchor="end" fill="#000">0.0</text>
<line x1="1512.3" y1="1460.7" x2="1733.1" y2="1460.7" stroke="#231815" stroke-width="2.9"/>
<line x1="1672.5" y1="1312.3" x2="1672.5" y2="1306.6" stroke="#231815" stroke-width="2.9"/>
<line x1="1650.3" y1="1306.6" x2="1694.7" y2="1306.6" stroke="#231815" stroke-width="2.9"/>
<circle cx="1565.2" cy="1274.4" r="7.2" fill="#e4502c"/>
<circle cx="1579.2" cy="1274.4" r="7.2" fill="#e4502c"/>
<circle cx="1593.5" cy="1274.4" r="7.2" fill="#e4502c"/>
<circle cx="1607.7" cy="1274.4" r="7.2" fill="#e4502c"/>
<circle cx="1684.3" cy="1307.3" r="7.2" fill="#e4502c"/>
<circle cx="1661.1" cy="1312.8" r="7.2" fill="#e4502c"/>
<circle cx="1673.3" cy="1324.3" r="7.2" fill="#e4502c"/>
<circle cx="1673.3" cy="1349.1" r="7.2" fill="#e4502c"/>
<line x1="1589.3" y1="1460.7" x2="1589.3" y2="1473.4" stroke="#231815" stroke-width="2.9"/>
<line x1="1675" y1="1460.7" x2="1675" y2="1473.4" stroke="#231815" stroke-width="2.9"/>
<text x="1457" y="1507.33" font-size="25">hCry1</text>
<text x="1588.8" y="1511.11" font-size="43.5" text-anchor="middle" font-weight="bold" textLength="16.92" lengthAdjust="spacingAndGlyphs">-</text>
<text x="1676.2" y="1515.57" font-size="43.5" text-anchor="middle" font-weight="bold">+</text>
<path d="M1587.7 1249V1235.3H1669.9V1264" fill="none" stroke="#231815" stroke-width="2.9"/>
<text x="1630.3" y="1228.44" font-size="18.4" text-anchor="middle" textLength="71.85" lengthAdjust="spacingAndGlyphs">p=0.0014</text>
<text x="1424.84" y="1307.7" font-size="26.5" text-anchor="middle" transform="rotate(-90 1424.84 1307.7)" textLength="322" lengthAdjust="spacingAndGlyphs">Gene conversion efficiency</text>
<text x="1453.54" y="1316.3" font-size="26.5" text-anchor="middle" transform="rotate(-90 1453.54 1316.3)" textLength="201.3" lengthAdjust="spacingAndGlyphs">relative to control</text>
<text x="-1.06" y="1554.9" font-size="28" font-weight="bold" fill="#260a05">K</text>
<text x="229.7" y="1553.98" font-size="24.3" text-anchor="middle" font-weight="bold">U2OS</text>
<rect x="169.7" y="1710.9" width="56.8" height="185.1" fill="#fff" stroke="#000" stroke-width="2.9"/>
<rect x="261.2" y="1788" width="56.8" height="108" fill="#fff" stroke="#000" stroke-width="2.9"/>
<line x1="138" y1="1613.65" x2="138" y2="1897.45" stroke="#000" stroke-width="2.9"/>
<line x1="123.6" y1="1615.1" x2="138" y2="1615.1" stroke="#000" stroke-width="2.9"/>
<text x="122" y="1625.12" font-size="27.3" text-anchor="end" fill="#000">1.5</text>
<line x1="123.6" y1="1708.9" x2="138" y2="1708.9" stroke="#000" stroke-width="2.9"/>
<text x="122" y="1718.92" font-size="27.3" text-anchor="end" fill="#000">1.0</text>
<line x1="123.6" y1="1801.7" x2="138" y2="1801.7" stroke="#000" stroke-width="2.9"/>
<text x="122" y="1811.72" font-size="27.3" text-anchor="end" fill="#000">0.5</text>
<line x1="123.6" y1="1896" x2="138" y2="1896" stroke="#000" stroke-width="2.9"/>
<text x="122" y="1906.02" font-size="27.3" text-anchor="end" fill="#000">0.0</text>
<line x1="123.6" y1="1896" x2="350.8" y2="1896" stroke="#000" stroke-width="2.9"/>
<line x1="289.8" y1="1788" x2="289.8" y2="1770.1" stroke="#000" stroke-width="2.9"/>
<line x1="273.4" y1="1770.1" x2="306.2" y2="1770.1" stroke="#000" stroke-width="2.9"/>
<circle cx="180.8" cy="1710" r="6.8" fill="#e4502c"/>
<circle cx="197.1" cy="1710" r="6.8" fill="#e4502c"/>
<circle cx="213.4" cy="1710" r="6.8" fill="#e4502c"/>
<circle cx="288.4" cy="1772.3" r="6.8" fill="#e4502c"/>
<circle cx="288.4" cy="1785" r="6.8" fill="#e4502c"/>
<circle cx="288.4" cy="1803.3" r="6.8" fill="#e4502c"/>
<path d="M200.4 1684.8V1671H282.4V1700" fill="none" stroke="#231815" stroke-width="2.9"/>
<text x="241" y="1663.04" font-size="18.4" text-anchor="middle" textLength="70.58" lengthAdjust="spacingAndGlyphs">p=0.0011</text>
<text x="62.4" y="1942.92" font-size="25">hCry1</text>
<text x="195.2" y="1945.11" font-size="43.5" text-anchor="middle" font-weight="bold" textLength="16.92" lengthAdjust="spacingAndGlyphs">-</text>
<text x="282.1" y="1947.57" font-size="43.5" text-anchor="middle" font-weight="bold">+</text>
<text x="40.34" y="1727" font-size="26.5" text-anchor="middle" transform="rotate(-90 40.34 1727)" textLength="164.8" lengthAdjust="spacingAndGlyphs">SSA efficiency</text>
<text x="69.24" y="1731.6" font-size="26.5" text-anchor="middle" transform="rotate(-90 69.24 1731.6)" textLength="193.8" lengthAdjust="spacingAndGlyphs">relative to control</text>
<text x="356.94" y="1554.7" font-size="28" font-weight="bold" fill="#260a05">L</text>
<text x="583.9" y="1553.98" font-size="24.3" text-anchor="middle" font-weight="bold">U2OS</text>
<rect x="520" y="1708.6" width="58.3" height="187.4" fill="#fff" stroke="#000" stroke-width="2.9"/>
<rect x="607.3" y="1708.6" width="58.3" height="187.4" fill="#fff" stroke="#000" stroke-width="2.9"/>
<line x1="491" y1="1609.85" x2="491" y2="1897.45" stroke="#000" stroke-width="2.9"/>
<line x1="481.4" y1="1611.3" x2="491" y2="1611.3" stroke="#000" stroke-width="2.9"/>
<text x="479.7" y="1621.32" font-size="27.3" text-anchor="end" fill="#000">1.5</text>
<line x1="481.4" y1="1706" x2="491" y2="1706" stroke="#000" stroke-width="2.9"/>
<text x="479.7" y="1716.02" font-size="27.3" text-anchor="end" fill="#000">1.0</text>
<line x1="481.4" y1="1801" x2="491" y2="1801" stroke="#000" stroke-width="2.9"/>
<text x="479.7" y="1811.02" font-size="27.3" text-anchor="end" fill="#000">0.5</text>
<line x1="481.4" y1="1896" x2="491" y2="1896" stroke="#000" stroke-width="2.9"/>
<text x="479.7" y="1906.02" font-size="27.3" text-anchor="end" fill="#000">0.0</text>
<line x1="481.4" y1="1896" x2="695.2" y2="1896" stroke="#000" stroke-width="2.9"/>
<circle cx="533.8" cy="1708.9" r="6.8" fill="#e4502c"/>
<circle cx="549.8" cy="1708.9" r="6.8" fill="#e4502c"/>
<circle cx="566" cy="1708.9" r="6.8" fill="#e4502c"/>
<circle cx="620.2" cy="1712" r="6.8" fill="#e4502c"/>
<circle cx="636.7" cy="1705.5" r="6.8" fill="#e4502c"/>
<circle cx="652.9" cy="1708.9" r="6.8" fill="#e4502c"/>
<line x1="539.3" y1="1648.7" x2="647.3" y2="1648.7" stroke="#231815" stroke-width="2.9" stroke-linecap="round"/>
<text x="593.5" y="1635.12" font-size="19.5" text-anchor="middle" textLength="19.15" lengthAdjust="spacingAndGlyphs">ns</text>
<text x="416.8" y="1941.72" font-size="25">hCry1</text>
<text x="548.8" y="1944.41" font-size="43.5" text-anchor="middle" font-weight="bold" textLength="16.25" lengthAdjust="spacingAndGlyphs">-</text>
<text x="636.2" y="1945.57" font-size="43.5" text-anchor="middle" font-weight="bold">+</text>
<text x="393.64" y="1732" font-size="26.5" text-anchor="middle" transform="rotate(-90 393.64 1732)" textLength="181.5" lengthAdjust="spacingAndGlyphs">NHEJ efficiency</text>
<text x="423.74" y="1729.8" font-size="26.5" text-anchor="middle" transform="rotate(-90 423.74 1729.8)" textLength="194.9" lengthAdjust="spacingAndGlyphs">relative to control</text>
<text x="708.94" y="1555" font-size="28" font-weight="bold" fill="#260a05">M</text>
<text x="950.9" y="1553.98" font-size="24.3" text-anchor="middle" font-weight="bold">U2OS</text>
<line x1="801.3" y1="1596.45" x2="801.3" y2="1898.45" stroke="#000" stroke-width="2.9"/>
<line x1="788" y1="1597.9" x2="801.3" y2="1597.9" stroke="#000" stroke-width="2.9"/>
<text x="783.7" y="1607.08" font-size="24" text-anchor="end" fill="#000">100</text>
<line x1="788" y1="1657.72" x2="801.3" y2="1657.72" stroke="#000" stroke-width="2.9"/>
<text x="783.7" y="1666.9" font-size="24" text-anchor="end" fill="#000">80</text>
<line x1="788" y1="1717.54" x2="801.3" y2="1717.54" stroke="#000" stroke-width="2.9"/>
<text x="783.7" y="1726.72" font-size="24" text-anchor="end" fill="#000">60</text>
<line x1="788" y1="1777.36" x2="801.3" y2="1777.36" stroke="#000" stroke-width="2.9"/>
<text x="783.7" y="1786.54" font-size="24" text-anchor="end" fill="#000">40</text>
<line x1="788" y1="1837.18" x2="801.3" y2="1837.18" stroke="#000" stroke-width="2.9"/>
<text x="783.7" y="1846.36" font-size="24" text-anchor="end" fill="#000">20</text>
<line x1="788" y1="1897" x2="801.3" y2="1897" stroke="#000" stroke-width="2.9"/>
<text x="783.7" y="1906.18" font-size="24" text-anchor="end" fill="#000">0</text>
<line x1="788" y1="1897" x2="1090" y2="1897" stroke="#000" stroke-width="2.9"/>
<g fill="#000"><circle cx="881" cy="1897" r="2.85"/><circle cx="888" cy="1897" r="2.85"/><circle cx="870.5" cy="1894.01" r="2.85"/><circle cx="877.5" cy="1894.01" r="2.85"/><circle cx="884.5" cy="1894.01" r="2.85"/><circle cx="891.5" cy="1894.01" r="2.85"/><circle cx="898.5" cy="1894.01" r="2.85"/><circle cx="881" cy="1891.02" r="2.85"/><circle cx="888" cy="1891.02" r="2.85"/><circle cx="856.5" cy="1888.03" r="2.85"/><circle cx="863.5" cy="1888.03" r="2.85"/><circle cx="870.5" cy="1888.03" r="2.85"/><circle cx="877.5" cy="1888.03" r="2.85"/><circle cx="884.5" cy="1888.03" r="2.85"/><circle cx="891.5" cy="1888.03" r="2.85"/><circle cx="898.5" cy="1888.03" r="2.85"/><circle cx="905.5" cy="1888.03" r="2.85"/><circle cx="912.5" cy="1888.03" r="2.85"/><circle cx="881" cy="1885.04" r="2.85"/><circle cx="888" cy="1885.04" r="2.85"/><circle cx="860" cy="1882.05" r="2.85"/><circle cx="867" cy="1882.05" r="2.85"/><circle cx="874" cy="1882.05" r="2.85"/><circle cx="881" cy="1882.05" r="2.85"/><circle cx="888" cy="1882.05" r="2.85"/><circle cx="895" cy="1882.05" r="2.85"/><circle cx="902" cy="1882.05" r="2.85"/><circle cx="909" cy="1882.05" r="2.85"/><circle cx="846" cy="1879.05" r="2.85"/><circle cx="853" cy="1879.05" r="2.85"/><circle cx="860" cy="1879.05" r="2.85"/><circle cx="867" cy="1879.05" r="2.85"/><circle cx="874" cy="1879.05" r="2.85"/><circle cx="881" cy="1879.05" r="2.85"/><circle cx="888" cy="1879.05" r="2.85"/><circle cx="895" cy="1879.05" r="2.85"/><circle cx="902" cy="1879.05" r="2.85"/><circle cx="909" cy="1879.05" r="2.85"/><circle cx="916" cy="1879.05" r="2.85"/><circle cx="923" cy="1879.05" r="2.85"/><circle cx="881" cy="1876.06" r="2.85"/><circle cx="888" cy="1876.06" r="2.85"/><circle cx="870.5" cy="1873.07" r="2.85"/><circle cx="877.5" cy="1873.07" r="2.85"/><circle cx="884.5" cy="1873.07" r="2.85"/><circle cx="891.5" cy="1873.07" r="2.85"/><circle cx="898.5" cy="1873.07" r="2.85"/><circle cx="856.5" cy="1870.08" r="2.85"/><circle cx="863.5" cy="1870.08" r="2.85"/><circle cx="870.5" cy="1870.08" r="2.85"/><circle cx="877.5" cy="1870.08" r="2.85"/><circle cx="884.5" cy="1870.08" r="2.85"/><circle cx="891.5" cy="1870.08" r="2.85"/><circle cx="898.5" cy="1870.08" r="2.85"/><circle cx="905.5" cy="1870.08" r="2.85"/><circle cx="912.5" cy="1870.08" r="2.85"/><circle cx="881" cy="1864.1" r="2.85"/><circle cx="888" cy="1864.1" r="2.85"/><circle cx="863.5" cy="1861.11" r="2.85"/><circle cx="870.5" cy="1861.11" r="2.85"/><circle cx="877.5" cy="1861.11" r="2.85"/><circle cx="884.5" cy="1861.11" r="2.85"/><circle cx="891.5" cy="1861.11" r="2.85"/><circle cx="898.5" cy="1861.11" r="2.85"/><circle cx="905.5" cy="1861.11" r="2.85"/><circle cx="867" cy="1855.13" r="2.85"/><circle cx="874" cy="1855.13" r="2.85"/><circle cx="881" cy="1855.13" r="2.85"/><circle cx="888" cy="1855.13" r="2.85"/><circle cx="895" cy="1855.13" r="2.85"/><circle cx="902" cy="1855.13" r="2.85"/><circle cx="870.5" cy="1849.14" r="2.85"/><circle cx="877.5" cy="1849.14" r="2.85"/><circle cx="884.5" cy="1849.14" r="2.85"/><circle cx="891.5" cy="1849.14" r="2.85"/><circle cx="898.5" cy="1849.14" r="2.85"/><circle cx="874" cy="1846.15" r="2.85"/><circle cx="881" cy="1846.15" r="2.85"/><circle cx="888" cy="1846.15" r="2.85"/><circle cx="895" cy="1846.15" r="2.85"/><circle cx="884.5" cy="1840.17" r="2.85"/><circle cx="881" cy="1837.18" r="2.85"/><circle cx="888" cy="1837.18" r="2.85"/><circle cx="881" cy="1834.19" r="2.85"/><circle cx="888" cy="1834.19" r="2.85"/><circle cx="877.5" cy="1831.2" r="2.85"/><circle cx="884.5" cy="1831.2" r="2.85"/><circle cx="891.5" cy="1831.2" r="2.85"/><circle cx="870.5" cy="1828.21" r="2.85"/><circle cx="877.5" cy="1828.21" r="2.85"/><circle cx="884.5" cy="1828.21" r="2.85"/><circle cx="891.5" cy="1828.21" r="2.85"/><circle cx="898.5" cy="1828.21" r="2.85"/><circle cx="877.5" cy="1825.22" r="2.85"/><circle cx="884.5" cy="1825.22" r="2.85"/><circle cx="891.5" cy="1825.22" r="2.85"/><circle cx="884.5" cy="1822.22" r="2.85"/><circle cx="877.5" cy="1819.23" r="2.85"/><circle cx="884.5" cy="1819.23" r="2.85"/><circle cx="891.5" cy="1819.23" r="2.85"/><circle cx="881" cy="1816.24" r="2.85"/><circle cx="888" cy="1816.24" r="2.85"/><circle cx="881" cy="1813.25" r="2.85"/><circle cx="888" cy="1813.25" r="2.85"/><circle cx="881" cy="1807.27" r="2.85"/><circle cx="888" cy="1807.27" r="2.85"/><circle cx="884.5" cy="1798.3" r="2.85"/><circle cx="877.5" cy="1795.31" r="2.85"/><circle cx="884.5" cy="1795.31" r="2.85"/><circle cx="891.5" cy="1795.31" r="2.85"/><circle cx="884.5" cy="1777.36" r="2.85"/><circle cx="884.5" cy="1765.4" r="2.85"/></g>
<g fill="#000"><circle cx="1009.2" cy="1897" r="2.85"/><circle cx="998.7" cy="1894.01" r="2.85"/><circle cx="1005.7" cy="1894.01" r="2.85"/><circle cx="1012.7" cy="1894.01" r="2.85"/><circle cx="1019.7" cy="1894.01" r="2.85"/><circle cx="1002.2" cy="1891.02" r="2.85"/><circle cx="1009.2" cy="1891.02" r="2.85"/><circle cx="1016.2" cy="1891.02" r="2.85"/><circle cx="988.2" cy="1888.03" r="2.85"/><circle cx="995.2" cy="1888.03" r="2.85"/><circle cx="1002.2" cy="1888.03" r="2.85"/><circle cx="1009.2" cy="1888.03" r="2.85"/><circle cx="1016.2" cy="1888.03" r="2.85"/><circle cx="1023.2" cy="1888.03" r="2.85"/><circle cx="1030.2" cy="1888.03" r="2.85"/><circle cx="991.7" cy="1885.04" r="2.85"/><circle cx="998.7" cy="1885.04" r="2.85"/><circle cx="1005.7" cy="1885.04" r="2.85"/><circle cx="1012.7" cy="1885.04" r="2.85"/><circle cx="1019.7" cy="1885.04" r="2.85"/><circle cx="1026.7" cy="1885.04" r="2.85"/><circle cx="981.2" cy="1879.05" r="2.85"/><circle cx="988.2" cy="1879.05" r="2.85"/><circle cx="995.2" cy="1879.05" r="2.85"/><circle cx="1002.2" cy="1879.05" r="2.85"/><circle cx="1009.2" cy="1879.05" r="2.85"/><circle cx="1016.2" cy="1879.05" r="2.85"/><circle cx="1023.2" cy="1879.05" r="2.85"/><circle cx="1030.2" cy="1879.05" r="2.85"/><circle cx="1037.2" cy="1879.05" r="2.85"/><circle cx="984.7" cy="1873.07" r="2.85"/><circle cx="991.7" cy="1873.07" r="2.85"/><circle cx="998.7" cy="1873.07" r="2.85"/><circle cx="1005.7" cy="1873.07" r="2.85"/><circle cx="1012.7" cy="1873.07" r="2.85"/><circle cx="1019.7" cy="1873.07" r="2.85"/><circle cx="1026.7" cy="1873.07" r="2.85"/><circle cx="1033.7" cy="1873.07" r="2.85"/><circle cx="1002.2" cy="1870.08" r="2.85"/><circle cx="1009.2" cy="1870.08" r="2.85"/><circle cx="1016.2" cy="1870.08" r="2.85"/><circle cx="1005.7" cy="1867.09" r="2.85"/><circle cx="1012.7" cy="1867.09" r="2.85"/><circle cx="970.7" cy="1861.11" r="2.85"/><circle cx="977.7" cy="1861.11" r="2.85"/><circle cx="984.7" cy="1861.11" r="2.85"/><circle cx="991.7" cy="1861.11" r="2.85"/><circle cx="998.7" cy="1861.11" r="2.85"/><circle cx="1005.7" cy="1861.11" r="2.85"/><circle cx="1012.7" cy="1861.11" r="2.85"/><circle cx="1019.7" cy="1861.11" r="2.85"/><circle cx="1026.7" cy="1861.11" r="2.85"/><circle cx="1033.7" cy="1861.11" r="2.85"/><circle cx="1040.7" cy="1861.11" r="2.85"/><circle cx="1047.7" cy="1861.11" r="2.85"/><circle cx="995.2" cy="1858.12" r="2.85"/><circle cx="1002.2" cy="1858.12" r="2.85"/><circle cx="1009.2" cy="1858.12" r="2.85"/><circle cx="1016.2" cy="1858.12" r="2.85"/><circle cx="1023.2" cy="1858.12" r="2.85"/><circle cx="991.7" cy="1855.13" r="2.85"/><circle cx="998.7" cy="1855.13" r="2.85"/><circle cx="1005.7" cy="1855.13" r="2.85"/><circle cx="1012.7" cy="1855.13" r="2.85"/><circle cx="1019.7" cy="1855.13" r="2.85"/><circle cx="1026.7" cy="1855.13" r="2.85"/><circle cx="991.7" cy="1849.14" r="2.85"/><circle cx="998.7" cy="1849.14" r="2.85"/><circle cx="1005.7" cy="1849.14" r="2.85"/><circle cx="1012.7" cy="1849.14" r="2.85"/><circle cx="1019.7" cy="1849.14" r="2.85"/><circle cx="1026.7" cy="1849.14" r="2.85"/><circle cx="991.7" cy="1846.15" r="2.85"/><circle cx="998.7" cy="1846.15" r="2.85"/><circle cx="1005.7" cy="1846.15" r="2.85"/><circle cx="1012.7" cy="1846.15" r="2.85"/><circle cx="1019.7" cy="1846.15" r="2.85"/><circle cx="1026.7" cy="1846.15" r="2.85"/><circle cx="981.2" cy="1843.16" r="2.85"/><circle cx="988.2" cy="1843.16" r="2.85"/><circle cx="995.2" cy="1843.16" r="2.85"/><circle cx="1002.2" cy="1843.16" r="2.85"/><circle cx="1009.2" cy="1843.16" r="2.85"/><circle cx="1016.2" cy="1843.16" r="2.85"/><circle cx="1023.2" cy="1843.16" r="2.85"/><circle cx="1030.2" cy="1843.16" r="2.85"/><circle cx="1037.2" cy="1843.16" r="2.85"/><circle cx="998.7" cy="1840.17" r="2.85"/><circle cx="1005.7" cy="1840.17" r="2.85"/><circle cx="1012.7" cy="1840.17" r="2.85"/><circle cx="1019.7" cy="1840.17" r="2.85"/><circle cx="1002.2" cy="1837.18" r="2.85"/><circle cx="1009.2" cy="1837.18" r="2.85"/><circle cx="1016.2" cy="1837.18" r="2.85"/><circle cx="995.2" cy="1834.19" r="2.85"/><circle cx="1002.2" cy="1834.19" r="2.85"/><circle cx="1009.2" cy="1834.19" r="2.85"/><circle cx="1016.2" cy="1834.19" r="2.85"/><circle cx="1023.2" cy="1834.19" r="2.85"/><circle cx="991.7" cy="1831.2" r="2.85"/><circle cx="998.7" cy="1831.2" r="2.85"/><circle cx="1005.7" cy="1831.2" r="2.85"/><circle cx="1012.7" cy="1831.2" r="2.85"/><circle cx="1019.7" cy="1831.2" r="2.85"/><circle cx="1026.7" cy="1831.2" r="2.85"/><circle cx="1002.2" cy="1828.21" r="2.85"/><circle cx="1009.2" cy="1828.21" r="2.85"/><circle cx="1016.2" cy="1828.21" r="2.85"/><circle cx="998.7" cy="1825.22" r="2.85"/><circle cx="1005.7" cy="1825.22" r="2.85"/><circle cx="1012.7" cy="1825.22" r="2.85"/><circle cx="1019.7" cy="1825.22" r="2.85"/><circle cx="1005.7" cy="1822.22" r="2.85"/><circle cx="1012.7" cy="1822.22" r="2.85"/><circle cx="998.7" cy="1816.24" r="2.85"/><circle cx="1005.7" cy="1816.24" r="2.85"/><circle cx="1012.7" cy="1816.24" r="2.85"/><circle cx="1019.7" cy="1816.24" r="2.85"/><circle cx="1005.7" cy="1813.25" r="2.85"/><circle cx="1012.7" cy="1813.25" r="2.85"/><circle cx="1009.2" cy="1810.26" r="2.85"/><circle cx="1009.2" cy="1804.28" r="2.85"/><circle cx="1005.7" cy="1801.29" r="2.85"/><circle cx="1012.7" cy="1801.29" r="2.85"/><circle cx="998.7" cy="1795.31" r="2.85"/><circle cx="1005.7" cy="1795.31" r="2.85"/><circle cx="1012.7" cy="1795.31" r="2.85"/><circle cx="1019.7" cy="1795.31" r="2.85"/><circle cx="1005.7" cy="1792.32" r="2.85"/><circle cx="1012.7" cy="1792.32" r="2.85"/><circle cx="1009.2" cy="1783.34" r="2.85"/><circle cx="1005.7" cy="1780.35" r="2.85"/><circle cx="1012.7" cy="1780.35" r="2.85"/><circle cx="1002.2" cy="1774.37" r="2.85"/><circle cx="1009.2" cy="1774.37" r="2.85"/><circle cx="1016.2" cy="1774.37" r="2.85"/><circle cx="1009.2" cy="1732.49" r="2.85"/><circle cx="1009.2" cy="1720.53" r="2.85"/><circle cx="1005.7" cy="1717.54" r="2.85"/><circle cx="1012.7" cy="1717.54" r="2.85"/><circle cx="1009.2" cy="1711.56" r="2.85"/><circle cx="1009.2" cy="1708.57" r="2.85"/><circle cx="1009.2" cy="1699.59" r="2.85"/><circle cx="1009.2" cy="1693.61" r="2.85"/><circle cx="1009.2" cy="1687.63" r="2.85"/><circle cx="1009.2" cy="1651.74" r="2.85"/><circle cx="1009.2" cy="1642.76" r="2.85"/><circle cx="1009.2" cy="1624.82" r="2.85"/></g>
<line x1="843.5" y1="1857.2" x2="925.5" y2="1857.2" stroke="#b5121b" stroke-width="2.9"/>
<line x1="968.2" y1="1831.6" x2="1050.2" y2="1831.6" stroke="#b5121b" stroke-width="2.9"/>
<path d="M885.2 1612V1597.2H1009.2V1612" fill="none" stroke="#000" stroke-width="2.9"/>
<text x="947.5" y="1591.9" font-size="18.3" text-anchor="middle" textLength="70.69" lengthAdjust="spacingAndGlyphs">p&lt;0.0001</text>
<text x="888.3" y="1932.96" font-size="28.3" text-anchor="middle">siNT</text>
<text x="1003.9" y="1932.72" font-size="27.6" text-anchor="middle">siCRY1</text>
<text x="738.14" y="1749.6" font-size="26.5" text-anchor="middle" transform="rotate(-90 738.14 1749.6)" textLength="317" lengthAdjust="spacingAndGlyphs">Rad51 foci number per cell</text>
<text x="1093.84" y="1554.9" font-size="28" font-weight="bold" fill="#260a05">N</text>
<text x="1296.6" y="1553.98" font-size="24.3" text-anchor="middle" font-weight="bold">U2OS</text>
<line x1="1195.6" y1="1575.35" x2="1195.6" y2="1897.85" stroke="#000" stroke-width="2.9"/>
<line x1="1183" y1="1576.8" x2="1195.6" y2="1576.8" stroke="#000" stroke-width="2.9"/>
<text x="1177" y="1586.19" font-size="24.6" text-anchor="end" fill="#000">80</text>
<line x1="1183" y1="1656.7" x2="1195.6" y2="1656.7" stroke="#000" stroke-width="2.9"/>
<text x="1177" y="1666.09" font-size="24.6" text-anchor="end" fill="#000">60</text>
<line x1="1183" y1="1736.6" x2="1195.6" y2="1736.6" stroke="#000" stroke-width="2.9"/>
<text x="1177" y="1745.99" font-size="24.6" text-anchor="end" fill="#000">40</text>
<line x1="1183" y1="1816.5" x2="1195.6" y2="1816.5" stroke="#000" stroke-width="2.9"/>
<text x="1177" y="1825.89" font-size="24.6" text-anchor="end" fill="#000">20</text>
<line x1="1183" y1="1896.4" x2="1195.6" y2="1896.4" stroke="#000" stroke-width="2.9"/>
<text x="1177" y="1905.79" font-size="24.6" text-anchor="end" fill="#000">0</text>
<line x1="1183" y1="1896.4" x2="1409" y2="1896.4" stroke="#000" stroke-width="2.9"/>
<g fill="#000"><circle cx="1253" cy="1896.4" r="3.5"/><circle cx="1260.2" cy="1896.4" r="3.5"/><circle cx="1249.4" cy="1888.41" r="3.5"/><circle cx="1256.6" cy="1888.41" r="3.5"/><circle cx="1263.8" cy="1888.41" r="3.5"/><circle cx="1249.4" cy="1882.82" r="3.5"/><circle cx="1256.6" cy="1882.82" r="3.5"/><circle cx="1263.8" cy="1882.82" r="3.5"/><circle cx="1238.6" cy="1876.43" r="3.5"/><circle cx="1245.8" cy="1876.43" r="3.5"/><circle cx="1253" cy="1876.43" r="3.5"/><circle cx="1260.2" cy="1876.43" r="3.5"/><circle cx="1267.4" cy="1876.43" r="3.5"/><circle cx="1274.6" cy="1876.43" r="3.5"/><circle cx="1238.6" cy="1870.43" r="3.5"/><circle cx="1245.8" cy="1870.43" r="3.5"/><circle cx="1253" cy="1870.43" r="3.5"/><circle cx="1260.2" cy="1870.43" r="3.5"/><circle cx="1267.4" cy="1870.43" r="3.5"/><circle cx="1274.6" cy="1870.43" r="3.5"/><circle cx="1227.8" cy="1864.44" r="3.5"/><circle cx="1235" cy="1864.44" r="3.5"/><circle cx="1242.2" cy="1864.44" r="3.5"/><circle cx="1249.4" cy="1864.44" r="3.5"/><circle cx="1256.6" cy="1864.44" r="3.5"/><circle cx="1263.8" cy="1864.44" r="3.5"/><circle cx="1271" cy="1864.44" r="3.5"/><circle cx="1278.2" cy="1864.44" r="3.5"/><circle cx="1285.4" cy="1864.44" r="3.5"/><circle cx="1235" cy="1858.45" r="3.5"/><circle cx="1242.2" cy="1858.45" r="3.5"/><circle cx="1249.4" cy="1858.45" r="3.5"/><circle cx="1256.6" cy="1858.45" r="3.5"/><circle cx="1263.8" cy="1858.45" r="3.5"/><circle cx="1271" cy="1858.45" r="3.5"/><circle cx="1278.2" cy="1858.45" r="3.5"/><circle cx="1227.8" cy="1852.46" r="3.5"/><circle cx="1235" cy="1852.46" r="3.5"/><circle cx="1242.2" cy="1852.46" r="3.5"/><circle cx="1249.4" cy="1852.46" r="3.5"/><circle cx="1256.6" cy="1852.46" r="3.5"/><circle cx="1263.8" cy="1852.46" r="3.5"/><circle cx="1271" cy="1852.46" r="3.5"/><circle cx="1278.2" cy="1852.46" r="3.5"/><circle cx="1285.4" cy="1852.46" r="3.5"/><circle cx="1231.4" cy="1844.47" r="3.5"/><circle cx="1238.6" cy="1844.47" r="3.5"/><circle cx="1245.8" cy="1844.47" r="3.5"/><circle cx="1253" cy="1844.47" r="3.5"/><circle cx="1260.2" cy="1844.47" r="3.5"/><circle cx="1267.4" cy="1844.47" r="3.5"/><circle cx="1274.6" cy="1844.47" r="3.5"/><circle cx="1281.8" cy="1844.47" r="3.5"/><circle cx="1238.6" cy="1840.47" r="3.5"/><circle cx="1245.8" cy="1840.47" r="3.5"/><circle cx="1253" cy="1840.47" r="3.5"/><circle cx="1260.2" cy="1840.47" r="3.5"/><circle cx="1267.4" cy="1840.47" r="3.5"/><circle cx="1274.6" cy="1840.47" r="3.5"/><circle cx="1242.2" cy="1836.48" r="3.5"/><circle cx="1249.4" cy="1836.48" r="3.5"/><circle cx="1256.6" cy="1836.48" r="3.5"/><circle cx="1263.8" cy="1836.48" r="3.5"/><circle cx="1271" cy="1836.48" r="3.5"/><circle cx="1249.4" cy="1824.49" r="3.5"/><circle cx="1256.6" cy="1824.49" r="3.5"/><circle cx="1263.8" cy="1824.49" r="3.5"/><circle cx="1242.2" cy="1812.51" r="3.5"/><circle cx="1249.4" cy="1812.51" r="3.5"/><circle cx="1256.6" cy="1812.51" r="3.5"/><circle cx="1263.8" cy="1812.51" r="3.5"/><circle cx="1271" cy="1812.51" r="3.5"/><circle cx="1242.2" cy="1808.51" r="3.5"/><circle cx="1249.4" cy="1808.51" r="3.5"/><circle cx="1256.6" cy="1808.51" r="3.5"/><circle cx="1263.8" cy="1808.51" r="3.5"/><circle cx="1271" cy="1808.51" r="3.5"/><circle cx="1253" cy="1800.52" r="3.5"/><circle cx="1260.2" cy="1800.52" r="3.5"/><circle cx="1249.4" cy="1792.53" r="3.5"/><circle cx="1256.6" cy="1792.53" r="3.5"/><circle cx="1263.8" cy="1792.53" r="3.5"/><circle cx="1249.4" cy="1784.54" r="3.5"/><circle cx="1256.6" cy="1784.54" r="3.5"/><circle cx="1263.8" cy="1784.54" r="3.5"/><circle cx="1249.4" cy="1780.55" r="3.5"/><circle cx="1256.6" cy="1780.55" r="3.5"/><circle cx="1263.8" cy="1780.55" r="3.5"/><circle cx="1253" cy="1772.56" r="3.5"/><circle cx="1260.2" cy="1772.56" r="3.5"/><circle cx="1249.4" cy="1764.57" r="3.5"/><circle cx="1256.6" cy="1764.57" r="3.5"/><circle cx="1263.8" cy="1764.57" r="3.5"/><circle cx="1253" cy="1756.58" r="3.5"/><circle cx="1260.2" cy="1756.58" r="3.5"/><circle cx="1249.4" cy="1748.59" r="3.5"/><circle cx="1256.6" cy="1748.59" r="3.5"/><circle cx="1263.8" cy="1748.59" r="3.5"/><circle cx="1253" cy="1744.59" r="3.5"/><circle cx="1260.2" cy="1744.59" r="3.5"/><circle cx="1256.6" cy="1732.61" r="3.5"/><circle cx="1256.6" cy="1728.61" r="3.5"/><circle cx="1256.6" cy="1712.63" r="3.5"/><circle cx="1253" cy="1708.63" r="3.5"/><circle cx="1260.2" cy="1708.63" r="3.5"/><circle cx="1256.6" cy="1664.69" r="3.5"/><circle cx="1256.6" cy="1892.41" r="3.5"/><circle cx="1256.6" cy="1880.42" r="3.5"/><circle cx="1256.6" cy="1868.44" r="3.5"/><circle cx="1256.6" cy="1860.45" r="3.5"/><circle cx="1256.6" cy="1848.46" r="3.5"/><circle cx="1256.6" cy="1832.48" r="3.5"/><circle cx="1256.6" cy="1828.49" r="3.5"/><circle cx="1256.6" cy="1820.5" r="3.5"/><circle cx="1256.6" cy="1816.5" r="3.5"/><circle cx="1256.6" cy="1804.52" r="3.5"/><circle cx="1256.6" cy="1796.53" r="3.5"/><circle cx="1256.6" cy="1788.54" r="3.5"/><circle cx="1256.6" cy="1776.55" r="3.5"/><circle cx="1256.6" cy="1768.56" r="3.5"/><circle cx="1256.6" cy="1760.57" r="3.5"/><circle cx="1256.6" cy="1752.58" r="3.5"/><circle cx="1256.6" cy="1740.6" r="3.5"/><circle cx="1256.6" cy="1736.6" r="3.5"/></g>
<g fill="#000"><circle cx="1340.8" cy="1896.4" r="3.5"/><circle cx="1348" cy="1896.4" r="3.5"/><circle cx="1355.2" cy="1896.4" r="3.5"/><circle cx="1340.8" cy="1892.41" r="3.5"/><circle cx="1348" cy="1892.41" r="3.5"/><circle cx="1355.2" cy="1892.41" r="3.5"/><circle cx="1337.2" cy="1884.42" r="3.5"/><circle cx="1344.4" cy="1884.42" r="3.5"/><circle cx="1351.6" cy="1884.42" r="3.5"/><circle cx="1358.8" cy="1884.42" r="3.5"/><circle cx="1330" cy="1876.43" r="3.5"/><circle cx="1337.2" cy="1876.43" r="3.5"/><circle cx="1344.4" cy="1876.43" r="3.5"/><circle cx="1351.6" cy="1876.43" r="3.5"/><circle cx="1358.8" cy="1876.43" r="3.5"/><circle cx="1366" cy="1876.43" r="3.5"/><circle cx="1333.6" cy="1870.43" r="3.5"/><circle cx="1340.8" cy="1870.43" r="3.5"/><circle cx="1348" cy="1870.43" r="3.5"/><circle cx="1355.2" cy="1870.43" r="3.5"/><circle cx="1362.4" cy="1870.43" r="3.5"/><circle cx="1326.4" cy="1864.44" r="3.5"/><circle cx="1333.6" cy="1864.44" r="3.5"/><circle cx="1340.8" cy="1864.44" r="3.5"/><circle cx="1348" cy="1864.44" r="3.5"/><circle cx="1355.2" cy="1864.44" r="3.5"/><circle cx="1362.4" cy="1864.44" r="3.5"/><circle cx="1369.6" cy="1864.44" r="3.5"/><circle cx="1330" cy="1858.45" r="3.5"/><circle cx="1337.2" cy="1858.45" r="3.5"/><circle cx="1344.4" cy="1858.45" r="3.5"/><circle cx="1351.6" cy="1858.45" r="3.5"/><circle cx="1358.8" cy="1858.45" r="3.5"/><circle cx="1366" cy="1858.45" r="3.5"/><circle cx="1319.2" cy="1852.46" r="3.5"/><circle cx="1326.4" cy="1852.46" r="3.5"/><circle cx="1333.6" cy="1852.46" r="3.5"/><circle cx="1340.8" cy="1852.46" r="3.5"/><circle cx="1348" cy="1852.46" r="3.5"/><circle cx="1355.2" cy="1852.46" r="3.5"/><circle cx="1362.4" cy="1852.46" r="3.5"/><circle cx="1369.6" cy="1852.46" r="3.5"/><circle cx="1376.8" cy="1852.46" r="3.5"/><circle cx="1319.2" cy="1842.47" r="3.5"/><circle cx="1326.4" cy="1842.47" r="3.5"/><circle cx="1333.6" cy="1842.47" r="3.5"/><circle cx="1340.8" cy="1842.47" r="3.5"/><circle cx="1348" cy="1842.47" r="3.5"/><circle cx="1355.2" cy="1842.47" r="3.5"/><circle cx="1362.4" cy="1842.47" r="3.5"/><circle cx="1369.6" cy="1842.47" r="3.5"/><circle cx="1376.8" cy="1842.47" r="3.5"/><circle cx="1337.2" cy="1832.48" r="3.5"/><circle cx="1344.4" cy="1832.48" r="3.5"/><circle cx="1351.6" cy="1832.48" r="3.5"/><circle cx="1358.8" cy="1832.48" r="3.5"/><circle cx="1333.6" cy="1828.49" r="3.5"/><circle cx="1340.8" cy="1828.49" r="3.5"/><circle cx="1348" cy="1828.49" r="3.5"/><circle cx="1355.2" cy="1828.49" r="3.5"/><circle cx="1362.4" cy="1828.49" r="3.5"/><circle cx="1340.8" cy="1824.49" r="3.5"/><circle cx="1348" cy="1824.49" r="3.5"/><circle cx="1355.2" cy="1824.49" r="3.5"/><circle cx="1340.8" cy="1812.51" r="3.5"/><circle cx="1348" cy="1812.51" r="3.5"/><circle cx="1355.2" cy="1812.51" r="3.5"/><circle cx="1344.4" cy="1808.51" r="3.5"/><circle cx="1351.6" cy="1808.51" r="3.5"/><circle cx="1337.2" cy="1796.53" r="3.5"/><circle cx="1344.4" cy="1796.53" r="3.5"/><circle cx="1351.6" cy="1796.53" r="3.5"/><circle cx="1358.8" cy="1796.53" r="3.5"/><circle cx="1344.4" cy="1788.54" r="3.5"/><circle cx="1351.6" cy="1788.54" r="3.5"/><circle cx="1344.4" cy="1784.54" r="3.5"/><circle cx="1351.6" cy="1784.54" r="3.5"/><circle cx="1344.4" cy="1776.55" r="3.5"/><circle cx="1351.6" cy="1776.55" r="3.5"/><circle cx="1340.8" cy="1768.56" r="3.5"/><circle cx="1348" cy="1768.56" r="3.5"/><circle cx="1355.2" cy="1768.56" r="3.5"/><circle cx="1348" cy="1748.59" r="3.5"/><circle cx="1348" cy="1888.41" r="3.5"/><circle cx="1348" cy="1880.42" r="3.5"/><circle cx="1348" cy="1868.44" r="3.5"/><circle cx="1348" cy="1860.45" r="3.5"/><circle cx="1348" cy="1848.46" r="3.5"/><circle cx="1348" cy="1844.47" r="3.5"/><circle cx="1348" cy="1836.48" r="3.5"/><circle cx="1348" cy="1820.5" r="3.5"/><circle cx="1348" cy="1816.5" r="3.5"/><circle cx="1348" cy="1804.52" r="3.5"/><circle cx="1348" cy="1800.52" r="3.5"/><circle cx="1348" cy="1792.53" r="3.5"/><circle cx="1348" cy="1780.55" r="3.5"/><circle cx="1348" cy="1772.56" r="3.5"/><circle cx="1348" cy="1764.57" r="3.5"/></g>
<line x1="1226" y1="1831.2" x2="1287" y2="1831.2" stroke="#b5121b" stroke-width="6.3"/>
<line x1="1317" y1="1842.3" x2="1378.6" y2="1842.3" stroke="#b5121b" stroke-width="6.3"/>
<path d="M1254.5 1607.3V1591.5H1349.1V1607.3" fill="none" stroke="#000" stroke-width="2.9"/>
<text x="1302.5" y="1582.44" font-size="18.4" text-anchor="middle" textLength="71.85" lengthAdjust="spacingAndGlyphs">p=0.0188</text>
<text x="1144" y="1943.92" font-size="25">hCry1</text>
<text x="1256.9" y="1947.21" font-size="43.5" text-anchor="middle" font-weight="bold" textLength="17.85" lengthAdjust="spacingAndGlyphs">-</text>
<text x="1351.8" y="1948.77" font-size="43.5" text-anchor="middle" font-weight="bold">+</text>
<text x="1130.14" y="1729" font-size="26.5" text-anchor="middle" transform="rotate(-90 1130.14 1729)" textLength="317.5" lengthAdjust="spacingAndGlyphs">Rad51 foci number per cell</text>
<text x="1434.28" y="1555" font-size="28" font-weight="bold" fill="#260a05">O</text>
<text x="1651" y="1553.98" font-size="24.3" text-anchor="middle" font-weight="bold">U2OS</text>
<line x1="1538" y1="1573.13" x2="1538" y2="1894.75" stroke="#000" stroke-width="2.9"/>
<line x1="1525.3" y1="1574.58" x2="1538" y2="1574.58" stroke="#000" stroke-width="2.9"/>
<text x="1520.8" y="1584.28" font-size="25.5" text-anchor="end" fill="#000">80</text>
<line x1="1525.3" y1="1654.26" x2="1538" y2="1654.26" stroke="#000" stroke-width="2.9"/>
<text x="1520.8" y="1663.96" font-size="25.5" text-anchor="end" fill="#000">60</text>
<line x1="1525.3" y1="1733.94" x2="1538" y2="1733.94" stroke="#000" stroke-width="2.9"/>
<text x="1520.8" y="1743.64" font-size="25.5" text-anchor="end" fill="#000">40</text>
<line x1="1525.3" y1="1813.62" x2="1538" y2="1813.62" stroke="#000" stroke-width="2.9"/>
<text x="1520.8" y="1823.32" font-size="25.5" text-anchor="end" fill="#000">20</text>
<line x1="1525.3" y1="1893.3" x2="1538" y2="1893.3" stroke="#000" stroke-width="2.9"/>
<text x="1520.8" y="1903" font-size="25.5" text-anchor="end" fill="#000">0</text>
<line x1="1525.3" y1="1893.3" x2="1750.5" y2="1893.3" stroke="#000" stroke-width="2.9"/>
<g fill="#000"><circle cx="1598.5" cy="1610.44" r="3.3"/><circle cx="1598.5" cy="1642.31" r="3.3"/><circle cx="1591" cy="1660.24" r="3.3"/><circle cx="1598.5" cy="1660.24" r="3.3"/><circle cx="1606" cy="1660.24" r="3.3"/><circle cx="1594.75" cy="1678.16" r="3.3"/><circle cx="1602.25" cy="1678.16" r="3.3"/><circle cx="1594.75" cy="1694.1" r="3.3"/><circle cx="1602.25" cy="1694.1" r="3.3"/><circle cx="1598.5" cy="1702.07" r="3.3"/><circle cx="1594.75" cy="1706.05" r="3.3"/><circle cx="1602.25" cy="1706.05" r="3.3"/><circle cx="1594.75" cy="1714.02" r="3.3"/><circle cx="1602.25" cy="1714.02" r="3.3"/><circle cx="1591" cy="1721.99" r="3.3"/><circle cx="1598.5" cy="1721.99" r="3.3"/><circle cx="1606" cy="1721.99" r="3.3"/><circle cx="1587.25" cy="1729.96" r="3.3"/><circle cx="1594.75" cy="1729.96" r="3.3"/><circle cx="1602.25" cy="1729.96" r="3.3"/><circle cx="1609.75" cy="1729.96" r="3.3"/><circle cx="1591" cy="1733.94" r="3.3"/><circle cx="1598.5" cy="1733.94" r="3.3"/><circle cx="1606" cy="1733.94" r="3.3"/><circle cx="1591" cy="1737.92" r="3.3"/><circle cx="1598.5" cy="1737.92" r="3.3"/><circle cx="1606" cy="1737.92" r="3.3"/><circle cx="1583.5" cy="1749.88" r="3.3"/><circle cx="1591" cy="1749.88" r="3.3"/><circle cx="1598.5" cy="1749.88" r="3.3"/><circle cx="1606" cy="1749.88" r="3.3"/><circle cx="1613.5" cy="1749.88" r="3.3"/><circle cx="1594.75" cy="1753.86" r="3.3"/><circle cx="1602.25" cy="1753.86" r="3.3"/><circle cx="1594.75" cy="1757.84" r="3.3"/><circle cx="1602.25" cy="1757.84" r="3.3"/><circle cx="1576" cy="1761.83" r="3.3"/><circle cx="1583.5" cy="1761.83" r="3.3"/><circle cx="1591" cy="1761.83" r="3.3"/><circle cx="1598.5" cy="1761.83" r="3.3"/><circle cx="1606" cy="1761.83" r="3.3"/><circle cx="1613.5" cy="1761.83" r="3.3"/><circle cx="1621" cy="1761.83" r="3.3"/><circle cx="1572.25" cy="1765.81" r="3.3"/><circle cx="1579.75" cy="1765.81" r="3.3"/><circle cx="1587.25" cy="1765.81" r="3.3"/><circle cx="1594.75" cy="1765.81" r="3.3"/><circle cx="1602.25" cy="1765.81" r="3.3"/><circle cx="1609.75" cy="1765.81" r="3.3"/><circle cx="1617.25" cy="1765.81" r="3.3"/><circle cx="1624.75" cy="1765.81" r="3.3"/><circle cx="1587.25" cy="1769.8" r="3.3"/><circle cx="1594.75" cy="1769.8" r="3.3"/><circle cx="1602.25" cy="1769.8" r="3.3"/><circle cx="1609.75" cy="1769.8" r="3.3"/><circle cx="1576" cy="1773.78" r="3.3"/><circle cx="1583.5" cy="1773.78" r="3.3"/><circle cx="1591" cy="1773.78" r="3.3"/><circle cx="1598.5" cy="1773.78" r="3.3"/><circle cx="1606" cy="1773.78" r="3.3"/><circle cx="1613.5" cy="1773.78" r="3.3"/><circle cx="1621" cy="1773.78" r="3.3"/><circle cx="1591" cy="1777.76" r="3.3"/><circle cx="1598.5" cy="1777.76" r="3.3"/><circle cx="1606" cy="1777.76" r="3.3"/><circle cx="1572.25" cy="1781.75" r="3.3"/><circle cx="1579.75" cy="1781.75" r="3.3"/><circle cx="1587.25" cy="1781.75" r="3.3"/><circle cx="1594.75" cy="1781.75" r="3.3"/><circle cx="1602.25" cy="1781.75" r="3.3"/><circle cx="1609.75" cy="1781.75" r="3.3"/><circle cx="1617.25" cy="1781.75" r="3.3"/><circle cx="1624.75" cy="1781.75" r="3.3"/><circle cx="1579.75" cy="1785.73" r="3.3"/><circle cx="1587.25" cy="1785.73" r="3.3"/><circle cx="1594.75" cy="1785.73" r="3.3"/><circle cx="1602.25" cy="1785.73" r="3.3"/><circle cx="1609.75" cy="1785.73" r="3.3"/><circle cx="1617.25" cy="1785.73" r="3.3"/><circle cx="1572.25" cy="1789.72" r="3.3"/><circle cx="1579.75" cy="1789.72" r="3.3"/><circle cx="1587.25" cy="1789.72" r="3.3"/><circle cx="1594.75" cy="1789.72" r="3.3"/><circle cx="1602.25" cy="1789.72" r="3.3"/><circle cx="1609.75" cy="1789.72" r="3.3"/><circle cx="1617.25" cy="1789.72" r="3.3"/><circle cx="1624.75" cy="1789.72" r="3.3"/><circle cx="1572.25" cy="1793.7" r="3.3"/><circle cx="1579.75" cy="1793.7" r="3.3"/><circle cx="1587.25" cy="1793.7" r="3.3"/><circle cx="1594.75" cy="1793.7" r="3.3"/><circle cx="1602.25" cy="1793.7" r="3.3"/><circle cx="1609.75" cy="1793.7" r="3.3"/><circle cx="1617.25" cy="1793.7" r="3.3"/><circle cx="1624.75" cy="1793.7" r="3.3"/><circle cx="1572.25" cy="1797.68" r="3.3"/><circle cx="1579.75" cy="1797.68" r="3.3"/><circle cx="1587.25" cy="1797.68" r="3.3"/><circle cx="1594.75" cy="1797.68" r="3.3"/><circle cx="1602.25" cy="1797.68" r="3.3"/><circle cx="1609.75" cy="1797.68" r="3.3"/><circle cx="1617.25" cy="1797.68" r="3.3"/><circle cx="1624.75" cy="1797.68" r="3.3"/><circle cx="1576" cy="1801.67" r="3.3"/><circle cx="1583.5" cy="1801.67" r="3.3"/><circle cx="1591" cy="1801.67" r="3.3"/><circle cx="1598.5" cy="1801.67" r="3.3"/><circle cx="1606" cy="1801.67" r="3.3"/><circle cx="1613.5" cy="1801.67" r="3.3"/><circle cx="1621" cy="1801.67" r="3.3"/><circle cx="1572.25" cy="1805.65" r="3.3"/><circle cx="1579.75" cy="1805.65" r="3.3"/><circle cx="1587.25" cy="1805.65" r="3.3"/><circle cx="1594.75" cy="1805.65" r="3.3"/><circle cx="1602.25" cy="1805.65" r="3.3"/><circle cx="1609.75" cy="1805.65" r="3.3"/><circle cx="1617.25" cy="1805.65" r="3.3"/><circle cx="1624.75" cy="1805.65" r="3.3"/><circle cx="1587.25" cy="1809.64" r="3.3"/><circle cx="1594.75" cy="1809.64" r="3.3"/><circle cx="1602.25" cy="1809.64" r="3.3"/><circle cx="1609.75" cy="1809.64" r="3.3"/><circle cx="1591" cy="1813.62" r="3.3"/><circle cx="1598.5" cy="1813.62" r="3.3"/><circle cx="1606" cy="1813.62" r="3.3"/><circle cx="1579.75" cy="1817.6" r="3.3"/><circle cx="1587.25" cy="1817.6" r="3.3"/><circle cx="1594.75" cy="1817.6" r="3.3"/><circle cx="1602.25" cy="1817.6" r="3.3"/><circle cx="1609.75" cy="1817.6" r="3.3"/><circle cx="1617.25" cy="1817.6" r="3.3"/><circle cx="1583.5" cy="1821.59" r="3.3"/><circle cx="1591" cy="1821.59" r="3.3"/><circle cx="1598.5" cy="1821.59" r="3.3"/><circle cx="1606" cy="1821.59" r="3.3"/><circle cx="1613.5" cy="1821.59" r="3.3"/><circle cx="1587.25" cy="1825.57" r="3.3"/><circle cx="1594.75" cy="1825.57" r="3.3"/><circle cx="1602.25" cy="1825.57" r="3.3"/><circle cx="1609.75" cy="1825.57" r="3.3"/><circle cx="1594.75" cy="1829.56" r="3.3"/><circle cx="1602.25" cy="1829.56" r="3.3"/><circle cx="1591" cy="1833.54" r="3.3"/><circle cx="1598.5" cy="1833.54" r="3.3"/><circle cx="1606" cy="1833.54" r="3.3"/><circle cx="1591" cy="1837.52" r="3.3"/><circle cx="1598.5" cy="1837.52" r="3.3"/><circle cx="1606" cy="1837.52" r="3.3"/><circle cx="1591" cy="1841.51" r="3.3"/><circle cx="1598.5" cy="1841.51" r="3.3"/><circle cx="1606" cy="1841.51" r="3.3"/><circle cx="1591" cy="1845.49" r="3.3"/><circle cx="1598.5" cy="1845.49" r="3.3"/><circle cx="1606" cy="1845.49" r="3.3"/><circle cx="1591" cy="1849.48" r="3.3"/><circle cx="1598.5" cy="1849.48" r="3.3"/><circle cx="1606" cy="1849.48" r="3.3"/><circle cx="1594.75" cy="1853.46" r="3.3"/><circle cx="1602.25" cy="1853.46" r="3.3"/><circle cx="1587.25" cy="1857.44" r="3.3"/><circle cx="1594.75" cy="1857.44" r="3.3"/><circle cx="1602.25" cy="1857.44" r="3.3"/><circle cx="1609.75" cy="1857.44" r="3.3"/><circle cx="1594.75" cy="1869.4" r="3.3"/><circle cx="1602.25" cy="1869.4" r="3.3"/><circle cx="1583.5" cy="1873.38" r="3.3"/><circle cx="1591" cy="1873.38" r="3.3"/><circle cx="1598.5" cy="1873.38" r="3.3"/><circle cx="1606" cy="1873.38" r="3.3"/><circle cx="1613.5" cy="1873.38" r="3.3"/><circle cx="1587.25" cy="1877.36" r="3.3"/><circle cx="1594.75" cy="1877.36" r="3.3"/><circle cx="1602.25" cy="1877.36" r="3.3"/><circle cx="1609.75" cy="1877.36" r="3.3"/><circle cx="1591" cy="1881.35" r="3.3"/><circle cx="1598.5" cy="1881.35" r="3.3"/><circle cx="1606" cy="1881.35" r="3.3"/><circle cx="1587.25" cy="1885.33" r="3.3"/><circle cx="1594.75" cy="1885.33" r="3.3"/><circle cx="1602.25" cy="1885.33" r="3.3"/><circle cx="1609.75" cy="1885.33" r="3.3"/><circle cx="1587.25" cy="1889.32" r="3.3"/><circle cx="1594.75" cy="1889.32" r="3.3"/><circle cx="1602.25" cy="1889.32" r="3.3"/><circle cx="1609.75" cy="1889.32" r="3.3"/><circle cx="1598.5" cy="1893.3" r="3.3"/><circle cx="1598.5" cy="1865.41" r="3.3"/><circle cx="1598.5" cy="1861.43" r="3.3"/><circle cx="1598.5" cy="1745.89" r="3.3"/><circle cx="1598.5" cy="1741.91" r="3.3"/><circle cx="1598.5" cy="1725.97" r="3.3"/><circle cx="1598.5" cy="1718" r="3.3"/><circle cx="1598.5" cy="1710.04" r="3.3"/></g>
<g fill="#000"><circle cx="1690" cy="1694.1" r="3.3"/><circle cx="1686.25" cy="1706.05" r="3.3"/><circle cx="1693.75" cy="1706.05" r="3.3"/><circle cx="1690" cy="1714.02" r="3.3"/><circle cx="1682.5" cy="1729.96" r="3.3"/><circle cx="1690" cy="1729.96" r="3.3"/><circle cx="1697.5" cy="1729.96" r="3.3"/><circle cx="1686.25" cy="1733.94" r="3.3"/><circle cx="1693.75" cy="1733.94" r="3.3"/><circle cx="1682.5" cy="1737.92" r="3.3"/><circle cx="1690" cy="1737.92" r="3.3"/><circle cx="1697.5" cy="1737.92" r="3.3"/><circle cx="1678.75" cy="1741.91" r="3.3"/><circle cx="1686.25" cy="1741.91" r="3.3"/><circle cx="1693.75" cy="1741.91" r="3.3"/><circle cx="1701.25" cy="1741.91" r="3.3"/><circle cx="1682.5" cy="1745.89" r="3.3"/><circle cx="1690" cy="1745.89" r="3.3"/><circle cx="1697.5" cy="1745.89" r="3.3"/><circle cx="1682.5" cy="1749.88" r="3.3"/><circle cx="1690" cy="1749.88" r="3.3"/><circle cx="1697.5" cy="1749.88" r="3.3"/><circle cx="1682.5" cy="1757.84" r="3.3"/><circle cx="1690" cy="1757.84" r="3.3"/><circle cx="1697.5" cy="1757.84" r="3.3"/><circle cx="1678.75" cy="1761.83" r="3.3"/><circle cx="1686.25" cy="1761.83" r="3.3"/><circle cx="1693.75" cy="1761.83" r="3.3"/><circle cx="1701.25" cy="1761.83" r="3.3"/><circle cx="1682.5" cy="1765.81" r="3.3"/><circle cx="1690" cy="1765.81" r="3.3"/><circle cx="1697.5" cy="1765.81" r="3.3"/><circle cx="1678.75" cy="1769.8" r="3.3"/><circle cx="1686.25" cy="1769.8" r="3.3"/><circle cx="1693.75" cy="1769.8" r="3.3"/><circle cx="1701.25" cy="1769.8" r="3.3"/><circle cx="1671.25" cy="1773.78" r="3.3"/><circle cx="1678.75" cy="1773.78" r="3.3"/><circle cx="1686.25" cy="1773.78" r="3.3"/><circle cx="1693.75" cy="1773.78" r="3.3"/><circle cx="1701.25" cy="1773.78" r="3.3"/><circle cx="1708.75" cy="1773.78" r="3.3"/><circle cx="1675" cy="1777.76" r="3.3"/><circle cx="1682.5" cy="1777.76" r="3.3"/><circle cx="1690" cy="1777.76" r="3.3"/><circle cx="1697.5" cy="1777.76" r="3.3"/><circle cx="1705" cy="1777.76" r="3.3"/><circle cx="1675" cy="1781.75" r="3.3"/><circle cx="1682.5" cy="1781.75" r="3.3"/><circle cx="1690" cy="1781.75" r="3.3"/><circle cx="1697.5" cy="1781.75" r="3.3"/><circle cx="1705" cy="1781.75" r="3.3"/><circle cx="1671.25" cy="1785.73" r="3.3"/><circle cx="1678.75" cy="1785.73" r="3.3"/><circle cx="1686.25" cy="1785.73" r="3.3"/><circle cx="1693.75" cy="1785.73" r="3.3"/><circle cx="1701.25" cy="1785.73" r="3.3"/><circle cx="1708.75" cy="1785.73" r="3.3"/><circle cx="1671.25" cy="1789.72" r="3.3"/><circle cx="1678.75" cy="1789.72" r="3.3"/><circle cx="1686.25" cy="1789.72" r="3.3"/><circle cx="1693.75" cy="1789.72" r="3.3"/><circle cx="1701.25" cy="1789.72" r="3.3"/><circle cx="1708.75" cy="1789.72" r="3.3"/><circle cx="1667.5" cy="1793.7" r="3.3"/><circle cx="1675" cy="1793.7" r="3.3"/><circle cx="1682.5" cy="1793.7" r="3.3"/><circle cx="1690" cy="1793.7" r="3.3"/><circle cx="1697.5" cy="1793.7" r="3.3"/><circle cx="1705" cy="1793.7" r="3.3"/><circle cx="1712.5" cy="1793.7" r="3.3"/><circle cx="1671.25" cy="1797.68" r="3.3"/><circle cx="1678.75" cy="1797.68" r="3.3"/><circle cx="1686.25" cy="1797.68" r="3.3"/><circle cx="1693.75" cy="1797.68" r="3.3"/><circle cx="1701.25" cy="1797.68" r="3.3"/><circle cx="1708.75" cy="1797.68" r="3.3"/><circle cx="1663.75" cy="1801.67" r="3.3"/><circle cx="1671.25" cy="1801.67" r="3.3"/><circle cx="1678.75" cy="1801.67" r="3.3"/><circle cx="1686.25" cy="1801.67" r="3.3"/><circle cx="1693.75" cy="1801.67" r="3.3"/><circle cx="1701.25" cy="1801.67" r="3.3"/><circle cx="1708.75" cy="1801.67" r="3.3"/><circle cx="1716.25" cy="1801.67" r="3.3"/><circle cx="1663.75" cy="1805.65" r="3.3"/><circle cx="1671.25" cy="1805.65" r="3.3"/><circle cx="1678.75" cy="1805.65" r="3.3"/><circle cx="1686.25" cy="1805.65" r="3.3"/><circle cx="1693.75" cy="1805.65" r="3.3"/><circle cx="1701.25" cy="1805.65" r="3.3"/><circle cx="1708.75" cy="1805.65" r="3.3"/><circle cx="1716.25" cy="1805.65" r="3.3"/><circle cx="1663.75" cy="1809.64" r="3.3"/><circle cx="1671.25" cy="1809.64" r="3.3"/><circle cx="1678.75" cy="1809.64" r="3.3"/><circle cx="1686.25" cy="1809.64" r="3.3"/><circle cx="1693.75" cy="1809.64" r="3.3"/><circle cx="1701.25" cy="1809.64" r="3.3"/><circle cx="1708.75" cy="1809.64" r="3.3"/><circle cx="1716.25" cy="1809.64" r="3.3"/><circle cx="1675" cy="1813.62" r="3.3"/><circle cx="1682.5" cy="1813.62" r="3.3"/><circle cx="1690" cy="1813.62" r="3.3"/><circle cx="1697.5" cy="1813.62" r="3.3"/><circle cx="1705" cy="1813.62" r="3.3"/><circle cx="1671.25" cy="1817.6" r="3.3"/><circle cx="1678.75" cy="1817.6" r="3.3"/><circle cx="1686.25" cy="1817.6" r="3.3"/><circle cx="1693.75" cy="1817.6" r="3.3"/><circle cx="1701.25" cy="1817.6" r="3.3"/><circle cx="1708.75" cy="1817.6" r="3.3"/><circle cx="1667.5" cy="1821.59" r="3.3"/><circle cx="1675" cy="1821.59" r="3.3"/><circle cx="1682.5" cy="1821.59" r="3.3"/><circle cx="1690" cy="1821.59" r="3.3"/><circle cx="1697.5" cy="1821.59" r="3.3"/><circle cx="1705" cy="1821.59" r="3.3"/><circle cx="1712.5" cy="1821.59" r="3.3"/><circle cx="1671.25" cy="1825.57" r="3.3"/><circle cx="1678.75" cy="1825.57" r="3.3"/><circle cx="1686.25" cy="1825.57" r="3.3"/><circle cx="1693.75" cy="1825.57" r="3.3"/><circle cx="1701.25" cy="1825.57" r="3.3"/><circle cx="1708.75" cy="1825.57" r="3.3"/><circle cx="1678.75" cy="1829.56" r="3.3"/><circle cx="1686.25" cy="1829.56" r="3.3"/><circle cx="1693.75" cy="1829.56" r="3.3"/><circle cx="1701.25" cy="1829.56" r="3.3"/><circle cx="1663.75" cy="1833.54" r="3.3"/><circle cx="1671.25" cy="1833.54" r="3.3"/><circle cx="1678.75" cy="1833.54" r="3.3"/><circle cx="1686.25" cy="1833.54" r="3.3"/><circle cx="1693.75" cy="1833.54" r="3.3"/><circle cx="1701.25" cy="1833.54" r="3.3"/><circle cx="1708.75" cy="1833.54" r="3.3"/><circle cx="1716.25" cy="1833.54" r="3.3"/><circle cx="1675" cy="1837.52" r="3.3"/><circle cx="1682.5" cy="1837.52" r="3.3"/><circle cx="1690" cy="1837.52" r="3.3"/><circle cx="1697.5" cy="1837.52" r="3.3"/><circle cx="1705" cy="1837.52" r="3.3"/><circle cx="1663.75" cy="1841.51" r="3.3"/><circle cx="1671.25" cy="1841.51" r="3.3"/><circle cx="1678.75" cy="1841.51" r="3.3"/><circle cx="1686.25" cy="1841.51" r="3.3"/><circle cx="1693.75" cy="1841.51" r="3.3"/><circle cx="1701.25" cy="1841.51" r="3.3"/><circle cx="1708.75" cy="1841.51" r="3.3"/><circle cx="1716.25" cy="1841.51" r="3.3"/><circle cx="1678.75" cy="1845.49" r="3.3"/><circle cx="1686.25" cy="1845.49" r="3.3"/><circle cx="1693.75" cy="1845.49" r="3.3"/><circle cx="1701.25" cy="1845.49" r="3.3"/><circle cx="1675" cy="1849.48" r="3.3"/><circle cx="1682.5" cy="1849.48" r="3.3"/><circle cx="1690" cy="1849.48" r="3.3"/><circle cx="1697.5" cy="1849.48" r="3.3"/><circle cx="1705" cy="1849.48" r="3.3"/><circle cx="1671.25" cy="1853.46" r="3.3"/><circle cx="1678.75" cy="1853.46" r="3.3"/><circle cx="1686.25" cy="1853.46" r="3.3"/><circle cx="1693.75" cy="1853.46" r="3.3"/><circle cx="1701.25" cy="1853.46" r="3.3"/><circle cx="1708.75" cy="1853.46" r="3.3"/><circle cx="1675" cy="1857.44" r="3.3"/><circle cx="1682.5" cy="1857.44" r="3.3"/><circle cx="1690" cy="1857.44" r="3.3"/><circle cx="1697.5" cy="1857.44" r="3.3"/><circle cx="1705" cy="1857.44" r="3.3"/><circle cx="1671.25" cy="1861.43" r="3.3"/><circle cx="1678.75" cy="1861.43" r="3.3"/><circle cx="1686.25" cy="1861.43" r="3.3"/><circle cx="1693.75" cy="1861.43" r="3.3"/><circle cx="1701.25" cy="1861.43" r="3.3"/><circle cx="1708.75" cy="1861.43" r="3.3"/><circle cx="1682.5" cy="1865.41" r="3.3"/><circle cx="1690" cy="1865.41" r="3.3"/><circle cx="1697.5" cy="1865.41" r="3.3"/><circle cx="1682.5" cy="1869.4" r="3.3"/><circle cx="1690" cy="1869.4" r="3.3"/><circle cx="1697.5" cy="1869.4" r="3.3"/><circle cx="1682.5" cy="1873.38" r="3.3"/><circle cx="1690" cy="1873.38" r="3.3"/><circle cx="1697.5" cy="1873.38" r="3.3"/><circle cx="1675" cy="1877.36" r="3.3"/><circle cx="1682.5" cy="1877.36" r="3.3"/><circle cx="1690" cy="1877.36" r="3.3"/><circle cx="1697.5" cy="1877.36" r="3.3"/><circle cx="1705" cy="1877.36" r="3.3"/><circle cx="1678.75" cy="1881.35" r="3.3"/><circle cx="1686.25" cy="1881.35" r="3.3"/><circle cx="1693.75" cy="1881.35" r="3.3"/><circle cx="1701.25" cy="1881.35" r="3.3"/><circle cx="1682.5" cy="1885.33" r="3.3"/><circle cx="1690" cy="1885.33" r="3.3"/><circle cx="1697.5" cy="1885.33" r="3.3"/><circle cx="1682.5" cy="1889.32" r="3.3"/><circle cx="1690" cy="1889.32" r="3.3"/><circle cx="1697.5" cy="1889.32" r="3.3"/><circle cx="1682.5" cy="1893.3" r="3.3"/><circle cx="1690" cy="1893.3" r="3.3"/><circle cx="1697.5" cy="1893.3" r="3.3"/><circle cx="1690" cy="1753.86" r="3.3"/></g>
<line x1="1568.6" y1="1791.2" x2="1629" y2="1791.2" stroke="#b5121b" stroke-width="2.6"/>
<line x1="1659.6" y1="1813" x2="1719.9" y2="1813" stroke="#b5121b" stroke-width="2.6"/>
<line x1="1600" y1="1582.4" x2="1684" y2="1582.4" stroke="#000" stroke-width="2.6" stroke-linecap="round"/>
<text x="1645.8" y="1576.4" font-size="18.3" text-anchor="middle" textLength="70.69" lengthAdjust="spacingAndGlyphs">p&lt;0.0001</text>
<text x="1597.4" y="1924.89" font-size="27.5" text-anchor="middle">siNT</text>
<text x="1698" y="1924.54" font-size="26.5" text-anchor="middle">siCRY1</text>
<text x="1475.8" y="1722.4" font-size="25.5" text-anchor="middle" transform="rotate(-90 1475.8 1722.4)" textLength="284.5" lengthAdjust="spacingAndGlyphs">RIF1 foci number per cell</text>
<text x="-1.7" y="1994.7" font-size="37.2" font-weight="bold" fill="#260a05">P</text>
<line x1="90.8" y1="2025.65" x2="90.8" y2="2348.15" stroke="#000" stroke-width="2.5"/>
<line x1="77.4" y1="2026.9" x2="90.8" y2="2026.9" stroke="#000" stroke-width="2.5"/>
<text x="74.5" y="2037.12" font-size="27" text-anchor="end" fill="#000">50</text>
<line x1="77.4" y1="2090.9" x2="90.8" y2="2090.9" stroke="#000" stroke-width="2.5"/>
<text x="74.5" y="2101.12" font-size="27" text-anchor="end" fill="#000">40</text>
<line x1="77.4" y1="2154.9" x2="90.8" y2="2154.9" stroke="#000" stroke-width="2.5"/>
<text x="74.5" y="2165.12" font-size="27" text-anchor="end" fill="#000">30</text>
<line x1="77.4" y1="2218.9" x2="90.8" y2="2218.9" stroke="#000" stroke-width="2.5"/>
<text x="74.5" y="2229.12" font-size="27" text-anchor="end" fill="#000">20</text>
<line x1="77.4" y1="2282.9" x2="90.8" y2="2282.9" stroke="#000" stroke-width="2.5"/>
<text x="74.5" y="2293.12" font-size="27" text-anchor="end" fill="#000">10</text>
<line x1="77.4" y1="2346.9" x2="90.8" y2="2346.9" stroke="#000" stroke-width="2.5"/>
<text x="74.5" y="2357.12" font-size="27" text-anchor="end" fill="#000">0</text>
<line x1="77.4" y1="2346.9" x2="304.9" y2="2346.9" stroke="#000" stroke-width="2.5"/>
<g fill="#000"><circle cx="130.1" cy="2346.9" r="3.7"/><circle cx="134.28" cy="2346.9" r="3.7"/><circle cx="138.46" cy="2346.9" r="3.7"/><circle cx="142.64" cy="2346.9" r="3.7"/><circle cx="146.82" cy="2346.9" r="3.7"/><circle cx="151" cy="2346.9" r="3.7"/><circle cx="155.18" cy="2346.9" r="3.7"/><circle cx="159.36" cy="2346.9" r="3.7"/><circle cx="163.54" cy="2346.9" r="3.7"/><circle cx="167.72" cy="2346.9" r="3.7"/><circle cx="171.9" cy="2346.9" r="3.7"/><circle cx="133.04" cy="2340.5" r="3.7"/><circle cx="137.03" cy="2340.5" r="3.7"/><circle cx="141.02" cy="2340.5" r="3.7"/><circle cx="145.01" cy="2340.5" r="3.7"/><circle cx="149" cy="2340.5" r="3.7"/><circle cx="153" cy="2340.5" r="3.7"/><circle cx="156.99" cy="2340.5" r="3.7"/><circle cx="160.98" cy="2340.5" r="3.7"/><circle cx="164.97" cy="2340.5" r="3.7"/><circle cx="168.96" cy="2340.5" r="3.7"/><circle cx="133.04" cy="2334.1" r="3.7"/><circle cx="137.03" cy="2334.1" r="3.7"/><circle cx="141.02" cy="2334.1" r="3.7"/><circle cx="145.01" cy="2334.1" r="3.7"/><circle cx="149" cy="2334.1" r="3.7"/><circle cx="153" cy="2334.1" r="3.7"/><circle cx="156.99" cy="2334.1" r="3.7"/><circle cx="160.98" cy="2334.1" r="3.7"/><circle cx="164.97" cy="2334.1" r="3.7"/><circle cx="168.96" cy="2334.1" r="3.7"/><circle cx="137.88" cy="2327.7" r="3.7"/><circle cx="142.25" cy="2327.7" r="3.7"/><circle cx="146.63" cy="2327.7" r="3.7"/><circle cx="151" cy="2327.7" r="3.7"/><circle cx="155.37" cy="2327.7" r="3.7"/><circle cx="159.75" cy="2327.7" r="3.7"/><circle cx="164.12" cy="2327.7" r="3.7"/><circle cx="136.83" cy="2321.3" r="3.7"/><circle cx="140.88" cy="2321.3" r="3.7"/><circle cx="144.93" cy="2321.3" r="3.7"/><circle cx="148.98" cy="2321.3" r="3.7"/><circle cx="153.02" cy="2321.3" r="3.7"/><circle cx="157.07" cy="2321.3" r="3.7"/><circle cx="161.12" cy="2321.3" r="3.7"/><circle cx="165.17" cy="2321.3" r="3.7"/><circle cx="131.57" cy="2314.9" r="3.7"/><circle cx="135.89" cy="2314.9" r="3.7"/><circle cx="140.21" cy="2314.9" r="3.7"/><circle cx="144.52" cy="2314.9" r="3.7"/><circle cx="148.84" cy="2314.9" r="3.7"/><circle cx="153.16" cy="2314.9" r="3.7"/><circle cx="157.48" cy="2314.9" r="3.7"/><circle cx="161.79" cy="2314.9" r="3.7"/><circle cx="166.11" cy="2314.9" r="3.7"/><circle cx="170.43" cy="2314.9" r="3.7"/><circle cx="130.1" cy="2308.5" r="3.7"/><circle cx="134.28" cy="2308.5" r="3.7"/><circle cx="138.46" cy="2308.5" r="3.7"/><circle cx="142.64" cy="2308.5" r="3.7"/><circle cx="146.82" cy="2308.5" r="3.7"/><circle cx="151" cy="2308.5" r="3.7"/><circle cx="155.18" cy="2308.5" r="3.7"/><circle cx="159.36" cy="2308.5" r="3.7"/><circle cx="163.54" cy="2308.5" r="3.7"/><circle cx="167.72" cy="2308.5" r="3.7"/><circle cx="171.9" cy="2308.5" r="3.7"/><circle cx="131.57" cy="2302.1" r="3.7"/><circle cx="135.89" cy="2302.1" r="3.7"/><circle cx="140.21" cy="2302.1" r="3.7"/><circle cx="144.52" cy="2302.1" r="3.7"/><circle cx="148.84" cy="2302.1" r="3.7"/><circle cx="153.16" cy="2302.1" r="3.7"/><circle cx="157.48" cy="2302.1" r="3.7"/><circle cx="161.79" cy="2302.1" r="3.7"/><circle cx="166.11" cy="2302.1" r="3.7"/><circle cx="170.43" cy="2302.1" r="3.7"/><circle cx="124.84" cy="2295.7" r="3.7"/><circle cx="129.2" cy="2295.7" r="3.7"/><circle cx="133.56" cy="2295.7" r="3.7"/><circle cx="137.92" cy="2295.7" r="3.7"/><circle cx="142.28" cy="2295.7" r="3.7"/><circle cx="146.64" cy="2295.7" r="3.7"/><circle cx="151" cy="2295.7" r="3.7"/><circle cx="155.36" cy="2295.7" r="3.7"/><circle cx="159.72" cy="2295.7" r="3.7"/><circle cx="164.08" cy="2295.7" r="3.7"/><circle cx="168.44" cy="2295.7" r="3.7"/><circle cx="172.8" cy="2295.7" r="3.7"/><circle cx="177.16" cy="2295.7" r="3.7"/><circle cx="130.1" cy="2289.3" r="3.7"/><circle cx="134.28" cy="2289.3" r="3.7"/><circle cx="138.46" cy="2289.3" r="3.7"/><circle cx="142.64" cy="2289.3" r="3.7"/><circle cx="146.82" cy="2289.3" r="3.7"/><circle cx="151" cy="2289.3" r="3.7"/><circle cx="155.18" cy="2289.3" r="3.7"/><circle cx="159.36" cy="2289.3" r="3.7"/><circle cx="163.54" cy="2289.3" r="3.7"/><circle cx="167.72" cy="2289.3" r="3.7"/><circle cx="171.9" cy="2289.3" r="3.7"/><circle cx="131.57" cy="2282.9" r="3.7"/><circle cx="135.89" cy="2282.9" r="3.7"/><circle cx="140.21" cy="2282.9" r="3.7"/><circle cx="144.52" cy="2282.9" r="3.7"/><circle cx="148.84" cy="2282.9" r="3.7"/><circle cx="153.16" cy="2282.9" r="3.7"/><circle cx="157.48" cy="2282.9" r="3.7"/><circle cx="161.79" cy="2282.9" r="3.7"/><circle cx="166.11" cy="2282.9" r="3.7"/><circle cx="170.43" cy="2282.9" r="3.7"/><circle cx="133.04" cy="2276.5" r="3.7"/><circle cx="137.03" cy="2276.5" r="3.7"/><circle cx="141.02" cy="2276.5" r="3.7"/><circle cx="145.01" cy="2276.5" r="3.7"/><circle cx="149" cy="2276.5" r="3.7"/><circle cx="153" cy="2276.5" r="3.7"/><circle cx="156.99" cy="2276.5" r="3.7"/><circle cx="160.98" cy="2276.5" r="3.7"/><circle cx="164.97" cy="2276.5" r="3.7"/><circle cx="168.96" cy="2276.5" r="3.7"/><circle cx="133.04" cy="2270.1" r="3.7"/><circle cx="137.03" cy="2270.1" r="3.7"/><circle cx="141.02" cy="2270.1" r="3.7"/><circle cx="145.01" cy="2270.1" r="3.7"/><circle cx="149" cy="2270.1" r="3.7"/><circle cx="153" cy="2270.1" r="3.7"/><circle cx="156.99" cy="2270.1" r="3.7"/><circle cx="160.98" cy="2270.1" r="3.7"/><circle cx="164.97" cy="2270.1" r="3.7"/><circle cx="168.96" cy="2270.1" r="3.7"/><circle cx="135.15" cy="2263.7" r="3.7"/><circle cx="139.11" cy="2263.7" r="3.7"/><circle cx="143.07" cy="2263.7" r="3.7"/><circle cx="147.04" cy="2263.7" r="3.7"/><circle cx="151" cy="2263.7" r="3.7"/><circle cx="154.96" cy="2263.7" r="3.7"/><circle cx="158.93" cy="2263.7" r="3.7"/><circle cx="162.89" cy="2263.7" r="3.7"/><circle cx="166.85" cy="2263.7" r="3.7"/><circle cx="137.88" cy="2257.3" r="3.7"/><circle cx="142.25" cy="2257.3" r="3.7"/><circle cx="146.63" cy="2257.3" r="3.7"/><circle cx="151" cy="2257.3" r="3.7"/><circle cx="155.37" cy="2257.3" r="3.7"/><circle cx="159.75" cy="2257.3" r="3.7"/><circle cx="164.12" cy="2257.3" r="3.7"/><circle cx="143.56" cy="2250.9" r="3.7"/><circle cx="147.28" cy="2250.9" r="3.7"/><circle cx="151" cy="2250.9" r="3.7"/><circle cx="154.72" cy="2250.9" r="3.7"/><circle cx="158.44" cy="2250.9" r="3.7"/><circle cx="136.83" cy="2244.5" r="3.7"/><circle cx="140.88" cy="2244.5" r="3.7"/><circle cx="144.93" cy="2244.5" r="3.7"/><circle cx="148.98" cy="2244.5" r="3.7"/><circle cx="153.02" cy="2244.5" r="3.7"/><circle cx="157.07" cy="2244.5" r="3.7"/><circle cx="161.12" cy="2244.5" r="3.7"/><circle cx="165.17" cy="2244.5" r="3.7"/><circle cx="148.39" cy="2238.1" r="3.7"/><circle cx="153.61" cy="2238.1" r="3.7"/><circle cx="151" cy="2225.3" r="3.7"/><circle cx="148.39" cy="2218.9" r="3.7"/><circle cx="153.61" cy="2218.9" r="3.7"/><circle cx="146.5" cy="2212.5" r="3.7"/><circle cx="151" cy="2212.5" r="3.7"/><circle cx="155.5" cy="2212.5" r="3.7"/><circle cx="143.56" cy="2206.1" r="3.7"/><circle cx="147.28" cy="2206.1" r="3.7"/><circle cx="151" cy="2206.1" r="3.7"/><circle cx="154.72" cy="2206.1" r="3.7"/><circle cx="158.44" cy="2206.1" r="3.7"/><circle cx="151" cy="2193.3" r="3.7"/><circle cx="151" cy="2174.1" r="3.7"/><circle cx="151" cy="2167.7" r="3.7"/><circle cx="151" cy="2142.1" r="3.7"/><circle cx="151" cy="2129.3" r="3.7"/><circle cx="151" cy="2065.3" r="3.7"/></g>
<g fill="#000"><circle cx="235.04" cy="2346.9" r="3.7"/><circle cx="238.97" cy="2346.9" r="3.7"/><circle cx="242.9" cy="2346.9" r="3.7"/><circle cx="246.83" cy="2346.9" r="3.7"/><circle cx="250.76" cy="2346.9" r="3.7"/><circle cx="228.73" cy="2340.5" r="3.7"/><circle cx="232.78" cy="2340.5" r="3.7"/><circle cx="236.83" cy="2340.5" r="3.7"/><circle cx="240.88" cy="2340.5" r="3.7"/><circle cx="244.92" cy="2340.5" r="3.7"/><circle cx="248.97" cy="2340.5" r="3.7"/><circle cx="253.02" cy="2340.5" r="3.7"/><circle cx="257.07" cy="2340.5" r="3.7"/><circle cx="238.19" cy="2334.1" r="3.7"/><circle cx="242.9" cy="2334.1" r="3.7"/><circle cx="247.61" cy="2334.1" r="3.7"/><circle cx="223.89" cy="2327.7" r="3.7"/><circle cx="228.12" cy="2327.7" r="3.7"/><circle cx="232.34" cy="2327.7" r="3.7"/><circle cx="236.56" cy="2327.7" r="3.7"/><circle cx="240.79" cy="2327.7" r="3.7"/><circle cx="245.01" cy="2327.7" r="3.7"/><circle cx="249.24" cy="2327.7" r="3.7"/><circle cx="253.46" cy="2327.7" r="3.7"/><circle cx="257.68" cy="2327.7" r="3.7"/><circle cx="261.91" cy="2327.7" r="3.7"/><circle cx="223.89" cy="2321.3" r="3.7"/><circle cx="228.12" cy="2321.3" r="3.7"/><circle cx="232.34" cy="2321.3" r="3.7"/><circle cx="236.56" cy="2321.3" r="3.7"/><circle cx="240.79" cy="2321.3" r="3.7"/><circle cx="245.01" cy="2321.3" r="3.7"/><circle cx="249.24" cy="2321.3" r="3.7"/><circle cx="253.46" cy="2321.3" r="3.7"/><circle cx="257.68" cy="2321.3" r="3.7"/><circle cx="261.91" cy="2321.3" r="3.7"/><circle cx="232.93" cy="2314.9" r="3.7"/><circle cx="236.92" cy="2314.9" r="3.7"/><circle cx="240.91" cy="2314.9" r="3.7"/><circle cx="244.89" cy="2314.9" r="3.7"/><circle cx="248.88" cy="2314.9" r="3.7"/><circle cx="252.87" cy="2314.9" r="3.7"/><circle cx="230.83" cy="2308.5" r="3.7"/><circle cx="234.85" cy="2308.5" r="3.7"/><circle cx="238.88" cy="2308.5" r="3.7"/><circle cx="242.9" cy="2308.5" r="3.7"/><circle cx="246.92" cy="2308.5" r="3.7"/><circle cx="250.95" cy="2308.5" r="3.7"/><circle cx="254.97" cy="2308.5" r="3.7"/><circle cx="230.83" cy="2302.1" r="3.7"/><circle cx="234.85" cy="2302.1" r="3.7"/><circle cx="238.88" cy="2302.1" r="3.7"/><circle cx="242.9" cy="2302.1" r="3.7"/><circle cx="246.92" cy="2302.1" r="3.7"/><circle cx="250.95" cy="2302.1" r="3.7"/><circle cx="254.97" cy="2302.1" r="3.7"/><circle cx="230.83" cy="2295.7" r="3.7"/><circle cx="234.85" cy="2295.7" r="3.7"/><circle cx="238.88" cy="2295.7" r="3.7"/><circle cx="242.9" cy="2295.7" r="3.7"/><circle cx="246.92" cy="2295.7" r="3.7"/><circle cx="250.95" cy="2295.7" r="3.7"/><circle cx="254.97" cy="2295.7" r="3.7"/><circle cx="226.63" cy="2289.3" r="3.7"/><circle cx="230.69" cy="2289.3" r="3.7"/><circle cx="234.76" cy="2289.3" r="3.7"/><circle cx="238.83" cy="2289.3" r="3.7"/><circle cx="242.9" cy="2289.3" r="3.7"/><circle cx="246.97" cy="2289.3" r="3.7"/><circle cx="251.04" cy="2289.3" r="3.7"/><circle cx="255.11" cy="2289.3" r="3.7"/><circle cx="259.17" cy="2289.3" r="3.7"/><circle cx="230.41" cy="2282.9" r="3.7"/><circle cx="234.57" cy="2282.9" r="3.7"/><circle cx="238.74" cy="2282.9" r="3.7"/><circle cx="242.9" cy="2282.9" r="3.7"/><circle cx="247.06" cy="2282.9" r="3.7"/><circle cx="251.23" cy="2282.9" r="3.7"/><circle cx="255.39" cy="2282.9" r="3.7"/><circle cx="228.73" cy="2276.5" r="3.7"/><circle cx="232.78" cy="2276.5" r="3.7"/><circle cx="236.83" cy="2276.5" r="3.7"/><circle cx="240.88" cy="2276.5" r="3.7"/><circle cx="244.92" cy="2276.5" r="3.7"/><circle cx="248.97" cy="2276.5" r="3.7"/><circle cx="253.02" cy="2276.5" r="3.7"/><circle cx="257.07" cy="2276.5" r="3.7"/><circle cx="230.41" cy="2270.1" r="3.7"/><circle cx="234.57" cy="2270.1" r="3.7"/><circle cx="238.74" cy="2270.1" r="3.7"/><circle cx="242.9" cy="2270.1" r="3.7"/><circle cx="247.06" cy="2270.1" r="3.7"/><circle cx="251.23" cy="2270.1" r="3.7"/><circle cx="255.39" cy="2270.1" r="3.7"/><circle cx="224.1" cy="2263.7" r="3.7"/><circle cx="228.28" cy="2263.7" r="3.7"/><circle cx="232.46" cy="2263.7" r="3.7"/><circle cx="236.63" cy="2263.7" r="3.7"/><circle cx="240.81" cy="2263.7" r="3.7"/><circle cx="244.99" cy="2263.7" r="3.7"/><circle cx="249.17" cy="2263.7" r="3.7"/><circle cx="253.34" cy="2263.7" r="3.7"/><circle cx="257.52" cy="2263.7" r="3.7"/><circle cx="261.7" cy="2263.7" r="3.7"/><circle cx="226.84" cy="2257.3" r="3.7"/><circle cx="230.85" cy="2257.3" r="3.7"/><circle cx="234.87" cy="2257.3" r="3.7"/><circle cx="238.88" cy="2257.3" r="3.7"/><circle cx="242.9" cy="2257.3" r="3.7"/><circle cx="246.92" cy="2257.3" r="3.7"/><circle cx="250.93" cy="2257.3" r="3.7"/><circle cx="254.95" cy="2257.3" r="3.7"/><circle cx="258.96" cy="2257.3" r="3.7"/><circle cx="216.74" cy="2250.9" r="3.7"/><circle cx="221.1" cy="2250.9" r="3.7"/><circle cx="225.46" cy="2250.9" r="3.7"/><circle cx="229.82" cy="2250.9" r="3.7"/><circle cx="234.18" cy="2250.9" r="3.7"/><circle cx="238.54" cy="2250.9" r="3.7"/><circle cx="242.9" cy="2250.9" r="3.7"/><circle cx="247.26" cy="2250.9" r="3.7"/><circle cx="251.62" cy="2250.9" r="3.7"/><circle cx="255.98" cy="2250.9" r="3.7"/><circle cx="260.34" cy="2250.9" r="3.7"/><circle cx="264.7" cy="2250.9" r="3.7"/><circle cx="269.06" cy="2250.9" r="3.7"/><circle cx="232.93" cy="2244.5" r="3.7"/><circle cx="236.92" cy="2244.5" r="3.7"/><circle cx="240.91" cy="2244.5" r="3.7"/><circle cx="244.89" cy="2244.5" r="3.7"/><circle cx="248.88" cy="2244.5" r="3.7"/><circle cx="252.87" cy="2244.5" r="3.7"/><circle cx="230.41" cy="2238.1" r="3.7"/><circle cx="234.57" cy="2238.1" r="3.7"/><circle cx="238.74" cy="2238.1" r="3.7"/><circle cx="242.9" cy="2238.1" r="3.7"/><circle cx="247.06" cy="2238.1" r="3.7"/><circle cx="251.23" cy="2238.1" r="3.7"/><circle cx="255.39" cy="2238.1" r="3.7"/><circle cx="232.93" cy="2231.7" r="3.7"/><circle cx="236.92" cy="2231.7" r="3.7"/><circle cx="240.91" cy="2231.7" r="3.7"/><circle cx="244.89" cy="2231.7" r="3.7"/><circle cx="248.88" cy="2231.7" r="3.7"/><circle cx="252.87" cy="2231.7" r="3.7"/><circle cx="236.09" cy="2225.3" r="3.7"/><circle cx="240.63" cy="2225.3" r="3.7"/><circle cx="245.17" cy="2225.3" r="3.7"/><circle cx="249.71" cy="2225.3" r="3.7"/><circle cx="240.29" cy="2218.9" r="3.7"/><circle cx="245.51" cy="2218.9" r="3.7"/><circle cx="236.09" cy="2212.5" r="3.7"/><circle cx="240.63" cy="2212.5" r="3.7"/><circle cx="245.17" cy="2212.5" r="3.7"/><circle cx="249.71" cy="2212.5" r="3.7"/><circle cx="239.24" cy="2206.1" r="3.7"/><circle cx="242.9" cy="2206.1" r="3.7"/><circle cx="246.56" cy="2206.1" r="3.7"/><circle cx="242.9" cy="2199.7" r="3.7"/><circle cx="242.9" cy="2186.9" r="3.7"/><circle cx="242.9" cy="2180.5" r="3.7"/><circle cx="242.9" cy="2167.7" r="3.7"/><circle cx="242.9" cy="2161.3" r="3.7"/><circle cx="242.9" cy="2148.5" r="3.7"/><circle cx="242.9" cy="2122.9" r="3.7"/><circle cx="242.9" cy="2090.9" r="3.7"/></g>
<line x1="121" y1="2288.4" x2="181.9" y2="2288.4" stroke="#b5121b" stroke-width="2.5"/>
<line x1="212.4" y1="2276.4" x2="273.3" y2="2276.4" stroke="#b5121b" stroke-width="2.5"/>
<line x1="161.9" y1="2032.5" x2="246.4" y2="2032.5" stroke="#000" stroke-width="2.5" stroke-linecap="round"/>
<text x="204" y="2026.64" font-size="18.4" text-anchor="middle" textLength="71.85" lengthAdjust="spacingAndGlyphs">p=0.0046</text>
<text x="17.9" y="2383.99" font-size="25.2">hCry1</text>
<text x="149.3" y="2386.61" font-size="43.5" text-anchor="middle" font-weight="bold" textLength="16.78" lengthAdjust="spacingAndGlyphs">-</text>
<text x="243.9" y="2389.27" font-size="43.5" text-anchor="middle" font-weight="bold">+</text>
<text x="28.83" y="2178.7" font-size="25.6" text-anchor="middle" transform="rotate(-90 28.83 2178.7)" textLength="286" lengthAdjust="spacingAndGlyphs">RIF1 foci number per cell</text>
<text x="324.11" y="1994.5" font-size="37.2" font-weight="bold" fill="#260a05">Q</text>
<line x1="449.4" y1="2007.8" x2="449.4" y2="2332.2" stroke="#000" stroke-width="3.2"/>
<line x1="433.7" y1="2009.4" x2="449.4" y2="2009.4" stroke="#000" stroke-width="3.2"/>
<text x="432.2" y="2019.1" font-size="25.5" text-anchor="end" font-weight="bold" fill="#000">100</text>
<line x1="433.7" y1="2073.64" x2="449.4" y2="2073.64" stroke="#000" stroke-width="3.2"/>
<text x="432.2" y="2083.34" font-size="25.5" text-anchor="end" font-weight="bold" fill="#000">80</text>
<line x1="433.7" y1="2137.88" x2="449.4" y2="2137.88" stroke="#000" stroke-width="3.2"/>
<text x="432.2" y="2147.58" font-size="25.5" text-anchor="end" font-weight="bold" fill="#000">60</text>
<line x1="433.7" y1="2202.12" x2="449.4" y2="2202.12" stroke="#000" stroke-width="3.2"/>
<text x="432.2" y="2211.82" font-size="25.5" text-anchor="end" font-weight="bold" fill="#000">40</text>
<line x1="433.7" y1="2266.36" x2="449.4" y2="2266.36" stroke="#000" stroke-width="3.2"/>
<text x="432.2" y="2276.06" font-size="25.5" text-anchor="end" font-weight="bold" fill="#000">20</text>
<line x1="433.7" y1="2330.6" x2="449.4" y2="2330.6" stroke="#000" stroke-width="3.2"/>
<text x="432.2" y="2340.3" font-size="25.5" text-anchor="end" font-weight="bold" fill="#000">0</text>
<line x1="433.7" y1="2330.6" x2="931.7" y2="2330.6" stroke="#000" stroke-width="3.2"/>
<line x1="448.6" y1="2330.6" x2="448.6" y2="2340" stroke="#000" stroke-width="3.2"/>
<text x="448.6" y="2369.59" font-size="22" text-anchor="middle" font-weight="bold" fill="#000">0</text>
<line x1="568.87" y1="2330.6" x2="568.87" y2="2340" stroke="#000" stroke-width="3.2"/>
<text x="568.87" y="2369.59" font-size="22" text-anchor="middle" font-weight="bold" fill="#000">6</text>
<line x1="689.14" y1="2330.6" x2="689.14" y2="2340" stroke="#000" stroke-width="3.2"/>
<text x="689.14" y="2369.59" font-size="22" text-anchor="middle" font-weight="bold" fill="#000">12</text>
<line x1="809.41" y1="2330.6" x2="809.41" y2="2340" stroke="#000" stroke-width="3.2"/>
<text x="809.41" y="2369.59" font-size="22" text-anchor="middle" font-weight="bold" fill="#000">18</text>
<line x1="929.68" y1="2330.6" x2="929.68" y2="2340" stroke="#000" stroke-width="3.2"/>
<text x="929.68" y="2369.59" font-size="22" text-anchor="middle" font-weight="bold" fill="#000">24</text>
<text x="689.7" y="2411.11" font-size="26.4" text-anchor="middle" font-weight="bold" fill="#000">Time after IR (hr)</text>
<text x="379.31" y="2171" font-size="26.4" text-anchor="middle" font-weight="bold" fill="#000" transform="rotate(-90 379.31 2171)" textLength="349.7" lengthAdjust="spacingAndGlyphs">Cells with &gt; 10 RIF1 foci (%)</text>
<polyline points="448.6,2324.18 468.65,2145.91 568.87,2108.97 929.68,2272.78" fill="none" stroke="#1a5cad" stroke-width="2.7" stroke-linejoin="round"/>
<polyline points="448.6,2327.39 468.65,2147.52 568.87,2113.79 929.68,2259.94" fill="none" stroke="#e2468c" stroke-width="2.7" stroke-linejoin="round"/>
<polyline points="448.6,2317.75 468.65,2186.06 568.87,2149.12 929.68,2285.63" fill="none" stroke="#6ab547" stroke-width="2.7" stroke-linejoin="round"/>
<polyline points="448.6,2327.39 468.65,2099.34 568.87,2157.15 929.68,2285.63" fill="none" stroke="#000" stroke-width="2.7" stroke-linejoin="round"/>
<line x1="468.65" y1="2123.43" x2="468.65" y2="2072.03" stroke="#000" stroke-width="2.2"/>
<line x1="462.65" y1="2123.43" x2="474.65" y2="2123.43" stroke="#000" stroke-width="2.2"/>
<line x1="462.65" y1="2072.03" x2="474.65" y2="2072.03" stroke="#000" stroke-width="2.2"/>
<line x1="568.87" y1="2189.27" x2="568.87" y2="2123.43" stroke="#000" stroke-width="2.2"/>
<line x1="562.87" y1="2189.27" x2="574.87" y2="2189.27" stroke="#000" stroke-width="2.2"/>
<line x1="562.87" y1="2123.43" x2="574.87" y2="2123.43" stroke="#000" stroke-width="2.2"/>
<line x1="929.68" y1="2301.69" x2="929.68" y2="2272.78" stroke="#000" stroke-width="2.2"/>
<line x1="923.68" y1="2301.69" x2="935.68" y2="2301.69" stroke="#000" stroke-width="2.2"/>
<line x1="923.68" y1="2272.78" x2="935.68" y2="2272.78" stroke="#000" stroke-width="2.2"/>
<circle cx="468.65" cy="2147.52" r="7.6" fill="#1a5cad"/>
<circle cx="468.65" cy="2150.73" r="7.6" fill="#1a5cad"/>
<circle cx="568.87" cy="2104.15" r="7.6" fill="#1a5cad"/>
<circle cx="929.68" cy="2272.78" r="7.6" fill="#1a5cad"/>
<circle cx="448.6" cy="2328.99" r="7.6" fill="#e2468c"/>
<circle cx="468.65" cy="2136.27" r="7.6" fill="#e2468c"/>
<circle cx="468.65" cy="2147.52" r="7.6" fill="#e2468c"/>
<circle cx="468.65" cy="2153.94" r="7.6" fill="#e2468c"/>
<circle cx="568.87" cy="2108.97" r="7.6" fill="#e2468c"/>
<circle cx="568.87" cy="2112.18" r="7.6" fill="#e2468c"/>
<circle cx="568.87" cy="2115.4" r="7.6" fill="#e2468c"/>
<circle cx="929.68" cy="2250.3" r="7.6" fill="#e2468c"/>
<circle cx="929.68" cy="2259.94" r="7.6" fill="#e2468c"/>
<circle cx="929.68" cy="2266.36" r="7.6" fill="#e2468c"/>
<circle cx="448.6" cy="2316.15" r="7.6" fill="#6ab547"/>
<circle cx="468.65" cy="2171.61" r="7.6" fill="#6ab547"/>
<circle cx="468.65" cy="2186.06" r="7.6" fill="#6ab547"/>
<circle cx="468.65" cy="2192.48" r="7.6" fill="#6ab547"/>
<circle cx="568.87" cy="2141.09" r="7.6" fill="#6ab547"/>
<circle cx="568.87" cy="2147.52" r="7.6" fill="#6ab547"/>
<circle cx="568.87" cy="2150.73" r="7.6" fill="#6ab547"/>
<circle cx="929.68" cy="2279.21" r="7.6" fill="#6ab547"/>
<circle cx="929.68" cy="2287.24" r="7.6" fill="#6ab547"/>
<circle cx="929.68" cy="2292.06" r="7.6" fill="#6ab547"/>
<circle cx="448.6" cy="2327.39" r="7.6" fill="#000"/>
<circle cx="468.65" cy="2076.85" r="7.6" fill="#000"/>
<circle cx="468.65" cy="2097.73" r="7.6" fill="#000"/>
<circle cx="468.65" cy="2112.18" r="7.6" fill="#000"/>
<circle cx="568.87" cy="2131.46" r="7.6" fill="#000"/>
<circle cx="568.87" cy="2157.15" r="7.6" fill="#000"/>
<circle cx="568.87" cy="2178.03" r="7.6" fill="#000"/>
<circle cx="929.68" cy="2274.39" r="7.6" fill="#000"/>
<circle cx="929.68" cy="2295.27" r="7.6" fill="#000"/>
<line x1="726" y1="2018.3" x2="762" y2="2018.3" stroke="#000" stroke-width="2.7"/>
<circle cx="742.8" cy="2018.3" r="6.6" fill="#000"/>
<text x="780.2" y="2025.89" font-size="22" fill="#000">siNT</text>
<line x1="726" y1="2050.4" x2="762" y2="2050.4" stroke="#6ab547" stroke-width="2.7"/>
<circle cx="742.8" cy="2050.4" r="7.8" fill="#6ab547"/>
<text x="780.2" y="2057.99" font-size="22" fill="#000">siCRY1</text>
<line x1="726" y1="2086.6" x2="762" y2="2086.6" stroke="#e2468c" stroke-width="2.7"/>
<circle cx="742.8" cy="2086.6" r="7.8" fill="#e2468c"/>
<text x="780.2" y="2094.19" font-size="22" fill="#000">siCCAR2</text>
<line x1="726" y1="2120.8" x2="762" y2="2120.8" stroke="#1a5cad" stroke-width="2.7"/>
<circle cx="742.8" cy="2120.8" r="7.8" fill="#1a5cad"/>
<text x="780.2" y="2128.39" font-size="22" fill="#000">siCRY1siCCAR2</text>
<text x="989.1" y="2004.9" font-size="37.2" font-weight="bold" fill="#260a05">R</text>
<line x1="1097.8" y1="2014.7" x2="1097.8" y2="2337.75" stroke="#000" stroke-width="2.9"/>
<line x1="1087" y1="2016.15" x2="1097.8" y2="2016.15" stroke="#000" stroke-width="2.9"/>
<text x="1080.7" y="2025.4" font-size="24.2" text-anchor="end" fill="#000">100</text>
<line x1="1087" y1="2080.18" x2="1097.8" y2="2080.18" stroke="#000" stroke-width="2.9"/>
<text x="1080.7" y="2089.43" font-size="24.2" text-anchor="end" fill="#000">80</text>
<line x1="1087" y1="2144.21" x2="1097.8" y2="2144.21" stroke="#000" stroke-width="2.9"/>
<text x="1080.7" y="2153.46" font-size="24.2" text-anchor="end" fill="#000">60</text>
<line x1="1087" y1="2208.24" x2="1097.8" y2="2208.24" stroke="#000" stroke-width="2.9"/>
<text x="1080.7" y="2217.49" font-size="24.2" text-anchor="end" fill="#000">40</text>
<line x1="1087" y1="2272.27" x2="1097.8" y2="2272.27" stroke="#000" stroke-width="2.9"/>
<text x="1080.7" y="2281.52" font-size="24.2" text-anchor="end" fill="#000">20</text>
<line x1="1087" y1="2336.3" x2="1097.8" y2="2336.3" stroke="#000" stroke-width="2.9"/>
<text x="1080.7" y="2345.55" font-size="24.2" text-anchor="end" fill="#000">0</text>
<line x1="1087" y1="2336.3" x2="1347.5" y2="2336.3" stroke="#000" stroke-width="2.9"/>
<g fill="#000"><circle cx="1157.4" cy="2336.3" r="4.2"/><circle cx="1164.93" cy="2336.3" r="4.2"/><circle cx="1172.47" cy="2336.3" r="4.2"/><circle cx="1180" cy="2336.3" r="4.2"/><circle cx="1151.4" cy="2329.9" r="4.2"/><circle cx="1158.32" cy="2329.9" r="4.2"/><circle cx="1165.24" cy="2329.9" r="4.2"/><circle cx="1172.16" cy="2329.9" r="4.2"/><circle cx="1179.08" cy="2329.9" r="4.2"/><circle cx="1186" cy="2329.9" r="4.2"/><circle cx="1144.9" cy="2323.49" r="4.2"/><circle cx="1151.7" cy="2323.49" r="4.2"/><circle cx="1158.5" cy="2323.49" r="4.2"/><circle cx="1165.3" cy="2323.49" r="4.2"/><circle cx="1172.1" cy="2323.49" r="4.2"/><circle cx="1178.9" cy="2323.49" r="4.2"/><circle cx="1185.7" cy="2323.49" r="4.2"/><circle cx="1192.5" cy="2323.49" r="4.2"/><circle cx="1157.4" cy="2318.05" r="4.2"/><circle cx="1164.93" cy="2318.05" r="4.2"/><circle cx="1172.47" cy="2318.05" r="4.2"/><circle cx="1180" cy="2318.05" r="4.2"/><circle cx="1156.9" cy="2311.65" r="4.2"/><circle cx="1162.8" cy="2311.65" r="4.2"/><circle cx="1168.7" cy="2311.65" r="4.2"/><circle cx="1174.6" cy="2311.65" r="4.2"/><circle cx="1180.5" cy="2311.65" r="4.2"/><circle cx="1154.9" cy="2304.29" r="4.2"/><circle cx="1161.8" cy="2304.29" r="4.2"/><circle cx="1168.7" cy="2304.29" r="4.2"/><circle cx="1175.6" cy="2304.29" r="4.2"/><circle cx="1182.5" cy="2304.29" r="4.2"/><circle cx="1152.15" cy="2297.88" r="4.2"/><circle cx="1158.77" cy="2297.88" r="4.2"/><circle cx="1165.39" cy="2297.88" r="4.2"/><circle cx="1172.01" cy="2297.88" r="4.2"/><circle cx="1178.63" cy="2297.88" r="4.2"/><circle cx="1185.25" cy="2297.88" r="4.2"/><circle cx="1148.9" cy="2293.72" r="4.2"/><circle cx="1155.5" cy="2293.72" r="4.2"/><circle cx="1162.1" cy="2293.72" r="4.2"/><circle cx="1168.7" cy="2293.72" r="4.2"/><circle cx="1175.3" cy="2293.72" r="4.2"/><circle cx="1181.9" cy="2293.72" r="4.2"/><circle cx="1188.5" cy="2293.72" r="4.2"/><circle cx="1145.65" cy="2287" r="4.2"/><circle cx="1152.24" cy="2287" r="4.2"/><circle cx="1158.82" cy="2287" r="4.2"/><circle cx="1165.41" cy="2287" r="4.2"/><circle cx="1171.99" cy="2287" r="4.2"/><circle cx="1178.58" cy="2287" r="4.2"/><circle cx="1185.16" cy="2287" r="4.2"/><circle cx="1191.75" cy="2287" r="4.2"/><circle cx="1139.4" cy="2279.31" r="4.2"/><circle cx="1145.91" cy="2279.31" r="4.2"/><circle cx="1152.42" cy="2279.31" r="4.2"/><circle cx="1158.93" cy="2279.31" r="4.2"/><circle cx="1165.44" cy="2279.31" r="4.2"/><circle cx="1171.96" cy="2279.31" r="4.2"/><circle cx="1178.47" cy="2279.31" r="4.2"/><circle cx="1184.98" cy="2279.31" r="4.2"/><circle cx="1191.49" cy="2279.31" r="4.2"/><circle cx="1198" cy="2279.31" r="4.2"/><circle cx="1136.55" cy="2271.63" r="4.2"/><circle cx="1142.98" cy="2271.63" r="4.2"/><circle cx="1149.41" cy="2271.63" r="4.2"/><circle cx="1155.84" cy="2271.63" r="4.2"/><circle cx="1162.27" cy="2271.63" r="4.2"/><circle cx="1168.7" cy="2271.63" r="4.2"/><circle cx="1175.13" cy="2271.63" r="4.2"/><circle cx="1181.56" cy="2271.63" r="4.2"/><circle cx="1187.99" cy="2271.63" r="4.2"/><circle cx="1194.42" cy="2271.63" r="4.2"/><circle cx="1200.85" cy="2271.63" r="4.2"/><circle cx="1141.9" cy="2265.23" r="4.2"/><circle cx="1148.6" cy="2265.23" r="4.2"/><circle cx="1155.3" cy="2265.23" r="4.2"/><circle cx="1162" cy="2265.23" r="4.2"/><circle cx="1168.7" cy="2265.23" r="4.2"/><circle cx="1175.4" cy="2265.23" r="4.2"/><circle cx="1182.1" cy="2265.23" r="4.2"/><circle cx="1188.8" cy="2265.23" r="4.2"/><circle cx="1195.5" cy="2265.23" r="4.2"/><circle cx="1144.9" cy="2258.5" r="4.2"/><circle cx="1151.7" cy="2258.5" r="4.2"/><circle cx="1158.5" cy="2258.5" r="4.2"/><circle cx="1165.3" cy="2258.5" r="4.2"/><circle cx="1172.1" cy="2258.5" r="4.2"/><circle cx="1178.9" cy="2258.5" r="4.2"/><circle cx="1185.7" cy="2258.5" r="4.2"/><circle cx="1192.5" cy="2258.5" r="4.2"/><circle cx="1156.9" cy="2249.86" r="4.2"/><circle cx="1162.8" cy="2249.86" r="4.2"/><circle cx="1168.7" cy="2249.86" r="4.2"/><circle cx="1174.6" cy="2249.86" r="4.2"/><circle cx="1180.5" cy="2249.86" r="4.2"/><circle cx="1157.4" cy="2243.46" r="4.2"/><circle cx="1164.93" cy="2243.46" r="4.2"/><circle cx="1172.47" cy="2243.46" r="4.2"/><circle cx="1180" cy="2243.46" r="4.2"/><circle cx="1159.4" cy="2237.05" r="4.2"/><circle cx="1165.6" cy="2237.05" r="4.2"/><circle cx="1171.8" cy="2237.05" r="4.2"/><circle cx="1178" cy="2237.05" r="4.2"/><circle cx="1163.15" cy="2230.01" r="4.2"/><circle cx="1168.7" cy="2230.01" r="4.2"/><circle cx="1174.25" cy="2230.01" r="4.2"/><circle cx="1163.9" cy="2224.25" r="4.2"/><circle cx="1173.5" cy="2224.25" r="4.2"/><circle cx="1162.4" cy="2217.84" r="4.2"/><circle cx="1168.7" cy="2217.84" r="4.2"/><circle cx="1175" cy="2217.84" r="4.2"/><circle cx="1166.4" cy="2209.84" r="4.2"/><circle cx="1171" cy="2209.84" r="4.2"/><circle cx="1166.9" cy="2197.03" r="4.2"/><circle cx="1170.5" cy="2197.03" r="4.2"/><circle cx="1168.7" cy="2179.43" r="4.2"/><circle cx="1168.7" cy="2157.02" r="4.2"/><circle cx="1168.7" cy="2146.77" r="4.2"/><circle cx="1168.7" cy="2041.76" r="4.2"/></g>
<g fill="#000"><circle cx="1264.1" cy="2336.3" r="4.2"/><circle cx="1270.63" cy="2336.3" r="4.2"/><circle cx="1277.17" cy="2336.3" r="4.2"/><circle cx="1283.7" cy="2336.3" r="4.2"/><circle cx="1258.1" cy="2329.9" r="4.2"/><circle cx="1264.42" cy="2329.9" r="4.2"/><circle cx="1270.74" cy="2329.9" r="4.2"/><circle cx="1277.06" cy="2329.9" r="4.2"/><circle cx="1283.38" cy="2329.9" r="4.2"/><circle cx="1289.7" cy="2329.9" r="4.2"/><circle cx="1262.6" cy="2323.49" r="4.2"/><circle cx="1270.13" cy="2323.49" r="4.2"/><circle cx="1277.67" cy="2323.49" r="4.2"/><circle cx="1285.2" cy="2323.49" r="4.2"/><circle cx="1253.6" cy="2318.05" r="4.2"/><circle cx="1260.37" cy="2318.05" r="4.2"/><circle cx="1267.13" cy="2318.05" r="4.2"/><circle cx="1273.9" cy="2318.05" r="4.2"/><circle cx="1280.67" cy="2318.05" r="4.2"/><circle cx="1287.43" cy="2318.05" r="4.2"/><circle cx="1294.2" cy="2318.05" r="4.2"/><circle cx="1244.35" cy="2311.65" r="4.2"/><circle cx="1250.92" cy="2311.65" r="4.2"/><circle cx="1257.48" cy="2311.65" r="4.2"/><circle cx="1264.05" cy="2311.65" r="4.2"/><circle cx="1270.62" cy="2311.65" r="4.2"/><circle cx="1277.18" cy="2311.65" r="4.2"/><circle cx="1283.75" cy="2311.65" r="4.2"/><circle cx="1290.32" cy="2311.65" r="4.2"/><circle cx="1296.88" cy="2311.65" r="4.2"/><circle cx="1303.45" cy="2311.65" r="4.2"/><circle cx="1242.4" cy="2304.29" r="4.2"/><circle cx="1248.7" cy="2304.29" r="4.2"/><circle cx="1255" cy="2304.29" r="4.2"/><circle cx="1261.3" cy="2304.29" r="4.2"/><circle cx="1267.6" cy="2304.29" r="4.2"/><circle cx="1273.9" cy="2304.29" r="4.2"/><circle cx="1280.2" cy="2304.29" r="4.2"/><circle cx="1286.5" cy="2304.29" r="4.2"/><circle cx="1292.8" cy="2304.29" r="4.2"/><circle cx="1299.1" cy="2304.29" r="4.2"/><circle cx="1305.4" cy="2304.29" r="4.2"/><circle cx="1247.1" cy="2297.88" r="4.2"/><circle cx="1253.8" cy="2297.88" r="4.2"/><circle cx="1260.5" cy="2297.88" r="4.2"/><circle cx="1267.2" cy="2297.88" r="4.2"/><circle cx="1273.9" cy="2297.88" r="4.2"/><circle cx="1280.6" cy="2297.88" r="4.2"/><circle cx="1287.3" cy="2297.88" r="4.2"/><circle cx="1294" cy="2297.88" r="4.2"/><circle cx="1300.7" cy="2297.88" r="4.2"/><circle cx="1242.1" cy="2291.48" r="4.2"/><circle cx="1248.46" cy="2291.48" r="4.2"/><circle cx="1254.82" cy="2291.48" r="4.2"/><circle cx="1261.18" cy="2291.48" r="4.2"/><circle cx="1267.54" cy="2291.48" r="4.2"/><circle cx="1273.9" cy="2291.48" r="4.2"/><circle cx="1280.26" cy="2291.48" r="4.2"/><circle cx="1286.62" cy="2291.48" r="4.2"/><circle cx="1292.98" cy="2291.48" r="4.2"/><circle cx="1299.34" cy="2291.48" r="4.2"/><circle cx="1305.7" cy="2291.48" r="4.2"/><circle cx="1243.1" cy="2285.08" r="4.2"/><circle cx="1249.94" cy="2285.08" r="4.2"/><circle cx="1256.79" cy="2285.08" r="4.2"/><circle cx="1263.63" cy="2285.08" r="4.2"/><circle cx="1270.48" cy="2285.08" r="4.2"/><circle cx="1277.32" cy="2285.08" r="4.2"/><circle cx="1284.17" cy="2285.08" r="4.2"/><circle cx="1291.01" cy="2285.08" r="4.2"/><circle cx="1297.86" cy="2285.08" r="4.2"/><circle cx="1304.7" cy="2285.08" r="4.2"/><circle cx="1251.6" cy="2279.31" r="4.2"/><circle cx="1257.97" cy="2279.31" r="4.2"/><circle cx="1264.34" cy="2279.31" r="4.2"/><circle cx="1270.71" cy="2279.31" r="4.2"/><circle cx="1277.09" cy="2279.31" r="4.2"/><circle cx="1283.46" cy="2279.31" r="4.2"/><circle cx="1289.83" cy="2279.31" r="4.2"/><circle cx="1296.2" cy="2279.31" r="4.2"/><circle cx="1251.6" cy="2272.27" r="4.2"/><circle cx="1257.97" cy="2272.27" r="4.2"/><circle cx="1264.34" cy="2272.27" r="4.2"/><circle cx="1270.71" cy="2272.27" r="4.2"/><circle cx="1277.09" cy="2272.27" r="4.2"/><circle cx="1283.46" cy="2272.27" r="4.2"/><circle cx="1289.83" cy="2272.27" r="4.2"/><circle cx="1296.2" cy="2272.27" r="4.2"/><circle cx="1253.1" cy="2265.87" r="4.2"/><circle cx="1260.03" cy="2265.87" r="4.2"/><circle cx="1266.97" cy="2265.87" r="4.2"/><circle cx="1273.9" cy="2265.87" r="4.2"/><circle cx="1280.83" cy="2265.87" r="4.2"/><circle cx="1287.77" cy="2265.87" r="4.2"/><circle cx="1294.7" cy="2265.87" r="4.2"/><circle cx="1245.1" cy="2259.46" r="4.2"/><circle cx="1251.5" cy="2259.46" r="4.2"/><circle cx="1257.9" cy="2259.46" r="4.2"/><circle cx="1264.3" cy="2259.46" r="4.2"/><circle cx="1270.7" cy="2259.46" r="4.2"/><circle cx="1277.1" cy="2259.46" r="4.2"/><circle cx="1283.5" cy="2259.46" r="4.2"/><circle cx="1289.9" cy="2259.46" r="4.2"/><circle cx="1296.3" cy="2259.46" r="4.2"/><circle cx="1302.7" cy="2259.46" r="4.2"/><circle cx="1259.6" cy="2251.46" r="4.2"/><circle cx="1266.75" cy="2251.46" r="4.2"/><circle cx="1273.9" cy="2251.46" r="4.2"/><circle cx="1281.05" cy="2251.46" r="4.2"/><circle cx="1288.2" cy="2251.46" r="4.2"/><circle cx="1263.1" cy="2243.46" r="4.2"/><circle cx="1270.3" cy="2243.46" r="4.2"/><circle cx="1277.5" cy="2243.46" r="4.2"/><circle cx="1284.7" cy="2243.46" r="4.2"/><circle cx="1264.6" cy="2237.05" r="4.2"/><circle cx="1270.8" cy="2237.05" r="4.2"/><circle cx="1277" cy="2237.05" r="4.2"/><circle cx="1283.2" cy="2237.05" r="4.2"/><circle cx="1264.1" cy="2230.65" r="4.2"/><circle cx="1270.63" cy="2230.65" r="4.2"/><circle cx="1277.17" cy="2230.65" r="4.2"/><circle cx="1283.7" cy="2230.65" r="4.2"/><circle cx="1267.1" cy="2221.05" r="4.2"/><circle cx="1273.9" cy="2221.05" r="4.2"/><circle cx="1280.7" cy="2221.05" r="4.2"/><circle cx="1270.6" cy="2214.64" r="4.2"/><circle cx="1277.2" cy="2214.64" r="4.2"/><circle cx="1273.9" cy="2208.24" r="4.2"/><circle cx="1270.6" cy="2200.24" r="4.2"/><circle cx="1277.2" cy="2200.24" r="4.2"/><circle cx="1273.9" cy="2147.41" r="4.2"/></g>
<line x1="1132.8" y1="2274.8" x2="1204" y2="2274.8" stroke="#b5121b" stroke-width="3"/>
<line x1="1240" y1="2280.8" x2="1310.6" y2="2280.8" stroke="#b5121b" stroke-width="3"/>
<path d="M1164.2 2017.4V2001.7H1278.7V2017.4" fill="none" stroke="#000" stroke-width="2.9"/>
<text x="1222" y="1985.5" font-size="20" text-anchor="middle" textLength="19.64" lengthAdjust="spacingAndGlyphs">ns</text>
<text x="1169.6" y="2377.96" font-size="28.3" text-anchor="middle">siNT</text>
<text x="1284.6" y="2377.72" font-size="27.6" text-anchor="middle">siCRY1</text>
<text x="1029.81" y="2180.7" font-size="26.7" text-anchor="middle" transform="rotate(-90 1029.81 2180.7)" textLength="320.8" lengthAdjust="spacingAndGlyphs">53BP1 foci number per cell</text>
<text x="1349.28" y="2001" font-size="37.2" font-weight="bold" fill="#260a05">S</text>
<text x="1464.8" y="2018.93" font-size="23" text-anchor="end">IR</text>
<text x="1464.3" y="2044.34" font-size="23" text-anchor="end">siCRY1</text>
<text x="1501.8" y="2018.93" font-size="23" text-anchor="middle">-</text>
<text x="1556" y="2018.93" font-size="23" text-anchor="middle">+</text>
<text x="1605" y="2018.93" font-size="23" text-anchor="middle">-</text>
<text x="1656" y="2018.93" font-size="23" text-anchor="middle">+</text>
<text x="1501.8" y="2044.34" font-size="23" text-anchor="middle">-</text>
<text x="1556" y="2044.34" font-size="23" text-anchor="middle">-</text>
<text x="1605" y="2044.34" font-size="23" text-anchor="middle">+</text>
<text x="1656" y="2044.34" font-size="23" text-anchor="middle">+</text>
<filter id="bblur" x="-10%" y="-50%" width="120%" height="200%"><feGaussianBlur stdDeviation="1.1"/></filter>
<rect x="1470.4" y="2064.5" width="211" height="37.7" fill="#4a4e4e"/>
<g filter="url(#bblur)">
<rect x="1474.6" y="2089.8" width="49.2" height="3.5" fill="#1a1c1c" rx="1.5"/>
<rect x="1534" y="2088.2" width="37" height="3.4" fill="#202222" rx="1.5"/>
<rect x="1585" y="2085.4" width="41.8" height="4.4" fill="#070808" rx="2"/>
<rect x="1636" y="2083.8" width="42.7" height="3.8" fill="#151717" rx="1.5"/>
</g>
<rect x="1470.4" y="2064.5" width="211" height="37.7" fill="none" stroke="#2a1410" stroke-width="2.6"/>
<text x="1463.6" y="2092.8" font-size="23.2" text-anchor="end">Ku70</text>
<rect x="1470.4" y="2106.5" width="211" height="35.7" fill="#8b8d8d"/>
<g filter="url(#bblur)">
<rect x="1477.6" y="2123" width="45.8" height="7.5" fill="#050505" rx="3"/>
<rect x="1533.6" y="2124" width="39.5" height="6.2" fill="#050505" rx="3"/>
<rect x="1584" y="2125.5" width="42" height="3.5" fill="#7c7e7e" rx="1"/>
<rect x="1636" y="2125.5" width="42" height="3.5" fill="#7f8181" rx="1"/>
</g>
<rect x="1470.4" y="2106.5" width="211" height="35.7" fill="none" stroke="#2a1410" stroke-width="2.6"/>
<text x="1463.6" y="2131" font-size="23.2" text-anchor="end">CRY1</text>
<rect x="1470.4" y="2146.7" width="211" height="36.3" fill="#d8dada"/>
<g filter="url(#bblur)">
<path d="M1476.5,2180 C1484,2171 1497,2166 1528,2163 L1531,2163.5 L1531,2169.5 C1506,2170.5 1492,2173 1481,2182 Z" fill="#050505"/>
<rect x="1532" y="2159.5" width="47" height="10.3" fill="#050505" rx="4"/>
<rect x="1584" y="2158.8" width="46.5" height="7.8" fill="#050505" rx="3.5"/>
<rect x="1636" y="2156.7" width="42" height="8.3" fill="#050505" rx="3.5"/>
</g>
<rect x="1470.4" y="2146.7" width="211" height="36.3" fill="none" stroke="#2a1410" stroke-width="2.6"/>
<text x="1457.7" y="2171.8" font-size="23.2" text-anchor="end">H3</text>
<rect x="1470.4" y="2189.3" width="211" height="37.7" fill="#464a4a"/>
<g filter="url(#bblur)">
<rect x="1476.8" y="2208.1" width="36.9" height="4.9" fill="#0a0c0c" rx="2"/>
<rect x="1528.3" y="2208.6" width="38.9" height="6.4" fill="#050606" rx="2.5"/>
<rect x="1579" y="2208.8" width="36.2" height="4.9" fill="#0a0c0c" rx="2"/>
<rect x="1629.8" y="2209.3" width="43.1" height="6.5" fill="#030404" rx="2.5"/>
</g>
<rect x="1470.4" y="2189.3" width="211" height="37.7" fill="none" stroke="#2a1410" stroke-width="2.6"/>
<text x="1463.6" y="2217" font-size="23.2" text-anchor="end">Ku70</text>
<rect x="1470.4" y="2231.3" width="211" height="35.7" fill="#8f9191"/>
<g filter="url(#bblur)">
<rect x="1516.5" y="2233" width="10.5" height="32" fill="#a8aaaa"/>
<rect x="1570" y="2233" width="9.5" height="32" fill="#a8aaaa"/>
<rect x="1618.7" y="2233" width="11.8" height="32" fill="#a8aaaa"/>
<rect x="1476.1" y="2251.3" width="38.3" height="5" fill="#070808" rx="2"/>
<rect x="1528.3" y="2251.3" width="40.3" height="6.7" fill="#070808" rx="2.5"/>
<rect x="1582" y="2251.5" width="35" height="4.5" fill="#828484" rx="1"/>
<rect x="1632" y="2251.5" width="43" height="4.5" fill="#848686" rx="1"/>
</g>
<rect x="1470.4" y="2231.3" width="211" height="35.7" fill="none" stroke="#2a1410" stroke-width="2.6"/>
<text x="1463.6" y="2256.9" font-size="23.2" text-anchor="end">CRY1</text>
<rect x="1470.4" y="2271.8" width="211" height="36.5" fill="#dcdede"/>
<g filter="url(#bblur)">
<rect x="1475.4" y="2283.3" width="43.1" height="11.1" fill="#030303" rx="5"/>
<rect x="1524.8" y="2283.3" width="43.1" height="10.1" fill="#030303" rx="5"/>
<path d="M1549,2290 L1556,2290 L1554,2298 L1551,2298 Z" fill="#030303"/>
<rect x="1571.4" y="2283.3" width="38.9" height="8.3" fill="#030303" rx="4"/>
<path d="M1617.3,2284 C1640,2283.5 1655,2285 1665,2289 C1670,2291 1673,2294 1673.5,2297.5 L1668,2297.5 C1660,2294 1645,2292 1617.3,2293.5 Z" fill="#030303"/>
</g>
<rect x="1470.4" y="2271.8" width="211" height="36.5" fill="none" stroke="#2a1410" stroke-width="2.6"/>
<text x="1457.7" y="2296.4" font-size="23.2" text-anchor="end">H3</text>
<text x="1383.81" y="2123" font-size="23.5" text-anchor="middle" transform="rotate(-90 1383.81 2123)">WCE</text>
<text x="1383.7" y="2235.2" font-size="23.2" text-anchor="middle" transform="rotate(-90 1383.7 2235.2)">Chromatin</text>
<line x1="1391" y1="2068.3" x2="1391" y2="2180.4" stroke="#2a1410" stroke-width="2.6"/>
<line x1="1391" y1="2193" x2="1391" y2="2305.7" stroke="#2a1410" stroke-width="2.6"/>
<line x1="1681.5" y1="2063.7" x2="1690" y2="2063.7" stroke="#1a0d0a" stroke-width="3"/>
<text x="1694.5" y="2068.7" font-size="14.5">100 KDa</text>
<line x1="1681.5" y1="2099.6" x2="1690" y2="2099.6" stroke="#1a0d0a" stroke-width="3"/>
<text x="1694.5" y="2104.6" font-size="14.5">75 KDa</text>
<line x1="1681.5" y1="2124.3" x2="1690" y2="2124.3" stroke="#1a0d0a" stroke-width="3"/>
<text x="1694.5" y="2129.3" font-size="14.5">63 KDa</text>
<line x1="1681.5" y1="2145.5" x2="1690" y2="2145.5" stroke="#1a0d0a" stroke-width="3"/>
<text x="1694.5" y="2150.5" font-size="14.5">17 KDa</text>
<line x1="1681.5" y1="2175.3" x2="1690" y2="2175.3" stroke="#1a0d0a" stroke-width="3"/>
<text x="1694.5" y="2180.3" font-size="14.5">11 KDa</text>
<line x1="1681.5" y1="2190.6" x2="1690" y2="2190.6" stroke="#1a0d0a" stroke-width="3"/>
<text x="1694.5" y="2199.4" font-size="14.5">100 KDa</text>
<line x1="1681.5" y1="2225.5" x2="1690" y2="2225.5" stroke="#1a0d0a" stroke-width="3"/>
<text x="1694.5" y="2228.7" font-size="14.5">75 KDa</text>
<line x1="1681.5" y1="2250" x2="1690" y2="2250" stroke="#1a0d0a" stroke-width="3"/>
<text x="1694.5" y="2254.2" font-size="14.5">63 KDa</text>
<line x1="1681.5" y1="2272" x2="1690" y2="2272" stroke="#1a0d0a" stroke-width="3"/>
<text x="1694.5" y="2275.8" font-size="14.5">17 KDa</text>
<line x1="1681.5" y1="2306.6" x2="1690" y2="2306.6" stroke="#1a0d0a" stroke-width="3"/>
<text x="1694.5" y="2310" font-size="14.5">11 KDa</text>
<text x="1737.5" y="2479" font-size="32.8" text-anchor="end">Romero-Franco et.al. Figure 2</text>
</svg></body></html>
